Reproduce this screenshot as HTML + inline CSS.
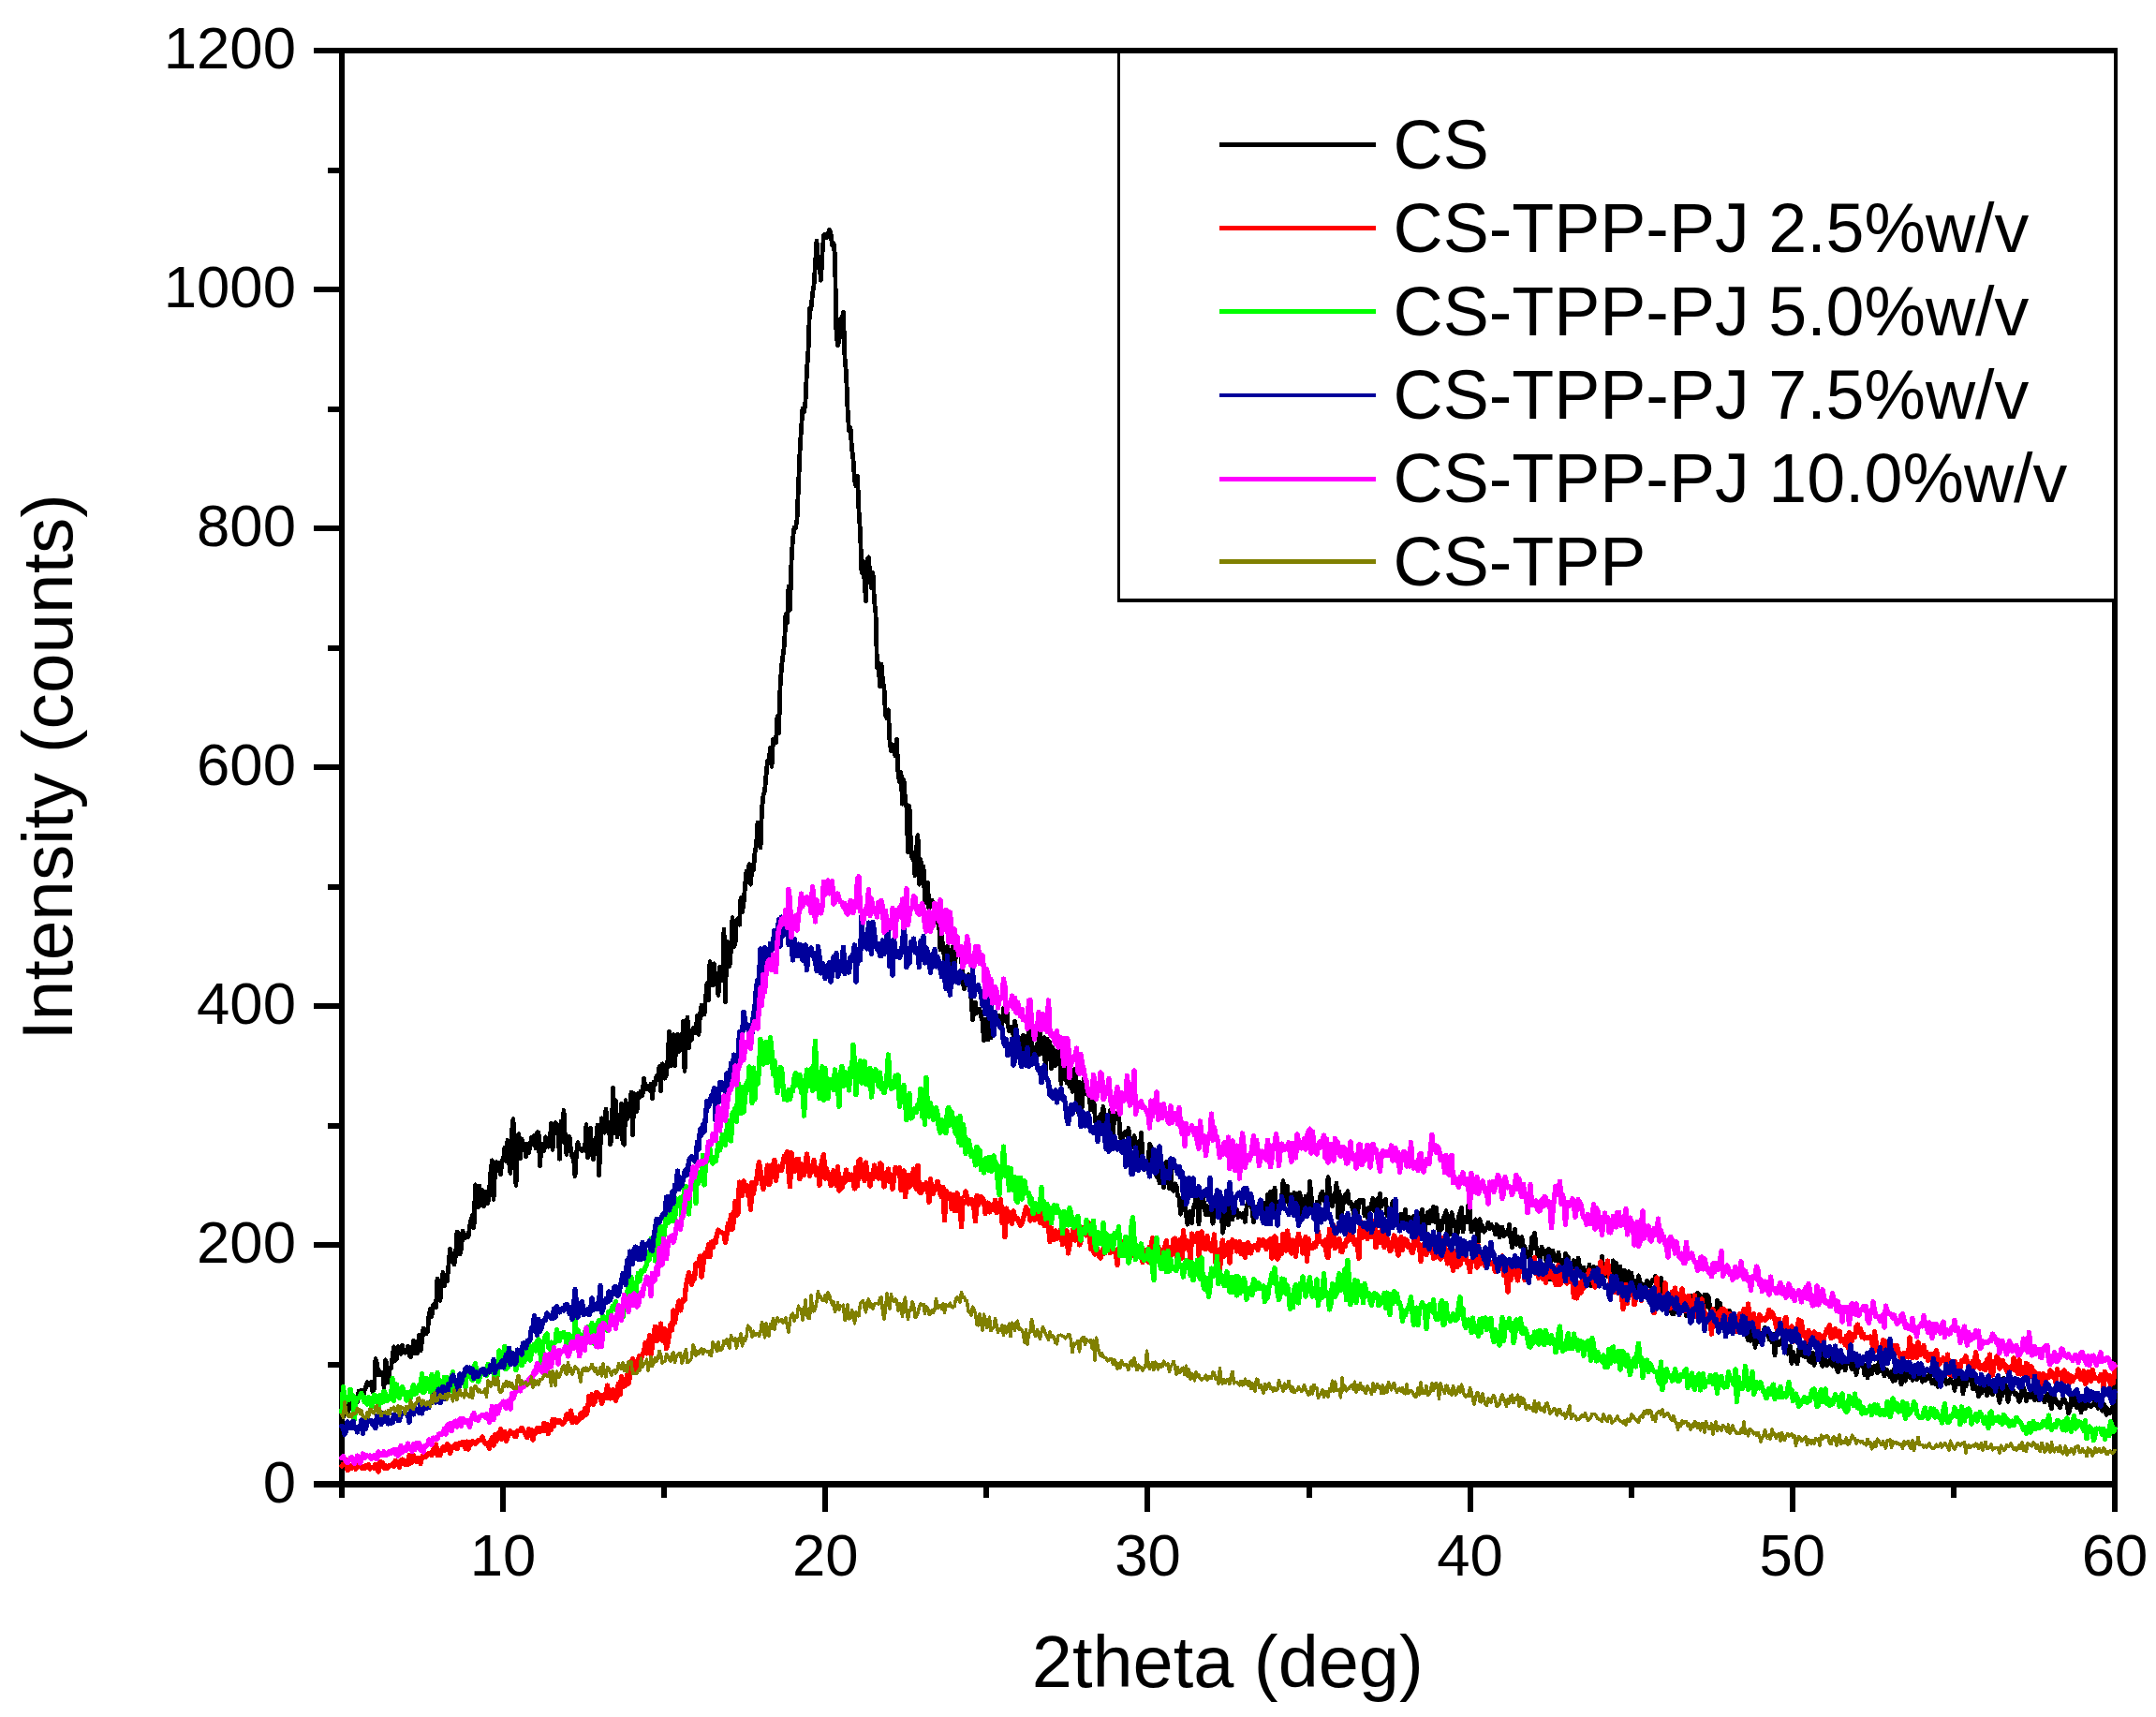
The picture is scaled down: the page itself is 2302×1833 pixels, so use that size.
<!DOCTYPE html>
<html lang="en"><head><meta charset="utf-8"><title>XRD patterns</title>
<style>html,body{margin:0;padding:0;background:#fff}body{width:2302px;height:1833px;overflow:hidden}svg text{font-family:"Liberation Sans",Arial,Helvetica,sans-serif}</style>
</head><body>
<svg width="2302" height="1833" viewBox="0 0 2302 1833" style="display:block">
<rect width="2302" height="1833" fill="#fff"/>
<g fill="#000" shape-rendering="crispEdges">
<rect x="335" y="51" width="1926" height="6"/>
<rect x="362" y="51" width="6" height="1548"/>
<rect x="2255" y="51" width="6" height="1563"/>
<rect x="335" y="1581" width="1926" height="7"/>
<rect x="534" y="1584" width="6" height="30"/>
<rect x="706" y="1584" width="6" height="15"/>
<rect x="878" y="1584" width="6" height="30"/>
<rect x="1050" y="1584" width="6" height="15"/>
<rect x="1222" y="1584" width="6" height="30"/>
<rect x="1395" y="1584" width="6" height="15"/>
<rect x="1567" y="1584" width="6" height="30"/>
<rect x="1739" y="1584" width="6" height="15"/>
<rect x="1911" y="1584" width="6" height="30"/>
<rect x="2083" y="1584" width="6" height="15"/>
<rect x="350" y="1454" width="15" height="6"/>
<rect x="335" y="1326" width="30" height="6"/>
<rect x="350" y="1199" width="15" height="6"/>
<rect x="335" y="1071" width="30" height="6"/>
<rect x="350" y="944" width="15" height="6"/>
<rect x="335" y="816" width="30" height="6"/>
<rect x="350" y="689" width="15" height="6"/>
<rect x="335" y="561" width="30" height="6"/>
<rect x="350" y="434" width="15" height="6"/>
<rect x="335" y="306" width="30" height="6"/>
<rect x="350" y="179" width="15" height="6"/>
</g>
<path d="M365.0 1510.0 L366.5 1513.0 L368.0 1508.2 L369.5 1495.4 L371.0 1509.2 L372.5 1504.5 L374.0 1496.1 L375.5 1502.5 L377.0 1499.5 L378.5 1497.5 L380.0 1494.1 L381.5 1496.4 L383.0 1485.4 L384.5 1488.2 L386.0 1484.3 L387.5 1490.9 L389.0 1485.2 L390.5 1481.2 L392.0 1475.8 L393.5 1478.4 L395.0 1478.9 L396.5 1475.1 L398.0 1486.0 L399.5 1482.2 L401.0 1450.6 L402.5 1455.5 L404.0 1467.8 L405.5 1464.2 L407.0 1467.8 L408.5 1466.3 L410.0 1480.7 L411.5 1451.8 L413.0 1456.5 L414.5 1475.7 L416.0 1462.2 L417.5 1460.9 L419.0 1449.2 L420.5 1437.9 L422.0 1452.4 L423.5 1450.6 L425.0 1437.5 L426.5 1441.1 L428.0 1445.4 L429.5 1436.5 L431.0 1443.3 L432.5 1444.2 L434.0 1442.9 L435.5 1437.2 L437.0 1446.5 L438.5 1448.6 L440.0 1442.6 L441.5 1431.4 L443.0 1444.8 L444.5 1432.5 L446.0 1444.3 L447.5 1425.0 L449.0 1442.2 L450.5 1432.0 L452.0 1418.3 L453.5 1424.2 L455.0 1423.9 L456.5 1421.6 L458.0 1404.2 L459.5 1397.5 L461.0 1405.3 L462.5 1392.9 L464.0 1394.9 L465.5 1395.4 L467.0 1364.9 L468.5 1381.4 L470.0 1388.3 L471.5 1367.8 L473.0 1358.4 L474.5 1372.5 L476.0 1363.4 L477.5 1367.4 L479.0 1349.8 L480.5 1333.3 L482.0 1346.0 L483.5 1338.8 L485.0 1350.0 L486.5 1340.0 L488.0 1315.0 L489.5 1317.0 L491.0 1339.0 L492.5 1333.5 L494.0 1314.2 L495.5 1318.9 L497.0 1321.3 L498.5 1318.4 L500.0 1320.4 L501.5 1309.5 L503.0 1302.0 L504.5 1296.8 L506.0 1310.6 L507.5 1264.9 L509.0 1289.1 L510.5 1288.4 L512.0 1266.3 L513.5 1286.4 L515.0 1270.6 L516.5 1287.8 L518.0 1271.9 L519.5 1279.8 L521.0 1284.5 L522.5 1270.5 L524.0 1250.4 L525.5 1238.7 L527.0 1280.3 L528.5 1251.6 L530.0 1240.6 L531.5 1249.2 L533.0 1241.7 L534.5 1253.6 L536.0 1239.6 L537.5 1237.1 L539.0 1224.9 L540.5 1240.0 L542.0 1217.4 L543.5 1240.7 L545.0 1252.3 L546.5 1208.5 L548.0 1194.6 L549.5 1238.2 L551.0 1265.4 L552.5 1214.5 L554.0 1210.7 L555.5 1236.7 L557.0 1216.0 L558.5 1220.6 L560.0 1222.7 L561.5 1235.0 L563.0 1221.4 L564.5 1231.0 L566.0 1224.2 L567.5 1214.4 L569.0 1221.6 L570.5 1212.3 L572.0 1225.6 L573.5 1208.9 L575.0 1208.8 L576.5 1244.7 L578.0 1222.2 L579.5 1221.2 L581.0 1228.4 L582.5 1213.9 L584.0 1215.7 L585.5 1224.1 L587.0 1221.1 L588.5 1199.3 L590.0 1227.4 L591.5 1206.0 L593.0 1198.7 L594.5 1200.6 L596.0 1207.9 L597.5 1237.4 L599.0 1197.2 L600.5 1217.5 L602.0 1185.4 L603.5 1217.7 L605.0 1232.3 L606.5 1217.5 L608.0 1213.4 L609.5 1227.3 L611.0 1235.4 L612.5 1236.1 L614.0 1255.6 L615.5 1231.0 L617.0 1219.7 L618.5 1226.2 L620.0 1226.6 L621.5 1228.7 L623.0 1226.0 L624.5 1228.1 L626.0 1200.7 L627.5 1235.6 L629.0 1214.2 L630.5 1204.4 L632.0 1229.2 L633.5 1237.7 L635.0 1224.4 L636.5 1218.2 L638.0 1200.9 L639.5 1254.9 L641.0 1224.6 L642.5 1193.7 L644.0 1197.7 L645.5 1209.2 L647.0 1184.0 L648.5 1208.2 L650.0 1197.8 L651.5 1221.6 L653.0 1216.6 L654.5 1161.1 L656.0 1200.7 L657.5 1174.9 L659.0 1214.2 L660.5 1199.1 L662.0 1203.6 L663.5 1178.3 L665.0 1220.3 L666.5 1222.0 L668.0 1174.5 L669.5 1194.8 L671.0 1177.8 L672.5 1186.2 L674.0 1166.1 L675.5 1212.1 L677.0 1167.7 L678.5 1176.2 L680.0 1186.6 L681.5 1167.2 L683.0 1171.6 L684.5 1164.7 L686.0 1169.4 L687.5 1151.5 L689.0 1161.0 L690.5 1162.9 L692.0 1159.3 L693.5 1164.0 L695.0 1157.3 L696.5 1172.5 L698.0 1155.0 L699.5 1157.4 L701.0 1148.8 L702.5 1150.6 L704.0 1138.5 L705.5 1164.8 L707.0 1135.8 L708.5 1138.1 L710.0 1151.2 L711.5 1147.4 L713.0 1130.6 L714.5 1101.4 L716.0 1138.1 L717.5 1133.4 L719.0 1104.7 L720.5 1137.9 L722.0 1112.7 L723.5 1104.3 L725.0 1122.4 L726.5 1116.5 L728.0 1121.0 L729.5 1090.5 L731.0 1143.5 L732.5 1103.0 L734.0 1086.0 L735.5 1118.7 L737.0 1101.2 L738.5 1110.1 L740.0 1097.5 L741.5 1099.9 L743.0 1102.6 L744.5 1084.3 L746.0 1104.4 L747.5 1083.1 L749.0 1073.2 L750.5 1083.2 L752.0 1083.0 L753.5 1065.8 L755.0 1049.5 L756.5 1068.1 L758.0 1026.5 L759.5 1036.3 L761.0 1052.1 L762.5 1028.7 L764.0 1050.2 L765.5 1048.1 L767.0 1062.4 L768.5 1032.2 L770.0 1035.1 L771.5 1047.0 L773.0 992.1 L774.5 1069.9 L776.0 1005.3 L777.5 1006.0 L779.0 1031.5 L780.5 1013.6 L782.0 979.7 L783.5 1011.0 L785.0 1008.0 L786.5 982.3 L788.0 980.8 L789.5 987.3 L791.0 958.5 L792.5 973.6 L794.0 964.0 L795.5 945.8 L797.0 929.9 L798.5 941.4 L800.0 922.5 L801.5 944.2 L803.0 923.6 L804.5 928.5 L806.0 909.8 L807.5 902.5 L809.0 878.1 L810.5 894.3 L812.0 905.0 L813.5 863.4 L815.0 849.1 L816.5 844.7 L818.0 827.5 L819.5 812.0 L821.0 814.4 L822.5 798.1 L824.0 818.4 L825.5 789.2 L827.0 788.6 L828.5 792.4 L830.0 764.8 L831.5 782.6 L833.0 733.9 L834.5 711.9 L836.0 699.9 L837.5 688.2 L839.0 655.6 L840.5 665.1 L842.0 626.3 L843.5 651.2 L845.0 599.7 L846.5 575.1 L848.0 563.4 L849.5 563.7 L851.0 555.1 L852.5 518.6 L854.0 482.7 L855.5 457.5 L857.0 436.0 L858.5 440.2 L860.0 428.4 L861.5 395.4 L863.0 374.1 L864.5 329.2 L866.0 329.6 L867.5 314.2 L869.0 304.6 L870.5 282.6 L872.0 257.1 L873.5 283.9 L875.0 282.2 L876.5 299.3 L878.0 270.5 L879.5 251.5 L881.0 250.2 L882.5 253.4 L884.0 250.2 L885.5 245.3 L887.0 249.0 L888.5 262.1 L890.0 259.5 L891.5 273.0 L893.0 357.0 L894.5 368.7 L896.0 363.3 L897.5 340.1 L899.0 341.3 L900.5 333.2 L902.0 381.4 L903.5 398.1 L905.0 435.9 L906.5 460.2 L908.0 457.0 L909.5 478.2 L911.0 490.3 L912.5 513.2 L914.0 518.5 L915.5 508.2 L917.0 545.2 L918.5 568.0 L920.0 611.3 L921.5 599.1 L923.0 618.8 L924.5 641.9 L926.0 597.4 L927.5 594.9 L929.0 617.3 L930.5 627.5 L932.0 611.5 L933.5 641.4 L935.0 654.5 L936.5 712.7 L938.0 707.3 L939.5 732.6 L941.0 709.0 L942.5 726.4 L944.0 734.7 L945.5 764.0 L947.0 766.8 L948.5 757.7 L950.0 791.6 L951.5 801.7 L953.0 795.0 L954.5 799.4 L956.0 806.8 L957.5 789.3 L959.0 826.4 L960.5 834.6 L962.0 824.8 L963.5 858.4 L965.0 832.5 L966.5 853.5 L968.0 862.6 L969.5 910.0 L971.0 860.5 L972.5 902.8 L974.0 916.3 L975.5 914.6 L977.0 934.6 L978.5 906.4 L980.0 891.6 L981.5 944.2 L983.0 917.5 L984.5 934.9 L986.0 925.2 L987.5 963.1 L989.0 963.5 L990.5 942.5 L992.0 970.9 L993.5 962.1 L995.0 961.1 L996.5 967.2 L998.0 966.9 L999.5 983.4 L1001.0 985.0 L1002.5 984.6 L1004.0 1014.2 L1005.5 998.0 L1007.0 1015.1 L1008.5 1020.3 L1010.0 1037.8 L1011.5 1010.5 L1013.0 1043.1 L1014.5 1021.0 L1016.0 1016.1 L1017.5 1009.8 L1019.0 1028.6 L1020.5 1022.4 L1022.0 1007.9 L1023.5 1009.7 L1025.0 1020.1 L1026.5 1021.1 L1028.0 1048.6 L1029.5 1055.5 L1031.0 1051.7 L1032.5 1048.0 L1034.0 1040.6 L1035.5 1050.7 L1037.0 1066.5 L1038.5 1088.6 L1040.0 1079.1 L1041.5 1070.5 L1043.0 1081.3 L1044.5 1079.3 L1046.0 1077.2 L1047.5 1085.0 L1049.0 1089.9 L1050.5 1111.1 L1052.0 1088.0 L1053.5 1104.9 L1055.0 1110.1 L1056.5 1088.4 L1058.0 1108.0 L1059.5 1096.5 L1061.0 1082.0 L1062.5 1090.8 L1064.0 1087.7 L1065.5 1084.4 L1067.0 1084.8 L1068.5 1089.2 L1070.0 1092.9 L1071.5 1076.6 L1073.0 1088.6 L1074.5 1070.6 L1076.0 1094.5 L1077.5 1100.5 L1079.0 1096.3 L1080.5 1099.4 L1082.0 1104.7 L1083.5 1090.5 L1085.0 1097.0 L1086.5 1107.5 L1088.0 1114.7 L1089.5 1108.5 L1091.0 1136.2 L1092.5 1105.0 L1094.0 1119.6 L1095.5 1124.1 L1097.0 1108.3 L1098.5 1101.3 L1100.0 1098.2 L1101.5 1115.6 L1103.0 1128.2 L1104.5 1119.3 L1106.0 1119.3 L1107.5 1113.9 L1109.0 1126.2 L1110.5 1095.3 L1112.0 1124.4 L1113.5 1123.0 L1115.0 1107.5 L1116.5 1150.0 L1118.0 1109.0 L1119.5 1113.4 L1121.0 1112.8 L1122.5 1140.5 L1124.0 1118.2 L1125.5 1137.2 L1127.0 1137.4 L1128.5 1134.9 L1130.0 1118.6 L1131.5 1128.5 L1133.0 1156.7 L1134.5 1125.3 L1136.0 1132.9 L1137.5 1142.9 L1139.0 1156.1 L1140.5 1152.1 L1142.0 1159.6 L1143.5 1141.4 L1145.0 1165.5 L1146.5 1163.1 L1148.0 1141.1 L1149.5 1177.1 L1151.0 1186.9 L1152.5 1155.3 L1154.0 1165.9 L1155.5 1182.1 L1157.0 1152.9 L1158.5 1149.2 L1160.0 1158.5 L1161.5 1168.3 L1163.0 1170.2 L1164.5 1184.8 L1166.0 1183.2 L1167.5 1169.3 L1169.0 1190.0 L1170.5 1205.2 L1172.0 1199.5 L1173.5 1198.5 L1175.0 1189.6 L1176.5 1200.5 L1178.0 1181.4 L1179.5 1199.9 L1181.0 1192.2 L1182.5 1205.5 L1184.0 1199.6 L1185.5 1184.8 L1187.0 1198.1 L1188.5 1210.1 L1190.0 1187.7 L1191.5 1194.6 L1193.0 1193.6 L1194.5 1187.6 L1196.0 1213.2 L1197.5 1217.8 L1199.0 1214.0 L1200.5 1209.8 L1202.0 1208.2 L1203.5 1212.4 L1205.0 1204.4 L1206.5 1221.6 L1208.0 1224.5 L1209.5 1224.9 L1211.0 1212.5 L1212.5 1220.1 L1214.0 1219.6 L1215.5 1240.1 L1217.0 1226.8 L1218.5 1209.5 L1220.0 1232.8 L1221.5 1248.6 L1223.0 1239.5 L1224.5 1243.3 L1226.0 1237.6 L1227.5 1221.4 L1229.0 1225.1 L1230.5 1232.4 L1232.0 1244.7 L1233.5 1250.8 L1235.0 1256.3 L1236.5 1249.1 L1238.0 1262.7 L1239.5 1253.7 L1241.0 1252.0 L1242.5 1267.8 L1244.0 1254.2 L1245.5 1240.2 L1247.0 1257.0 L1248.5 1269.1 L1250.0 1243.3 L1251.5 1269.0 L1253.0 1271.2 L1254.5 1263.8 L1256.0 1265.6 L1257.5 1276.8 L1259.0 1278.5 L1260.5 1296.2 L1262.0 1290.7 L1263.5 1275.8 L1265.0 1283.2 L1266.5 1297.1 L1268.0 1307.2 L1269.5 1294.3 L1271.0 1293.4 L1272.5 1306.1 L1274.0 1289.7 L1275.5 1286.9 L1277.0 1277.1 L1278.5 1284.3 L1280.0 1306.9 L1281.5 1276.2 L1283.0 1288.4 L1284.5 1276.6 L1286.0 1289.9 L1287.5 1296.8 L1289.0 1287.6 L1290.5 1296.4 L1292.0 1296.8 L1293.5 1295.0 L1295.0 1306.2 L1296.5 1298.7 L1298.0 1289.9 L1299.5 1286.9 L1301.0 1285.7 L1302.5 1297.0 L1304.0 1290.3 L1305.5 1316.2 L1307.0 1308.8 L1308.5 1291.5 L1310.0 1290.6 L1311.5 1307.7 L1313.0 1277.7 L1314.5 1289.8 L1316.0 1301.7 L1317.5 1286.1 L1319.0 1289.8 L1320.5 1291.0 L1322.0 1299.6 L1323.5 1295.4 L1325.0 1297.7 L1326.5 1299.6 L1328.0 1295.0 L1329.5 1304.4 L1331.0 1289.1 L1332.5 1283.5 L1334.0 1280.9 L1335.5 1282.4 L1337.0 1291.6 L1338.5 1305.1 L1340.0 1298.1 L1341.5 1291.8 L1343.0 1288.0 L1344.5 1292.6 L1346.0 1293.7 L1347.5 1292.1 L1349.0 1284.3 L1350.5 1291.6 L1352.0 1303.1 L1353.5 1275.1 L1355.0 1290.0 L1356.5 1272.6 L1358.0 1290.6 L1359.5 1281.2 L1361.0 1268.2 L1362.5 1285.4 L1364.0 1298.7 L1365.5 1282.8 L1367.0 1290.8 L1368.5 1279.3 L1370.0 1260.7 L1371.5 1283.2 L1373.0 1275.4 L1374.5 1266.5 L1376.0 1286.1 L1377.5 1282.1 L1379.0 1275.5 L1380.5 1288.0 L1382.0 1273.4 L1383.5 1287.0 L1385.0 1273.9 L1386.5 1287.0 L1388.0 1273.4 L1389.5 1296.1 L1391.0 1285.8 L1392.5 1296.2 L1394.0 1277.1 L1395.5 1280.3 L1397.0 1291.8 L1398.5 1261.4 L1400.0 1276.0 L1401.5 1294.1 L1403.0 1289.5 L1404.5 1294.1 L1406.0 1283.3 L1407.5 1290.9 L1409.0 1280.1 L1410.5 1274.7 L1412.0 1272.1 L1413.5 1282.0 L1415.0 1282.1 L1416.5 1281.4 L1418.0 1256.6 L1419.5 1269.6 L1421.0 1281.4 L1422.5 1287.7 L1424.0 1279.5 L1425.5 1276.2 L1427.0 1263.1 L1428.5 1299.5 L1430.0 1272.1 L1431.5 1295.5 L1433.0 1294.1 L1434.5 1282.9 L1436.0 1275.7 L1437.5 1282.2 L1439.0 1271.7 L1440.5 1284.6 L1442.0 1283.2 L1443.5 1288.7 L1445.0 1293.2 L1446.5 1300.8 L1448.0 1283.6 L1449.5 1296.6 L1451.0 1281.7 L1452.5 1281.3 L1454.0 1284.0 L1455.5 1281.0 L1457.0 1297.6 L1458.5 1297.1 L1460.0 1300.1 L1461.5 1289.1 L1463.0 1291.6 L1464.5 1284.4 L1466.0 1279.5 L1467.5 1293.1 L1469.0 1291.6 L1470.5 1279.9 L1472.0 1294.3 L1473.5 1274.5 L1475.0 1287.8 L1476.5 1283.9 L1478.0 1284.8 L1479.5 1280.2 L1481.0 1297.9 L1482.5 1295.2 L1484.0 1301.3 L1485.5 1293.5 L1487.0 1282.6 L1488.5 1291.6 L1490.0 1286.2 L1491.5 1301.2 L1493.0 1308.8 L1494.5 1302.7 L1496.0 1296.1 L1497.5 1299.0 L1499.0 1304.6 L1500.5 1291.5 L1502.0 1305.0 L1503.5 1305.7 L1505.0 1299.8 L1506.5 1301.1 L1508.0 1306.2 L1509.5 1298.2 L1511.0 1298.4 L1512.5 1311.8 L1514.0 1307.4 L1515.5 1319.6 L1517.0 1297.7 L1518.5 1291.3 L1520.0 1313.9 L1521.5 1314.1 L1523.0 1300.2 L1524.5 1294.3 L1526.0 1306.1 L1527.5 1292.1 L1529.0 1303.7 L1530.5 1288.5 L1532.0 1304.5 L1533.5 1289.0 L1535.0 1304.4 L1536.5 1318.7 L1538.0 1303.8 L1539.5 1312.2 L1541.0 1300.3 L1542.5 1298.0 L1544.0 1292.8 L1545.5 1313.5 L1547.0 1304.2 L1548.5 1317.9 L1550.0 1294.5 L1551.5 1302.2 L1553.0 1304.5 L1554.5 1315.4 L1556.0 1318.7 L1557.5 1298.1 L1559.0 1294.1 L1560.5 1289.1 L1562.0 1314.7 L1563.5 1303.3 L1565.0 1299.2 L1566.5 1304.8 L1568.0 1284.8 L1569.5 1292.5 L1571.0 1315.2 L1572.5 1311.6 L1574.0 1310.4 L1575.5 1301.8 L1577.0 1315.5 L1578.5 1325.8 L1580.0 1301.7 L1581.5 1312.2 L1583.0 1308.6 L1584.5 1315.1 L1586.0 1312.3 L1587.5 1310.9 L1589.0 1305.0 L1590.5 1312.0 L1592.0 1307.1 L1593.5 1311.0 L1595.0 1311.6 L1596.5 1317.5 L1598.0 1307.4 L1599.5 1309.5 L1601.0 1320.9 L1602.5 1310.4 L1604.0 1310.0 L1605.5 1319.6 L1607.0 1315.6 L1608.5 1315.2 L1610.0 1317.7 L1611.5 1307.5 L1613.0 1323.0 L1614.5 1331.7 L1616.0 1327.5 L1617.5 1312.2 L1619.0 1328.5 L1620.5 1320.5 L1622.0 1327.0 L1623.5 1330.6 L1625.0 1320.7 L1626.5 1341.0 L1628.0 1330.4 L1629.5 1337.5 L1631.0 1336.6 L1632.5 1342.4 L1634.0 1341.5 L1635.5 1320.8 L1637.0 1332.9 L1638.5 1316.0 L1640.0 1329.5 L1641.5 1338.8 L1643.0 1340.6 L1644.5 1343.8 L1646.0 1331.0 L1647.5 1336.7 L1649.0 1335.3 L1650.5 1344.8 L1652.0 1347.7 L1653.5 1333.0 L1655.0 1365.9 L1656.5 1337.1 L1658.0 1335.2 L1659.5 1343.7 L1661.0 1345.9 L1662.5 1345.4 L1664.0 1337.3 L1665.5 1354.8 L1667.0 1345.0 L1668.5 1357.5 L1670.0 1357.5 L1671.5 1338.1 L1673.0 1341.3 L1674.5 1341.9 L1676.0 1352.1 L1677.5 1351.1 L1679.0 1353.3 L1680.5 1345.6 L1682.0 1355.4 L1683.5 1363.2 L1685.0 1343.0 L1686.5 1351.9 L1688.0 1355.7 L1689.5 1353.2 L1691.0 1353.0 L1692.5 1368.1 L1694.0 1364.8 L1695.5 1361.8 L1697.0 1350.0 L1698.5 1372.8 L1700.0 1358.9 L1701.5 1352.1 L1703.0 1354.1 L1704.5 1353.2 L1706.0 1372.9 L1707.5 1358.7 L1709.0 1357.8 L1710.5 1341.4 L1712.0 1363.1 L1713.5 1349.9 L1715.0 1349.5 L1716.5 1362.7 L1718.0 1351.8 L1719.5 1364.7 L1721.0 1367.1 L1722.5 1345.7 L1724.0 1358.3 L1725.5 1348.2 L1727.0 1360.0 L1728.5 1368.0 L1730.0 1352.0 L1731.5 1376.3 L1733.0 1361.6 L1734.5 1356.2 L1736.0 1364.9 L1737.5 1372.6 L1739.0 1357.6 L1740.5 1368.6 L1742.0 1359.3 L1743.5 1378.7 L1745.0 1371.5 L1746.5 1367.7 L1748.0 1378.5 L1749.5 1361.9 L1751.0 1368.6 L1752.5 1385.0 L1754.0 1370.8 L1755.5 1381.7 L1757.0 1373.4 L1758.5 1367.0 L1760.0 1370.4 L1761.5 1372.9 L1763.0 1369.5 L1764.5 1366.7 L1766.0 1367.3 L1767.5 1362.5 L1769.0 1374.3 L1770.5 1376.9 L1772.0 1380.7 L1773.5 1364.4 L1775.0 1385.5 L1776.5 1382.4 L1778.0 1375.4 L1779.5 1388.9 L1781.0 1396.6 L1782.5 1396.9 L1784.0 1400.2 L1785.5 1402.9 L1787.0 1403.0 L1788.5 1396.5 L1790.0 1382.3 L1791.5 1390.8 L1793.0 1397.9 L1794.5 1391.5 L1796.0 1398.7 L1797.5 1398.6 L1799.0 1392.6 L1800.5 1404.4 L1802.0 1383.9 L1803.5 1396.4 L1805.0 1386.0 L1806.5 1383.3 L1808.0 1392.5 L1809.5 1383.9 L1811.0 1394.2 L1812.5 1380.1 L1814.0 1388.7 L1815.5 1382.9 L1817.0 1387.5 L1818.5 1386.9 L1820.0 1382.2 L1821.5 1395.1 L1823.0 1382.6 L1824.5 1385.1 L1826.0 1398.7 L1827.5 1400.0 L1829.0 1398.7 L1830.5 1397.2 L1832.0 1411.3 L1833.5 1388.3 L1835.0 1392.3 L1836.5 1391.5 L1838.0 1405.2 L1839.5 1401.9 L1841.0 1408.4 L1842.5 1408.5 L1844.0 1401.7 L1845.5 1399.2 L1847.0 1399.5 L1848.5 1422.4 L1850.0 1415.7 L1851.5 1414.9 L1853.0 1410.5 L1854.5 1413.2 L1856.0 1413.9 L1857.5 1415.7 L1859.0 1403.9 L1860.5 1420.4 L1862.0 1419.7 L1863.5 1425.1 L1865.0 1425.7 L1866.5 1430.6 L1868.0 1425.8 L1869.5 1431.4 L1871.0 1410.7 L1872.5 1420.3 L1874.0 1438.3 L1875.5 1420.2 L1877.0 1426.4 L1878.5 1432.8 L1880.0 1423.1 L1881.5 1433.3 L1883.0 1420.1 L1884.5 1417.3 L1886.0 1421.2 L1887.5 1419.4 L1889.0 1429.8 L1890.5 1428.2 L1892.0 1432.5 L1893.5 1424.4 L1895.0 1446.9 L1896.5 1431.0 L1898.0 1431.7 L1899.5 1435.5 L1901.0 1432.0 L1902.5 1430.6 L1904.0 1436.1 L1905.5 1442.4 L1907.0 1442.1 L1908.5 1445.1 L1910.0 1437.4 L1911.5 1437.5 L1913.0 1455.4 L1914.5 1443.3 L1916.0 1448.7 L1917.5 1451.2 L1919.0 1456.1 L1920.5 1440.5 L1922.0 1446.1 L1923.5 1446.6 L1925.0 1447.5 L1926.5 1435.3 L1928.0 1449.0 L1929.5 1433.0 L1931.0 1451.9 L1932.5 1453.7 L1934.0 1454.5 L1935.5 1444.5 L1937.0 1457.5 L1938.5 1447.4 L1940.0 1445.7 L1941.5 1447.5 L1943.0 1448.6 L1944.5 1454.7 L1946.0 1458.5 L1947.5 1441.7 L1949.0 1450.2 L1950.5 1458.0 L1952.0 1453.6 L1953.5 1455.3 L1955.0 1443.8 L1956.5 1458.2 L1958.0 1443.9 L1959.5 1454.4 L1961.0 1461.5 L1962.5 1464.9 L1964.0 1457.5 L1965.5 1460.1 L1967.0 1452.0 L1968.5 1453.1 L1970.0 1462.9 L1971.5 1456.6 L1973.0 1456.1 L1974.5 1449.2 L1976.0 1458.3 L1977.5 1461.4 L1979.0 1453.6 L1980.5 1455.5 L1982.0 1467.6 L1983.5 1460.0 L1985.0 1457.6 L1986.5 1453.1 L1988.0 1456.4 L1989.5 1458.7 L1991.0 1468.1 L1992.5 1457.3 L1994.0 1471.1 L1995.5 1456.2 L1997.0 1459.7 L1998.5 1466.7 L2000.0 1461.0 L2001.5 1458.0 L2003.0 1462.3 L2004.5 1465.8 L2006.0 1454.1 L2007.5 1462.6 L2009.0 1463.7 L2010.5 1462.3 L2012.0 1468.9 L2013.5 1461.9 L2015.0 1463.3 L2016.5 1465.7 L2018.0 1469.7 L2019.5 1464.7 L2021.0 1474.4 L2022.5 1461.2 L2024.0 1473.4 L2025.5 1461.8 L2027.0 1465.7 L2028.5 1468.7 L2030.0 1478.1 L2031.5 1471.9 L2033.0 1464.9 L2034.5 1474.3 L2036.0 1466.2 L2037.5 1463.2 L2039.0 1470.2 L2040.5 1468.5 L2042.0 1473.4 L2043.5 1465.5 L2045.0 1470.8 L2046.5 1472.5 L2048.0 1470.9 L2049.5 1469.6 L2051.0 1466.3 L2052.5 1475.3 L2054.0 1471.5 L2055.5 1473.8 L2057.0 1469.6 L2058.5 1471.8 L2060.0 1466.5 L2061.5 1472.7 L2063.0 1476.6 L2064.5 1473.2 L2066.0 1477.4 L2067.5 1474.7 L2069.0 1480.4 L2070.5 1472.3 L2072.0 1464.7 L2073.5 1475.9 L2075.0 1472.8 L2076.5 1468.6 L2078.0 1477.4 L2079.5 1475.5 L2081.0 1476.6 L2082.5 1472.6 L2084.0 1475.6 L2085.5 1476.1 L2087.0 1484.3 L2088.5 1471.5 L2090.0 1475.3 L2091.5 1477.6 L2093.0 1466.9 L2094.5 1467.8 L2096.0 1487.9 L2097.5 1467.6 L2099.0 1480.2 L2100.5 1473.1 L2102.0 1473.9 L2103.5 1467.8 L2105.0 1473.8 L2106.5 1482.9 L2108.0 1471.9 L2109.5 1482.6 L2111.0 1481.4 L2112.5 1490.5 L2114.0 1477.9 L2115.5 1487.2 L2117.0 1485.5 L2118.5 1479.8 L2120.0 1473.0 L2121.5 1489.6 L2123.0 1475.2 L2124.5 1480.0 L2126.0 1487.3 L2127.5 1488.8 L2129.0 1479.1 L2130.5 1483.5 L2132.0 1482.7 L2133.5 1490.3 L2135.0 1497.3 L2136.5 1475.6 L2138.0 1489.8 L2139.5 1471.0 L2141.0 1485.8 L2142.5 1480.5 L2144.0 1496.4 L2145.5 1487.5 L2147.0 1483.3 L2148.5 1484.8 L2150.0 1484.7 L2151.5 1488.8 L2153.0 1487.4 L2154.5 1491.7 L2156.0 1496.4 L2157.5 1492.6 L2159.0 1483.3 L2160.5 1481.7 L2162.0 1486.3 L2163.5 1495.6 L2165.0 1489.1 L2166.5 1487.8 L2168.0 1492.0 L2169.5 1484.7 L2171.0 1486.4 L2172.5 1494.8 L2174.0 1491.1 L2175.5 1490.6 L2177.0 1494.6 L2178.5 1490.5 L2180.0 1490.2 L2181.5 1491.5 L2183.0 1496.8 L2184.5 1494.3 L2186.0 1488.4 L2187.5 1492.9 L2189.0 1497.6 L2190.5 1503.6 L2192.0 1489.2 L2193.5 1496.5 L2195.0 1493.7 L2196.5 1499.1 L2198.0 1497.4 L2199.5 1502.5 L2201.0 1498.1 L2202.5 1493.1 L2204.0 1493.4 L2205.5 1498.2 L2207.0 1498.5 L2208.5 1508.4 L2210.0 1505.3 L2211.5 1492.1 L2213.0 1499.8 L2214.5 1492.2 L2216.0 1491.1 L2217.5 1502.8 L2219.0 1502.2 L2220.5 1495.0 L2222.0 1507.9 L2223.5 1495.7 L2225.0 1495.0 L2226.5 1503.5 L2228.0 1501.5 L2229.5 1499.7 L2231.0 1500.1 L2232.5 1501.5 L2234.0 1499.8 L2235.5 1499.6 L2237.0 1491.6 L2238.5 1494.2 L2240.0 1503.3 L2241.5 1497.2 L2243.0 1503.0 L2244.5 1506.2 L2246.0 1498.8 L2247.5 1501.8 L2249.0 1510.2 L2250.5 1503.7 L2252.0 1509.1 L2253.5 1507.6 L2255.0 1504.0 L2256.5 1499.9 L2258.0 1496.5" fill="none" stroke="#000000" stroke-width="4.8" stroke-linejoin="round" stroke-linecap="round" shape-rendering="crispEdges"/>
<path d="M365.0 1565.0 L366.5 1563.1 L368.0 1563.6 L369.5 1558.5 L371.0 1569.7 L372.5 1568.2 L374.0 1564.5 L375.5 1567.4 L377.0 1566.2 L378.5 1564.2 L380.0 1568.2 L381.5 1564.9 L383.0 1564.9 L384.5 1563.8 L386.0 1567.0 L387.5 1565.6 L389.0 1567.3 L390.5 1564.4 L392.0 1566.3 L393.5 1563.6 L395.0 1568.1 L396.5 1566.4 L398.0 1566.8 L399.5 1567.0 L401.0 1563.3 L402.5 1567.8 L404.0 1571.0 L405.5 1561.3 L407.0 1560.9 L408.5 1561.3 L410.0 1567.1 L411.5 1565.0 L413.0 1567.3 L414.5 1566.1 L416.0 1564.5 L417.5 1564.4 L419.0 1562.8 L420.5 1565.3 L422.0 1559.6 L423.5 1561.2 L425.0 1562.7 L426.5 1566.7 L428.0 1559.3 L429.5 1558.1 L431.0 1559.2 L432.5 1563.1 L434.0 1559.3 L435.5 1563.3 L437.0 1553.7 L438.5 1561.9 L440.0 1561.2 L441.5 1553.5 L443.0 1557.7 L444.5 1560.3 L446.0 1556.5 L447.5 1558.7 L449.0 1562.4 L450.5 1555.6 L452.0 1553.4 L453.5 1551.4 L455.0 1555.3 L456.5 1552.2 L458.0 1551.8 L459.5 1551.6 L461.0 1553.5 L462.5 1547.5 L464.0 1545.5 L465.5 1542.1 L467.0 1553.3 L468.5 1549.2 L470.0 1553.4 L471.5 1547.9 L473.0 1545.0 L474.5 1548.6 L476.0 1546.3 L477.5 1541.9 L479.0 1542.7 L480.5 1551.3 L482.0 1546.1 L483.5 1546.0 L485.0 1543.3 L486.5 1541.5 L488.0 1546.7 L489.5 1543.0 L491.0 1540.5 L492.5 1542.5 L494.0 1539.5 L495.5 1543.2 L497.0 1546.3 L498.5 1539.2 L500.0 1547.0 L501.5 1539.4 L503.0 1542.1 L504.5 1538.4 L506.0 1540.4 L507.5 1541.1 L509.0 1539.2 L510.5 1538.0 L512.0 1537.8 L513.5 1537.0 L515.0 1534.0 L516.5 1538.4 L518.0 1540.4 L519.5 1541.8 L521.0 1540.4 L522.5 1546.6 L524.0 1538.3 L525.5 1534.9 L527.0 1543.0 L528.5 1531.5 L530.0 1538.6 L531.5 1530.8 L533.0 1535.2 L534.5 1525.8 L536.0 1536.3 L537.5 1531.8 L539.0 1528.3 L540.5 1538.1 L542.0 1534.3 L543.5 1531.2 L545.0 1527.9 L546.5 1530.5 L548.0 1529.8 L549.5 1533.1 L551.0 1533.3 L552.5 1527.4 L554.0 1527.7 L555.5 1527.7 L557.0 1524.4 L558.5 1527.2 L560.0 1529.1 L561.5 1532.1 L563.0 1534.4 L564.5 1525.9 L566.0 1531.1 L567.5 1527.0 L569.0 1536.9 L570.5 1528.2 L572.0 1530.2 L573.5 1524.3 L575.0 1524.4 L576.5 1528.1 L578.0 1525.2 L579.5 1527.6 L581.0 1519.3 L582.5 1527.6 L584.0 1520.6 L585.5 1530.6 L587.0 1521.6 L588.5 1526.6 L590.0 1515.4 L591.5 1522.3 L593.0 1516.0 L594.5 1517.0 L596.0 1518.6 L597.5 1516.5 L599.0 1518.5 L600.5 1520.1 L602.0 1519.3 L603.5 1515.8 L605.0 1510.0 L606.5 1512.2 L608.0 1514.6 L609.5 1506.0 L611.0 1518.4 L612.5 1513.9 L614.0 1513.6 L615.5 1518.6 L617.0 1517.1 L618.5 1514.8 L620.0 1508.9 L621.5 1513.6 L623.0 1511.9 L624.5 1503.9 L626.0 1510.1 L627.5 1504.8 L629.0 1490.2 L630.5 1497.7 L632.0 1488.8 L633.5 1499.1 L635.0 1496.7 L636.5 1486.6 L638.0 1487.2 L639.5 1491.7 L641.0 1489.6 L642.5 1498.1 L644.0 1493.9 L645.5 1488.5 L647.0 1492.5 L648.5 1479.0 L650.0 1490.5 L651.5 1492.9 L653.0 1487.0 L654.5 1483.7 L656.0 1489.4 L657.5 1495.5 L659.0 1485.3 L660.5 1477.0 L662.0 1488.9 L663.5 1469.7 L665.0 1480.5 L666.5 1472.9 L668.0 1479.1 L669.5 1467.6 L671.0 1477.2 L672.5 1469.1 L674.0 1455.0 L675.5 1450.6 L677.0 1457.1 L678.5 1463.6 L680.0 1454.3 L681.5 1451.5 L683.0 1447.4 L684.5 1450.9 L686.0 1446.4 L687.5 1443.6 L689.0 1433.7 L690.5 1445.0 L692.0 1444.2 L693.5 1425.8 L695.0 1446.7 L696.5 1435.4 L698.0 1426.4 L699.5 1416.3 L701.0 1431.6 L702.5 1430.0 L704.0 1421.7 L705.5 1413.2 L707.0 1431.1 L708.5 1419.2 L710.0 1419.0 L711.5 1439.5 L713.0 1433.8 L714.5 1424.9 L716.0 1414.3 L717.5 1420.0 L719.0 1398.8 L720.5 1412.1 L722.0 1403.0 L723.5 1395.4 L725.0 1388.9 L726.5 1398.9 L728.0 1391.2 L729.5 1387.2 L731.0 1387.9 L732.5 1371.9 L734.0 1365.8 L735.5 1358.6 L737.0 1366.3 L738.5 1371.5 L740.0 1361.9 L741.5 1365.2 L743.0 1348.8 L744.5 1351.7 L746.0 1347.1 L747.5 1341.1 L749.0 1363.0 L750.5 1353.3 L752.0 1339.0 L753.5 1337.2 L755.0 1341.1 L756.5 1328.5 L758.0 1341.7 L759.5 1326.2 L761.0 1331.7 L762.5 1324.4 L764.0 1326.7 L765.5 1317.6 L767.0 1313.2 L768.5 1315.7 L770.0 1315.6 L771.5 1316.3 L773.0 1316.7 L774.5 1326.3 L776.0 1317.8 L777.5 1306.4 L779.0 1311.9 L780.5 1297.2 L782.0 1312.3 L783.5 1301.8 L785.0 1282.5 L786.5 1297.7 L788.0 1295.4 L789.5 1262.2 L791.0 1276.3 L792.5 1276.2 L794.0 1261.1 L795.5 1266.5 L797.0 1265.4 L798.5 1276.3 L800.0 1272.4 L801.5 1291.3 L803.0 1262.4 L804.5 1274.5 L806.0 1263.2 L807.5 1263.4 L809.0 1249.0 L810.5 1240.9 L812.0 1250.1 L813.5 1262.9 L815.0 1269.4 L816.5 1259.4 L818.0 1257.4 L819.5 1244.1 L821.0 1264.9 L822.5 1262.2 L824.0 1244.1 L825.5 1247.8 L827.0 1238.3 L828.5 1260.4 L830.0 1250.2 L831.5 1245.1 L833.0 1249.5 L834.5 1249.7 L836.0 1241.8 L837.5 1234.2 L839.0 1233.9 L840.5 1229.8 L842.0 1250.3 L843.5 1266.7 L845.0 1230.7 L846.5 1247.9 L848.0 1250.6 L849.5 1238.0 L851.0 1249.2 L852.5 1237.4 L854.0 1258.8 L855.5 1242.4 L857.0 1249.0 L858.5 1254.5 L860.0 1244.4 L861.5 1232.0 L863.0 1243.6 L864.5 1255.5 L866.0 1247.7 L867.5 1250.5 L869.0 1238.4 L870.5 1249.5 L872.0 1254.7 L873.5 1248.2 L875.0 1265.3 L876.5 1245.7 L878.0 1238.0 L879.5 1232.6 L881.0 1258.2 L882.5 1247.5 L884.0 1258.0 L885.5 1253.8 L887.0 1265.6 L888.5 1263.5 L890.0 1249.7 L891.5 1257.0 L893.0 1265.6 L894.5 1245.6 L896.0 1271.0 L897.5 1269.5 L899.0 1267.9 L900.5 1257.4 L902.0 1261.9 L903.5 1249.0 L905.0 1259.5 L906.5 1253.6 L908.0 1259.5 L909.5 1254.1 L911.0 1261.0 L912.5 1268.9 L914.0 1246.1 L915.5 1266.1 L917.0 1239.4 L918.5 1237.6 L920.0 1255.8 L921.5 1256.7 L923.0 1260.4 L924.5 1241.1 L926.0 1255.2 L927.5 1256.4 L929.0 1266.2 L930.5 1253.3 L932.0 1258.5 L933.5 1244.1 L935.0 1250.8 L936.5 1247.9 L938.0 1257.9 L939.5 1242.0 L941.0 1243.1 L942.5 1255.8 L944.0 1266.9 L945.5 1254.0 L947.0 1253.6 L948.5 1248.1 L950.0 1261.8 L951.5 1257.5 L953.0 1269.2 L954.5 1257.3 L956.0 1246.6 L957.5 1251.0 L959.0 1248.2 L960.5 1246.8 L962.0 1270.6 L963.5 1267.4 L965.0 1249.8 L966.5 1277.8 L968.0 1264.6 L969.5 1254.4 L971.0 1267.1 L972.5 1263.6 L974.0 1257.9 L975.5 1248.0 L977.0 1266.3 L978.5 1269.2 L980.0 1244.1 L981.5 1272.6 L983.0 1273.7 L984.5 1264.6 L986.0 1270.3 L987.5 1267.3 L989.0 1262.8 L990.5 1267.6 L992.0 1283.3 L993.5 1258.8 L995.0 1274.2 L996.5 1274.2 L998.0 1266.6 L999.5 1269.4 L1001.0 1261.3 L1002.5 1266.5 L1004.0 1274.6 L1005.5 1277.8 L1007.0 1267.4 L1008.5 1302.8 L1010.0 1271.3 L1011.5 1277.9 L1013.0 1275.4 L1014.5 1274.7 L1016.0 1290.4 L1017.5 1275.7 L1019.0 1292.5 L1020.5 1291.8 L1022.0 1273.7 L1023.5 1292.8 L1025.0 1279.2 L1026.5 1309.6 L1028.0 1283.4 L1029.5 1279.5 L1031.0 1272.0 L1032.5 1278.1 L1034.0 1284.9 L1035.5 1281.8 L1037.0 1280.3 L1038.5 1285.1 L1040.0 1289.4 L1041.5 1303.7 L1043.0 1276.4 L1044.5 1286.1 L1046.0 1282.4 L1047.5 1277.3 L1049.0 1279.1 L1050.5 1281.9 L1052.0 1295.6 L1053.5 1287.4 L1055.0 1284.2 L1056.5 1293.9 L1058.0 1290.9 L1059.5 1286.4 L1061.0 1291.6 L1062.5 1281.4 L1064.0 1294.4 L1065.5 1293.7 L1067.0 1286.9 L1068.5 1280.9 L1070.0 1305.6 L1071.5 1294.4 L1073.0 1320.8 L1074.5 1290.2 L1076.0 1304.1 L1077.5 1294.1 L1079.0 1300.8 L1080.5 1306.4 L1082.0 1293.0 L1083.5 1299.1 L1085.0 1301.3 L1086.5 1300.8 L1088.0 1304.7 L1089.5 1308.1 L1091.0 1306.2 L1092.5 1301.1 L1094.0 1295.5 L1095.5 1288.6 L1097.0 1291.6 L1098.5 1293.1 L1100.0 1303.2 L1101.5 1294.1 L1103.0 1286.5 L1104.5 1302.4 L1106.0 1290.6 L1107.5 1291.8 L1109.0 1297.7 L1110.5 1305.3 L1112.0 1282.8 L1113.5 1295.7 L1115.0 1308.7 L1116.5 1306.2 L1118.0 1303.9 L1119.5 1308.2 L1121.0 1325.5 L1122.5 1311.2 L1124.0 1321.8 L1125.5 1323.3 L1127.0 1314.0 L1128.5 1322.2 L1130.0 1315.7 L1131.5 1315.2 L1133.0 1311.7 L1134.5 1328.7 L1136.0 1318.9 L1137.5 1318.1 L1139.0 1313.8 L1140.5 1337.9 L1142.0 1329.3 L1143.5 1322.1 L1145.0 1317.2 L1146.5 1309.8 L1148.0 1324.1 L1149.5 1323.3 L1151.0 1308.7 L1152.5 1329.0 L1154.0 1325.2 L1155.5 1310.3 L1157.0 1313.2 L1158.5 1314.0 L1160.0 1318.8 L1161.5 1316.9 L1163.0 1306.0 L1164.5 1333.4 L1166.0 1326.3 L1167.5 1336.4 L1169.0 1338.9 L1170.5 1329.7 L1172.0 1336.4 L1173.5 1341.5 L1175.0 1343.1 L1176.5 1336.5 L1178.0 1332.9 L1179.5 1338.0 L1181.0 1331.2 L1182.5 1333.0 L1184.0 1321.1 L1185.5 1337.6 L1187.0 1328.5 L1188.5 1332.0 L1190.0 1335.7 L1191.5 1338.3 L1193.0 1350.6 L1194.5 1337.0 L1196.0 1323.9 L1197.5 1336.1 L1199.0 1330.2 L1200.5 1338.1 L1202.0 1329.4 L1203.5 1329.3 L1205.0 1330.8 L1206.5 1329.9 L1208.0 1320.4 L1209.5 1329.6 L1211.0 1334.8 L1212.5 1344.5 L1214.0 1332.6 L1215.5 1331.9 L1217.0 1339.5 L1218.5 1339.2 L1220.0 1347.6 L1221.5 1339.6 L1223.0 1334.7 L1224.5 1345.5 L1226.0 1347.1 L1227.5 1331.1 L1229.0 1336.2 L1230.5 1321.5 L1232.0 1332.0 L1233.5 1327.9 L1235.0 1333.2 L1236.5 1331.1 L1238.0 1333.6 L1239.5 1334.1 L1241.0 1338.8 L1242.5 1336.7 L1244.0 1330.4 L1245.5 1324.6 L1247.0 1344.7 L1248.5 1346.2 L1250.0 1331.3 L1251.5 1339.4 L1253.0 1322.7 L1254.5 1322.2 L1256.0 1331.9 L1257.5 1345.1 L1259.0 1324.0 L1260.5 1324.6 L1262.0 1343.1 L1263.5 1313.8 L1265.0 1333.2 L1266.5 1331.1 L1268.0 1324.9 L1269.5 1327.7 L1271.0 1347.4 L1272.5 1317.2 L1274.0 1323.9 L1275.5 1324.8 L1277.0 1321.5 L1278.5 1316.7 L1280.0 1340.8 L1281.5 1330.2 L1283.0 1314.8 L1284.5 1323.8 L1286.0 1333.2 L1287.5 1333.7 L1289.0 1319.4 L1290.5 1330.6 L1292.0 1333.8 L1293.5 1335.1 L1295.0 1335.4 L1296.5 1317.9 L1298.0 1347.5 L1299.5 1334.7 L1301.0 1347.7 L1302.5 1356.4 L1304.0 1332.5 L1305.5 1324.1 L1307.0 1341.1 L1308.5 1332.9 L1310.0 1330.9 L1311.5 1326.4 L1313.0 1348.2 L1314.5 1331.3 L1316.0 1323.7 L1317.5 1331.3 L1319.0 1325.6 L1320.5 1335.9 L1322.0 1331.1 L1323.5 1325.7 L1325.0 1338.6 L1326.5 1328.3 L1328.0 1338.8 L1329.5 1342.6 L1331.0 1329.2 L1332.5 1326.5 L1334.0 1332.8 L1335.5 1337.9 L1337.0 1330.4 L1338.5 1331.1 L1340.0 1329.5 L1341.5 1331.9 L1343.0 1334.3 L1344.5 1323.4 L1346.0 1325.2 L1347.5 1329.4 L1349.0 1323.7 L1350.5 1330.2 L1352.0 1333.4 L1353.5 1328.9 L1355.0 1324.2 L1356.5 1322.8 L1358.0 1343.2 L1359.5 1336.1 L1361.0 1320.1 L1362.5 1322.3 L1364.0 1344.2 L1365.5 1341.2 L1367.0 1330.1 L1368.5 1338.4 L1370.0 1317.1 L1371.5 1329.1 L1373.0 1335.0 L1374.5 1314.1 L1376.0 1322.8 L1377.5 1335.3 L1379.0 1338.0 L1380.5 1324.0 L1382.0 1331.0 L1383.5 1341.4 L1385.0 1325.2 L1386.5 1317.3 L1388.0 1327.4 L1389.5 1324.5 L1391.0 1337.9 L1392.5 1328.5 L1394.0 1320.5 L1395.5 1346.2 L1397.0 1322.6 L1398.5 1330.3 L1400.0 1331.8 L1401.5 1332.6 L1403.0 1327.6 L1404.5 1330.9 L1406.0 1325.8 L1407.5 1315.1 L1409.0 1325.2 L1410.5 1325.9 L1412.0 1326.6 L1413.5 1329.7 L1415.0 1324.1 L1416.5 1340.2 L1418.0 1342.5 L1419.5 1312.4 L1421.0 1330.1 L1422.5 1324.2 L1424.0 1308.6 L1425.5 1332.5 L1427.0 1323.8 L1428.5 1325.2 L1430.0 1322.4 L1431.5 1335.8 L1433.0 1336.4 L1434.5 1328.0 L1436.0 1330.7 L1437.5 1323.5 L1439.0 1324.9 L1440.5 1317.1 L1442.0 1322.9 L1443.5 1316.4 L1445.0 1324.8 L1446.5 1328.3 L1448.0 1323.9 L1449.5 1331.0 L1451.0 1343.3 L1452.5 1304.2 L1454.0 1321.6 L1455.5 1316.9 L1457.0 1318.0 L1458.5 1310.7 L1460.0 1322.4 L1461.5 1320.0 L1463.0 1317.2 L1464.5 1320.4 L1466.0 1317.9 L1467.5 1303.8 L1469.0 1331.9 L1470.5 1320.8 L1472.0 1315.8 L1473.5 1326.2 L1475.0 1318.5 L1476.5 1306.4 L1478.0 1331.4 L1479.5 1310.7 L1481.0 1322.7 L1482.5 1325.6 L1484.0 1335.7 L1485.5 1334.5 L1487.0 1326.4 L1488.5 1319.0 L1490.0 1321.9 L1491.5 1334.2 L1493.0 1340.0 L1494.5 1330.1 L1496.0 1320.6 L1497.5 1334.3 L1499.0 1323.1 L1500.5 1323.0 L1502.0 1324.2 L1503.5 1331.4 L1505.0 1329.0 L1506.5 1335.0 L1508.0 1337.7 L1509.5 1331.6 L1511.0 1309.0 L1512.5 1314.4 L1514.0 1329.7 L1515.5 1328.3 L1517.0 1346.6 L1518.5 1329.3 L1520.0 1328.8 L1521.5 1338.0 L1523.0 1339.5 L1524.5 1329.5 L1526.0 1335.7 L1527.5 1323.4 L1529.0 1325.5 L1530.5 1343.4 L1532.0 1322.9 L1533.5 1342.0 L1535.0 1340.7 L1536.5 1342.0 L1538.0 1343.8 L1539.5 1341.9 L1541.0 1321.5 L1542.5 1331.6 L1544.0 1335.9 L1545.5 1349.0 L1547.0 1334.1 L1548.5 1338.6 L1550.0 1342.2 L1551.5 1356.2 L1553.0 1335.5 L1554.5 1336.7 L1556.0 1352.4 L1557.5 1331.0 L1559.0 1350.1 L1560.5 1343.9 L1562.0 1335.0 L1563.5 1343.8 L1565.0 1339.1 L1566.5 1347.9 L1568.0 1349.2 L1569.5 1357.7 L1571.0 1345.8 L1572.5 1346.4 L1574.0 1340.9 L1575.5 1345.0 L1577.0 1353.2 L1578.5 1329.8 L1580.0 1349.9 L1581.5 1340.5 L1583.0 1345.2 L1584.5 1347.3 L1586.0 1351.7 L1587.5 1347.4 L1589.0 1343.1 L1590.5 1349.3 L1592.0 1347.8 L1593.5 1347.1 L1595.0 1351.2 L1596.5 1357.4 L1598.0 1352.7 L1599.5 1353.8 L1601.0 1343.6 L1602.5 1353.4 L1604.0 1340.8 L1605.5 1361.1 L1607.0 1348.9 L1608.5 1366.1 L1610.0 1379.1 L1611.5 1353.2 L1613.0 1366.4 L1614.5 1359.3 L1616.0 1352.0 L1617.5 1349.9 L1619.0 1360.6 L1620.5 1366.9 L1622.0 1359.0 L1623.5 1344.7 L1625.0 1348.3 L1626.5 1354.5 L1628.0 1366.6 L1629.5 1358.4 L1631.0 1358.8 L1632.5 1365.5 L1634.0 1354.7 L1635.5 1355.6 L1637.0 1354.9 L1638.5 1342.7 L1640.0 1359.9 L1641.5 1359.6 L1643.0 1364.2 L1644.5 1348.1 L1646.0 1351.3 L1647.5 1365.1 L1649.0 1361.0 L1650.5 1369.5 L1652.0 1353.2 L1653.5 1361.8 L1655.0 1355.8 L1656.5 1363.9 L1658.0 1358.5 L1659.5 1366.8 L1661.0 1371.4 L1662.5 1368.9 L1664.0 1350.7 L1665.5 1371.7 L1667.0 1368.3 L1668.5 1357.3 L1670.0 1358.8 L1671.5 1365.7 L1673.0 1370.1 L1674.5 1362.7 L1676.0 1354.1 L1677.5 1368.5 L1679.0 1367.9 L1680.5 1385.0 L1682.0 1357.4 L1683.5 1385.9 L1685.0 1380.3 L1686.5 1369.7 L1688.0 1379.9 L1689.5 1368.4 L1691.0 1375.0 L1692.5 1362.4 L1694.0 1368.5 L1695.5 1360.4 L1697.0 1356.2 L1698.5 1365.5 L1700.0 1361.8 L1701.5 1369.9 L1703.0 1373.9 L1704.5 1361.8 L1706.0 1362.2 L1707.5 1362.0 L1709.0 1347.0 L1710.5 1361.3 L1712.0 1359.3 L1713.5 1359.2 L1715.0 1351.9 L1716.5 1346.1 L1718.0 1360.3 L1719.5 1365.8 L1721.0 1375.0 L1722.5 1374.9 L1724.0 1379.0 L1725.5 1372.6 L1727.0 1380.1 L1728.5 1371.8 L1730.0 1379.6 L1731.5 1383.4 L1733.0 1397.6 L1734.5 1381.1 L1736.0 1371.3 L1737.5 1391.4 L1739.0 1376.4 L1740.5 1382.1 L1742.0 1380.6 L1743.5 1376.5 L1745.0 1392.8 L1746.5 1387.7 L1748.0 1379.2 L1749.5 1384.2 L1751.0 1380.8 L1752.5 1388.4 L1754.0 1381.4 L1755.5 1378.8 L1757.0 1379.8 L1758.5 1381.4 L1760.0 1386.7 L1761.5 1378.1 L1763.0 1384.2 L1764.5 1388.1 L1766.0 1401.8 L1767.5 1391.3 L1769.0 1364.0 L1770.5 1381.8 L1772.0 1382.8 L1773.5 1388.0 L1775.0 1397.1 L1776.5 1391.3 L1778.0 1369.7 L1779.5 1388.4 L1781.0 1387.1 L1782.5 1389.4 L1784.0 1396.3 L1785.5 1379.0 L1787.0 1394.7 L1788.5 1375.2 L1790.0 1387.5 L1791.5 1390.0 L1793.0 1403.7 L1794.5 1382.7 L1796.0 1375.9 L1797.5 1393.0 L1799.0 1383.7 L1800.5 1399.8 L1802.0 1384.2 L1803.5 1383.6 L1805.0 1399.2 L1806.5 1391.8 L1808.0 1399.0 L1809.5 1382.9 L1811.0 1405.3 L1812.5 1390.6 L1814.0 1401.4 L1815.5 1389.7 L1817.0 1386.9 L1818.5 1396.7 L1820.0 1400.6 L1821.5 1411.1 L1823.0 1403.4 L1824.5 1406.6 L1826.0 1406.8 L1827.5 1424.1 L1829.0 1397.7 L1830.5 1412.2 L1832.0 1403.1 L1833.5 1406.3 L1835.0 1401.2 L1836.5 1413.2 L1838.0 1397.3 L1839.5 1397.2 L1841.0 1405.1 L1842.5 1399.0 L1844.0 1411.9 L1845.5 1413.7 L1847.0 1402.7 L1848.5 1413.3 L1850.0 1403.8 L1851.5 1408.1 L1853.0 1408.6 L1854.5 1421.2 L1856.0 1408.7 L1857.5 1402.6 L1859.0 1402.5 L1860.5 1416.8 L1862.0 1397.5 L1863.5 1405.5 L1865.0 1406.1 L1866.5 1392.2 L1868.0 1405.5 L1869.5 1415.4 L1871.0 1410.2 L1872.5 1402.6 L1874.0 1413.3 L1875.5 1412.2 L1877.0 1422.3 L1878.5 1403.7 L1880.0 1406.1 L1881.5 1409.0 L1883.0 1407.8 L1884.5 1409.3 L1886.0 1408.0 L1887.5 1404.1 L1889.0 1398.4 L1890.5 1405.9 L1892.0 1401.0 L1893.5 1404.1 L1895.0 1408.4 L1896.5 1416.4 L1898.0 1419.7 L1899.5 1408.3 L1901.0 1418.3 L1902.5 1422.7 L1904.0 1418.2 L1905.5 1408.8 L1907.0 1406.4 L1908.5 1426.4 L1910.0 1427.9 L1911.5 1424.3 L1913.0 1416.1 L1914.5 1432.5 L1916.0 1430.9 L1917.5 1422.4 L1919.0 1420.7 L1920.5 1408.9 L1922.0 1426.1 L1923.5 1410.6 L1925.0 1425.6 L1926.5 1426.1 L1928.0 1422.3 L1929.5 1432.4 L1931.0 1420.5 L1932.5 1426.9 L1934.0 1428.8 L1935.5 1425.8 L1937.0 1422.0 L1938.5 1433.0 L1940.0 1428.2 L1941.5 1424.5 L1943.0 1424.9 L1944.5 1426.8 L1946.0 1440.4 L1947.5 1426.5 L1949.0 1424.4 L1950.5 1419.3 L1952.0 1418.6 L1953.5 1414.6 L1955.0 1428.6 L1956.5 1427.8 L1958.0 1421.5 L1959.5 1419.0 L1961.0 1426.8 L1962.5 1426.0 L1964.0 1421.2 L1965.5 1431.9 L1967.0 1431.1 L1968.5 1430.0 L1970.0 1435.3 L1971.5 1426.1 L1973.0 1438.3 L1974.5 1422.6 L1976.0 1431.4 L1977.5 1431.3 L1979.0 1424.6 L1980.5 1427.6 L1982.0 1416.3 L1983.5 1414.2 L1985.0 1422.2 L1986.5 1418.7 L1988.0 1427.4 L1989.5 1424.3 L1991.0 1428.8 L1992.5 1427.8 L1994.0 1428.1 L1995.5 1428.5 L1997.0 1426.8 L1998.5 1427.5 L2000.0 1444.4 L2001.5 1421.8 L2003.0 1432.7 L2004.5 1441.1 L2006.0 1438.3 L2007.5 1445.4 L2009.0 1441.0 L2010.5 1430.8 L2012.0 1437.6 L2013.5 1432.0 L2015.0 1447.6 L2016.5 1451.3 L2018.0 1440.7 L2019.5 1447.5 L2021.0 1442.4 L2022.5 1436.9 L2024.0 1443.3 L2025.5 1436.9 L2027.0 1443.2 L2028.5 1447.9 L2030.0 1450.9 L2031.5 1454.2 L2033.0 1444.2 L2034.5 1447.4 L2036.0 1448.2 L2037.5 1448.8 L2039.0 1428.0 L2040.5 1440.2 L2042.0 1449.4 L2043.5 1437.7 L2045.0 1445.8 L2046.5 1449.3 L2048.0 1432.9 L2049.5 1443.3 L2051.0 1446.2 L2052.5 1445.3 L2054.0 1436.5 L2055.5 1448.3 L2057.0 1443.5 L2058.5 1452.4 L2060.0 1450.8 L2061.5 1445.6 L2063.0 1450.5 L2064.5 1446.0 L2066.0 1446.5 L2067.5 1441.8 L2069.0 1450.1 L2070.5 1456.7 L2072.0 1453.2 L2073.5 1452.8 L2075.0 1449.8 L2076.5 1450.9 L2078.0 1458.7 L2079.5 1446.1 L2081.0 1467.1 L2082.5 1455.0 L2084.0 1468.2 L2085.5 1462.5 L2087.0 1453.2 L2088.5 1459.9 L2090.0 1457.1 L2091.5 1458.3 L2093.0 1460.2 L2094.5 1452.4 L2096.0 1452.0 L2097.5 1453.2 L2099.0 1447.7 L2100.5 1454.0 L2102.0 1456.9 L2103.5 1457.0 L2105.0 1456.7 L2106.5 1453.2 L2108.0 1460.1 L2109.5 1443.6 L2111.0 1453.2 L2112.5 1453.7 L2114.0 1461.0 L2115.5 1459.9 L2117.0 1461.0 L2118.5 1456.8 L2120.0 1462.5 L2121.5 1451.6 L2123.0 1458.2 L2124.5 1446.1 L2126.0 1468.4 L2127.5 1468.1 L2129.0 1455.9 L2130.5 1454.8 L2132.0 1447.9 L2133.5 1451.4 L2135.0 1461.0 L2136.5 1459.5 L2138.0 1452.2 L2139.5 1457.9 L2141.0 1457.1 L2142.5 1463.7 L2144.0 1465.2 L2145.5 1460.0 L2147.0 1462.0 L2148.5 1461.5 L2150.0 1449.8 L2151.5 1462.8 L2153.0 1461.6 L2154.5 1466.4 L2156.0 1452.0 L2157.5 1466.9 L2159.0 1459.2 L2160.5 1464.6 L2162.0 1470.2 L2163.5 1455.4 L2165.0 1456.7 L2166.5 1470.0 L2168.0 1458.4 L2169.5 1459.8 L2171.0 1468.8 L2172.5 1464.7 L2174.0 1470.4 L2175.5 1468.1 L2177.0 1466.5 L2178.5 1472.4 L2180.0 1479.3 L2181.5 1466.8 L2183.0 1475.7 L2184.5 1473.9 L2186.0 1468.5 L2187.5 1470.5 L2189.0 1463.0 L2190.5 1464.9 L2192.0 1470.0 L2193.5 1468.3 L2195.0 1475.9 L2196.5 1461.7 L2198.0 1467.4 L2199.5 1465.6 L2201.0 1468.4 L2202.5 1475.8 L2204.0 1462.9 L2205.5 1474.4 L2207.0 1466.7 L2208.5 1468.3 L2210.0 1475.8 L2211.5 1469.0 L2213.0 1474.4 L2214.5 1471.5 L2216.0 1470.2 L2217.5 1469.3 L2219.0 1462.0 L2220.5 1467.5 L2222.0 1472.6 L2223.5 1472.9 L2225.0 1463.7 L2226.5 1477.3 L2228.0 1474.9 L2229.5 1464.7 L2231.0 1466.2 L2232.5 1474.6 L2234.0 1462.3 L2235.5 1467.8 L2237.0 1471.6 L2238.5 1471.2 L2240.0 1471.5 L2241.5 1474.0 L2243.0 1467.5 L2244.5 1469.2 L2246.0 1483.0 L2247.5 1464.3 L2249.0 1469.4 L2250.5 1472.5 L2252.0 1468.4 L2253.5 1478.5 L2255.0 1472.3 L2256.5 1476.0 L2258.0 1457.7" fill="none" stroke="#ff0000" stroke-width="5.4" stroke-linejoin="round" stroke-linecap="round" shape-rendering="crispEdges"/>
<path d="M365.0 1508.3 L366.5 1480.7 L368.0 1498.4 L369.5 1492.3 L371.0 1492.9 L372.5 1494.2 L374.0 1483.2 L375.5 1493.8 L377.0 1489.8 L378.5 1514.9 L380.0 1496.0 L381.5 1492.4 L383.0 1492.6 L384.5 1490.1 L386.0 1487.6 L387.5 1491.4 L389.0 1496.5 L390.5 1492.0 L392.0 1499.0 L393.5 1491.8 L395.0 1493.0 L396.5 1502.0 L398.0 1495.7 L399.5 1489.1 L401.0 1490.9 L402.5 1495.1 L404.0 1503.4 L405.5 1489.7 L407.0 1489.6 L408.5 1497.1 L410.0 1485.2 L411.5 1488.6 L413.0 1495.7 L414.5 1493.5 L416.0 1490.3 L417.5 1493.6 L419.0 1471.6 L420.5 1495.3 L422.0 1482.7 L423.5 1478.0 L425.0 1489.8 L426.5 1492.2 L428.0 1484.7 L429.5 1480.4 L431.0 1487.0 L432.5 1486.2 L434.0 1495.1 L435.5 1490.6 L437.0 1486.8 L438.5 1492.3 L440.0 1483.7 L441.5 1478.8 L443.0 1488.0 L444.5 1487.7 L446.0 1482.3 L447.5 1478.3 L449.0 1484.5 L450.5 1466.7 L452.0 1486.8 L453.5 1485.3 L455.0 1471.2 L456.5 1481.9 L458.0 1475.0 L459.5 1485.8 L461.0 1467.5 L462.5 1474.4 L464.0 1484.7 L465.5 1487.3 L467.0 1465.5 L468.5 1476.0 L470.0 1481.1 L471.5 1474.7 L473.0 1488.8 L474.5 1470.3 L476.0 1480.2 L477.5 1470.7 L479.0 1486.5 L480.5 1476.8 L482.0 1474.1 L483.5 1464.8 L485.0 1486.9 L486.5 1480.4 L488.0 1480.0 L489.5 1482.1 L491.0 1476.4 L492.5 1469.3 L494.0 1467.8 L495.5 1467.2 L497.0 1481.3 L498.5 1461.6 L500.0 1466.9 L501.5 1468.1 L503.0 1471.2 L504.5 1473.0 L506.0 1459.9 L507.5 1456.0 L509.0 1467.2 L510.5 1474.9 L512.0 1471.1 L513.5 1466.7 L515.0 1462.3 L516.5 1465.9 L518.0 1461.5 L519.5 1468.2 L521.0 1456.3 L522.5 1462.1 L524.0 1459.7 L525.5 1463.7 L527.0 1460.8 L528.5 1476.6 L530.0 1468.5 L531.5 1467.9 L533.0 1442.0 L534.5 1453.4 L536.0 1450.8 L537.5 1458.3 L539.0 1437.2 L540.5 1461.5 L542.0 1460.0 L543.5 1442.0 L545.0 1443.6 L546.5 1444.1 L548.0 1449.5 L549.5 1453.2 L551.0 1462.8 L552.5 1445.5 L554.0 1451.9 L555.5 1446.6 L557.0 1457.8 L558.5 1449.5 L560.0 1453.5 L561.5 1434.5 L563.0 1440.4 L564.5 1435.1 L566.0 1452.0 L567.5 1444.9 L569.0 1437.0 L570.5 1435.3 L572.0 1441.9 L573.5 1432.3 L575.0 1430.0 L576.5 1440.3 L578.0 1455.0 L579.5 1433.8 L581.0 1430.9 L582.5 1425.7 L584.0 1424.0 L585.5 1438.0 L587.0 1440.1 L588.5 1433.2 L590.0 1435.3 L591.5 1433.2 L593.0 1432.9 L594.5 1419.5 L596.0 1427.4 L597.5 1431.4 L599.0 1424.0 L600.5 1425.9 L602.0 1422.7 L603.5 1426.0 L605.0 1434.8 L606.5 1424.3 L608.0 1425.8 L609.5 1432.9 L611.0 1431.1 L612.5 1438.9 L614.0 1408.2 L615.5 1431.1 L617.0 1419.9 L618.5 1424.2 L620.0 1429.2 L621.5 1430.6 L623.0 1429.6 L624.5 1421.9 L626.0 1432.9 L627.5 1416.9 L629.0 1417.4 L630.5 1424.3 L632.0 1412.5 L633.5 1433.9 L635.0 1423.8 L636.5 1432.4 L638.0 1413.5 L639.5 1409.7 L641.0 1413.3 L642.5 1417.1 L644.0 1405.2 L645.5 1412.2 L647.0 1407.9 L648.5 1420.5 L650.0 1400.2 L651.5 1413.5 L653.0 1398.0 L654.5 1394.1 L656.0 1394.9 L657.5 1389.5 L659.0 1399.5 L660.5 1405.8 L662.0 1396.8 L663.5 1399.1 L665.0 1406.2 L666.5 1392.4 L668.0 1389.8 L669.5 1383.5 L671.0 1369.5 L672.5 1388.4 L674.0 1363.4 L675.5 1382.8 L677.0 1374.3 L678.5 1382.2 L680.0 1368.8 L681.5 1359.3 L683.0 1367.7 L684.5 1356.5 L686.0 1357.5 L687.5 1357.0 L689.0 1352.8 L690.5 1349.8 L692.0 1341.0 L693.5 1344.4 L695.0 1322.7 L696.5 1339.1 L698.0 1326.0 L699.5 1345.9 L701.0 1344.5 L702.5 1309.4 L704.0 1327.4 L705.5 1321.7 L707.0 1309.3 L708.5 1322.4 L710.0 1309.3 L711.5 1292.8 L713.0 1305.4 L714.5 1303.8 L716.0 1303.7 L717.5 1286.9 L719.0 1303.8 L720.5 1302.5 L722.0 1279.9 L723.5 1282.6 L725.0 1286.4 L726.5 1278.7 L728.0 1301.3 L729.5 1282.3 L731.0 1266.6 L732.5 1266.6 L734.0 1272.3 L735.5 1296.0 L737.0 1266.3 L738.5 1267.3 L740.0 1269.3 L741.5 1260.8 L743.0 1284.6 L744.5 1250.5 L746.0 1262.6 L747.5 1253.6 L749.0 1256.4 L750.5 1233.4 L752.0 1264.9 L753.5 1240.8 L755.0 1240.3 L756.5 1226.6 L758.0 1226.6 L759.5 1239.4 L761.0 1242.0 L762.5 1236.9 L764.0 1239.8 L765.5 1231.5 L767.0 1220.9 L768.5 1228.0 L770.0 1222.5 L771.5 1211.4 L773.0 1218.6 L774.5 1222.5 L776.0 1206.8 L777.5 1196.5 L779.0 1206.5 L780.5 1218.0 L782.0 1188.8 L783.5 1187.1 L785.0 1183.4 L786.5 1197.4 L788.0 1156.0 L789.5 1180.8 L791.0 1188.6 L792.5 1160.5 L794.0 1187.2 L795.5 1172.6 L797.0 1156.3 L798.5 1163.5 L800.0 1138.8 L801.5 1148.9 L803.0 1177.6 L804.5 1140.1 L806.0 1173.4 L807.5 1145.9 L809.0 1157.3 L810.5 1142.1 L812.0 1109.3 L813.5 1128.6 L815.0 1136.2 L816.5 1116.4 L818.0 1112.3 L819.5 1134.2 L821.0 1120.6 L822.5 1107.7 L824.0 1123.3 L825.5 1146.7 L827.0 1132.6 L828.5 1155.0 L830.0 1166.7 L831.5 1151.1 L833.0 1139.7 L834.5 1140.5 L836.0 1159.5 L837.5 1173.7 L839.0 1168.5 L840.5 1174.4 L842.0 1163.4 L843.5 1173.7 L845.0 1163.7 L846.5 1164.8 L848.0 1151.2 L849.5 1145.9 L851.0 1157.9 L852.5 1147.7 L854.0 1147.4 L855.5 1166.1 L857.0 1153.9 L858.5 1191.1 L860.0 1163.7 L861.5 1142.2 L863.0 1159.8 L864.5 1154.2 L866.0 1140.8 L867.5 1164.4 L869.0 1140.5 L870.5 1111.5 L872.0 1162.2 L873.5 1144.6 L875.0 1172.4 L876.5 1145.3 L878.0 1138.8 L879.5 1174.4 L881.0 1140.4 L882.5 1156.9 L884.0 1172.8 L885.5 1155.3 L887.0 1152.5 L888.5 1154.5 L890.0 1163.6 L891.5 1141.9 L893.0 1159.8 L894.5 1158.9 L896.0 1181.3 L897.5 1146.2 L899.0 1138.3 L900.5 1159.3 L902.0 1144.2 L903.5 1152.8 L905.0 1150.6 L906.5 1163.9 L908.0 1140.0 L909.5 1147.3 L911.0 1115.3 L912.5 1136.9 L914.0 1168.5 L915.5 1139.6 L917.0 1139.4 L918.5 1132.7 L920.0 1156.1 L921.5 1150.8 L923.0 1133.1 L924.5 1157.2 L926.0 1151.9 L927.5 1158.3 L929.0 1140.2 L930.5 1171.1 L932.0 1153.9 L933.5 1147.0 L935.0 1141.8 L936.5 1145.3 L938.0 1159.7 L939.5 1145.1 L941.0 1162.7 L942.5 1156.5 L944.0 1166.8 L945.5 1160.2 L947.0 1149.3 L948.5 1125.9 L950.0 1155.2 L951.5 1162.3 L953.0 1154.9 L954.5 1160.8 L956.0 1148.4 L957.5 1151.7 L959.0 1147.8 L960.5 1181.3 L962.0 1170.2 L963.5 1165.9 L965.0 1158.6 L966.5 1175.4 L968.0 1195.8 L969.5 1183.1 L971.0 1167.6 L972.5 1194.0 L974.0 1193.1 L975.5 1186.6 L977.0 1183.3 L978.5 1187.3 L980.0 1179.0 L981.5 1181.6 L983.0 1162.1 L984.5 1191.5 L986.0 1176.3 L987.5 1200.2 L989.0 1150.5 L990.5 1186.8 L992.0 1192.1 L993.5 1177.5 L995.0 1189.5 L996.5 1195.1 L998.0 1194.9 L999.5 1182.8 L1001.0 1189.3 L1002.5 1204.9 L1004.0 1209.2 L1005.5 1195.7 L1007.0 1196.3 L1008.5 1198.7 L1010.0 1209.8 L1011.5 1184.9 L1013.0 1182.4 L1014.5 1201.1 L1016.0 1187.1 L1017.5 1194.6 L1019.0 1204.1 L1020.5 1210.5 L1022.0 1193.9 L1023.5 1219.4 L1025.0 1191.4 L1026.5 1222.5 L1028.0 1200.2 L1029.5 1206.5 L1031.0 1231.4 L1032.5 1220.5 L1034.0 1217.2 L1035.5 1222.5 L1037.0 1234.3 L1038.5 1229.2 L1040.0 1230.4 L1041.5 1244.0 L1043.0 1224.1 L1044.5 1227.8 L1046.0 1228.1 L1047.5 1248.7 L1049.0 1247.5 L1050.5 1251.8 L1052.0 1237.2 L1053.5 1236.6 L1055.0 1249.0 L1056.5 1235.3 L1058.0 1250.2 L1059.5 1249.7 L1061.0 1234.0 L1062.5 1241.9 L1064.0 1242.3 L1065.5 1264.6 L1067.0 1275.5 L1068.5 1245.7 L1070.0 1248.4 L1071.5 1224.2 L1073.0 1255.1 L1074.5 1255.5 L1076.0 1246.6 L1077.5 1270.6 L1079.0 1247.1 L1080.5 1264.8 L1082.0 1270.8 L1083.5 1256.8 L1085.0 1280.8 L1086.5 1283.7 L1088.0 1257.2 L1089.5 1257.4 L1091.0 1280.0 L1092.5 1273.4 L1094.0 1260.7 L1095.5 1271.1 L1097.0 1273.5 L1098.5 1273.4 L1100.0 1284.4 L1101.5 1279.9 L1103.0 1295.6 L1104.5 1291.8 L1106.0 1284.8 L1107.5 1289.9 L1109.0 1293.4 L1110.5 1287.4 L1112.0 1267.3 L1113.5 1290.9 L1115.0 1283.3 L1116.5 1301.1 L1118.0 1285.6 L1119.5 1291.3 L1121.0 1290.2 L1122.5 1305.8 L1124.0 1290.7 L1125.5 1286.9 L1127.0 1294.2 L1128.5 1287.2 L1130.0 1294.6 L1131.5 1293.9 L1133.0 1298.0 L1134.5 1316.7 L1136.0 1293.1 L1137.5 1298.9 L1139.0 1297.5 L1140.5 1307.9 L1142.0 1289.4 L1143.5 1295.6 L1145.0 1303.5 L1146.5 1310.6 L1148.0 1305.3 L1149.5 1301.5 L1151.0 1298.5 L1152.5 1313.7 L1154.0 1324.2 L1155.5 1313.3 L1157.0 1312.7 L1158.5 1316.1 L1160.0 1302.5 L1161.5 1309.7 L1163.0 1310.9 L1164.5 1317.4 L1166.0 1314.7 L1167.5 1303.3 L1169.0 1328.0 L1170.5 1334.4 L1172.0 1315.1 L1173.5 1322.5 L1175.0 1321.8 L1176.5 1327.7 L1178.0 1305.3 L1179.5 1337.3 L1181.0 1316.8 L1182.5 1334.9 L1184.0 1323.5 L1185.5 1319.4 L1187.0 1322.5 L1188.5 1333.5 L1190.0 1316.3 L1191.5 1321.8 L1193.0 1321.3 L1194.5 1309.5 L1196.0 1340.4 L1197.5 1333.8 L1199.0 1328.3 L1200.5 1340.8 L1202.0 1320.2 L1203.5 1329.6 L1205.0 1348.2 L1206.5 1341.4 L1208.0 1310.1 L1209.5 1299.7 L1211.0 1323.2 L1212.5 1344.6 L1214.0 1330.1 L1215.5 1333.2 L1217.0 1342.0 L1218.5 1327.9 L1220.0 1339.3 L1221.5 1345.6 L1223.0 1342.9 L1224.5 1342.8 L1226.0 1333.6 L1227.5 1345.1 L1229.0 1336.4 L1230.5 1353.8 L1232.0 1366.7 L1233.5 1334.8 L1235.0 1321.3 L1236.5 1338.8 L1238.0 1347.1 L1239.5 1354.0 L1241.0 1354.7 L1242.5 1337.1 L1244.0 1337.4 L1245.5 1357.8 L1247.0 1335.3 L1248.5 1356.9 L1250.0 1344.6 L1251.5 1354.6 L1253.0 1354.5 L1254.5 1355.6 L1256.0 1356.5 L1257.5 1339.6 L1259.0 1352.5 L1260.5 1350.3 L1262.0 1353.7 L1263.5 1363.1 L1265.0 1349.4 L1266.5 1345.8 L1268.0 1346.3 L1269.5 1351.0 L1271.0 1361.7 L1272.5 1347.5 L1274.0 1366.9 L1275.5 1359.4 L1277.0 1355.1 L1278.5 1345.3 L1280.0 1360.8 L1281.5 1365.6 L1283.0 1343.0 L1284.5 1371.3 L1286.0 1376.1 L1287.5 1364.2 L1289.0 1366.0 L1290.5 1384.4 L1292.0 1373.6 L1293.5 1354.0 L1295.0 1362.5 L1296.5 1361.5 L1298.0 1361.8 L1299.5 1341.3 L1301.0 1370.7 L1302.5 1357.9 L1304.0 1365.6 L1305.5 1363.1 L1307.0 1372.7 L1308.5 1362.1 L1310.0 1357.8 L1311.5 1370.4 L1313.0 1378.9 L1314.5 1363.3 L1316.0 1379.4 L1317.5 1369.6 L1319.0 1363.0 L1320.5 1383.0 L1322.0 1362.7 L1323.5 1380.8 L1325.0 1368.4 L1326.5 1378.4 L1328.0 1364.4 L1329.5 1369.2 L1331.0 1387.3 L1332.5 1380.0 L1334.0 1378.9 L1335.5 1374.6 L1337.0 1382.4 L1338.5 1365.6 L1340.0 1367.8 L1341.5 1376.1 L1343.0 1369.5 L1344.5 1370.3 L1346.0 1375.5 L1347.5 1374.4 L1349.0 1373.1 L1350.5 1389.8 L1352.0 1383.4 L1353.5 1385.0 L1355.0 1373.2 L1356.5 1368.5 L1358.0 1359.6 L1359.5 1369.6 L1361.0 1353.7 L1362.5 1367.4 L1364.0 1379.8 L1365.5 1387.7 L1367.0 1381.8 L1368.5 1365.2 L1370.0 1377.7 L1371.5 1366.1 L1373.0 1381.0 L1374.5 1372.6 L1376.0 1381.6 L1377.5 1397.4 L1379.0 1382.6 L1380.5 1395.6 L1382.0 1376.2 L1383.5 1371.8 L1385.0 1387.1 L1386.5 1390.9 L1388.0 1370.4 L1389.5 1376.3 L1391.0 1362.8 L1392.5 1374.2 L1394.0 1384.2 L1395.5 1375.5 L1397.0 1371.2 L1398.5 1363.8 L1400.0 1380.0 L1401.5 1384.0 L1403.0 1382.3 L1404.5 1379.4 L1406.0 1365.9 L1407.5 1393.5 L1409.0 1377.4 L1410.5 1377.0 L1412.0 1385.3 L1413.5 1359.7 L1415.0 1379.2 L1416.5 1379.2 L1418.0 1384.4 L1419.5 1397.9 L1421.0 1392.2 L1422.5 1370.8 L1424.0 1382.1 L1425.5 1384.5 L1427.0 1381.4 L1428.5 1365.8 L1430.0 1359.8 L1431.5 1377.8 L1433.0 1374.5 L1434.5 1370.6 L1436.0 1355.1 L1437.5 1387.6 L1439.0 1345.5 L1440.5 1369.5 L1442.0 1392.8 L1443.5 1373.4 L1445.0 1378.1 L1446.5 1366.5 L1448.0 1390.5 L1449.5 1367.8 L1451.0 1382.7 L1452.5 1382.6 L1454.0 1372.7 L1455.5 1390.6 L1457.0 1370.5 L1458.5 1377.5 L1460.0 1383.7 L1461.5 1380.7 L1463.0 1388.9 L1464.5 1393.3 L1466.0 1382.8 L1467.5 1380.9 L1469.0 1381.5 L1470.5 1383.1 L1472.0 1393.8 L1473.5 1385.1 L1475.0 1391.0 L1476.5 1387.0 L1478.0 1380.8 L1479.5 1396.3 L1481.0 1380.1 L1482.5 1389.9 L1484.0 1403.5 L1485.5 1381.6 L1487.0 1391.4 L1488.5 1378.8 L1490.0 1388.9 L1491.5 1381.1 L1493.0 1391.6 L1494.5 1390.8 L1496.0 1397.3 L1497.5 1410.5 L1499.0 1399.9 L1500.5 1403.7 L1502.0 1398.1 L1503.5 1397.0 L1505.0 1392.3 L1506.5 1384.4 L1508.0 1400.6 L1509.5 1414.2 L1511.0 1404.5 L1512.5 1396.1 L1514.0 1414.8 L1515.5 1397.2 L1517.0 1395.8 L1518.5 1390.9 L1520.0 1393.1 L1521.5 1399.3 L1523.0 1418.5 L1524.5 1399.9 L1526.0 1393.0 L1527.5 1396.7 L1529.0 1400.1 L1530.5 1387.6 L1532.0 1403.4 L1533.5 1408.4 L1535.0 1405.4 L1536.5 1408.0 L1538.0 1392.2 L1539.5 1389.0 L1541.0 1414.6 L1542.5 1413.4 L1544.0 1391.6 L1545.5 1406.8 L1547.0 1405.7 L1548.5 1410.6 L1550.0 1408.3 L1551.5 1402.9 L1553.0 1409.2 L1554.5 1409.4 L1556.0 1408.2 L1557.5 1393.7 L1559.0 1384.8 L1560.5 1403.6 L1562.0 1397.1 L1563.5 1413.1 L1565.0 1417.4 L1566.5 1414.0 L1568.0 1409.1 L1569.5 1413.1 L1571.0 1422.4 L1572.5 1407.1 L1574.0 1421.0 L1575.5 1419.6 L1577.0 1416.2 L1578.5 1426.3 L1580.0 1408.7 L1581.5 1422.6 L1583.0 1407.6 L1584.5 1409.2 L1586.0 1407.1 L1587.5 1419.7 L1589.0 1408.6 L1590.5 1417.0 L1592.0 1407.6 L1593.5 1425.9 L1595.0 1432.4 L1596.5 1419.6 L1598.0 1431.4 L1599.5 1422.9 L1601.0 1436.2 L1602.5 1419.7 L1604.0 1406.5 L1605.5 1431.5 L1607.0 1418.7 L1608.5 1411.7 L1610.0 1415.0 L1611.5 1407.5 L1613.0 1419.6 L1614.5 1412.6 L1616.0 1433.4 L1617.5 1427.2 L1619.0 1408.8 L1620.5 1410.4 L1622.0 1418.3 L1623.5 1407.8 L1625.0 1422.7 L1626.5 1423.6 L1628.0 1418.2 L1629.5 1420.5 L1631.0 1429.3 L1632.5 1437.1 L1634.0 1438.2 L1635.5 1427.2 L1637.0 1434.2 L1638.5 1422.2 L1640.0 1431.7 L1641.5 1421.5 L1643.0 1435.2 L1644.5 1420.3 L1646.0 1422.9 L1647.5 1430.8 L1649.0 1435.6 L1650.5 1420.3 L1652.0 1427.6 L1653.5 1433.1 L1655.0 1434.0 L1656.5 1425.9 L1658.0 1433.4 L1659.5 1430.7 L1661.0 1443.8 L1662.5 1437.3 L1664.0 1422.9 L1665.5 1416.2 L1667.0 1434.1 L1668.5 1442.6 L1670.0 1434.9 L1671.5 1440.5 L1673.0 1430.1 L1674.5 1423.4 L1676.0 1439.9 L1677.5 1435.0 L1679.0 1439.7 L1680.5 1424.0 L1682.0 1436.3 L1683.5 1430.3 L1685.0 1441.7 L1686.5 1431.5 L1688.0 1431.8 L1689.5 1432.6 L1691.0 1447.3 L1692.5 1438.6 L1694.0 1433.3 L1695.5 1432.0 L1697.0 1432.6 L1698.5 1452.3 L1700.0 1428.3 L1701.5 1436.3 L1703.0 1448.2 L1704.5 1452.9 L1706.0 1443.6 L1707.5 1451.2 L1709.0 1451.5 L1710.5 1453.7 L1712.0 1447.1 L1713.5 1459.4 L1715.0 1449.1 L1716.5 1459.2 L1718.0 1440.1 L1719.5 1455.4 L1721.0 1439.5 L1722.5 1438.1 L1724.0 1453.0 L1725.5 1443.5 L1727.0 1453.2 L1728.5 1442.3 L1730.0 1462.2 L1731.5 1450.8 L1733.0 1442.7 L1734.5 1452.6 L1736.0 1458.1 L1737.5 1446.4 L1739.0 1456.1 L1740.5 1467.6 L1742.0 1459.5 L1743.5 1453.6 L1745.0 1450.1 L1746.5 1459.0 L1748.0 1444.5 L1749.5 1434.3 L1751.0 1452.0 L1752.5 1449.7 L1754.0 1470.6 L1755.5 1459.9 L1757.0 1452.6 L1758.5 1452.1 L1760.0 1464.5 L1761.5 1455.8 L1763.0 1458.1 L1764.5 1462.2 L1766.0 1464.0 L1767.5 1464.6 L1769.0 1465.1 L1770.5 1473.8 L1772.0 1476.9 L1773.5 1454.1 L1775.0 1483.7 L1776.5 1467.2 L1778.0 1475.2 L1779.5 1461.9 L1781.0 1469.5 L1782.5 1469.1 L1784.0 1468.7 L1785.5 1474.0 L1787.0 1472.8 L1788.5 1461.9 L1790.0 1468.2 L1791.5 1474.3 L1793.0 1474.2 L1794.5 1467.5 L1796.0 1468.1 L1797.5 1469.2 L1799.0 1462.9 L1800.5 1461.9 L1802.0 1481.4 L1803.5 1468.3 L1805.0 1471.8 L1806.5 1466.2 L1808.0 1480.2 L1809.5 1483.4 L1811.0 1470.2 L1812.5 1475.3 L1814.0 1466.9 L1815.5 1484.0 L1817.0 1478.5 L1818.5 1466.8 L1820.0 1480.9 L1821.5 1475.1 L1823.0 1475.6 L1824.5 1475.3 L1826.0 1468.6 L1827.5 1469.6 L1829.0 1477.5 L1830.5 1473.2 L1832.0 1467.3 L1833.5 1487.4 L1835.0 1472.5 L1836.5 1470.3 L1838.0 1469.5 L1839.5 1478.9 L1841.0 1480.9 L1842.5 1476.1 L1844.0 1480.4 L1845.5 1464.8 L1847.0 1472.4 L1848.5 1471.9 L1850.0 1475.3 L1851.5 1478.6 L1853.0 1462.0 L1854.5 1496.5 L1856.0 1470.2 L1857.5 1478.5 L1859.0 1481.9 L1860.5 1482.4 L1862.0 1478.7 L1863.5 1458.4 L1865.0 1470.8 L1866.5 1483.4 L1868.0 1472.9 L1869.5 1472.5 L1871.0 1464.6 L1872.5 1488.3 L1874.0 1484.2 L1875.5 1475.7 L1877.0 1481.1 L1878.5 1481.8 L1880.0 1475.8 L1881.5 1481.6 L1883.0 1485.5 L1884.5 1487.8 L1886.0 1492.7 L1887.5 1485.1 L1889.0 1482.3 L1890.5 1488.1 L1892.0 1481.9 L1893.5 1478.2 L1895.0 1493.6 L1896.5 1484.2 L1898.0 1487.6 L1899.5 1491.2 L1901.0 1480.4 L1902.5 1491.6 L1904.0 1490.7 L1905.5 1487.5 L1907.0 1490.9 L1908.5 1484.0 L1910.0 1475.4 L1911.5 1487.7 L1913.0 1484.1 L1914.5 1495.6 L1916.0 1492.3 L1917.5 1488.1 L1919.0 1492.4 L1920.5 1501.1 L1922.0 1500.3 L1923.5 1495.8 L1925.0 1496.2 L1926.5 1491.9 L1928.0 1492.8 L1929.5 1497.1 L1931.0 1492.8 L1932.5 1495.3 L1934.0 1486.7 L1935.5 1483.3 L1937.0 1483.1 L1938.5 1490.8 L1940.0 1501.5 L1941.5 1500.5 L1943.0 1487.2 L1944.5 1483.6 L1946.0 1496.4 L1947.5 1494.1 L1949.0 1483.0 L1950.5 1498.1 L1952.0 1493.0 L1953.5 1500.5 L1955.0 1494.9 L1956.5 1498.8 L1958.0 1495.9 L1959.5 1488.8 L1961.0 1493.7 L1962.5 1491.7 L1964.0 1501.3 L1965.5 1490.9 L1967.0 1488.2 L1968.5 1501.9 L1970.0 1505.0 L1971.5 1507.2 L1973.0 1505.4 L1974.5 1490.4 L1976.0 1495.5 L1977.5 1496.8 L1979.0 1500.2 L1980.5 1488.0 L1982.0 1500.9 L1983.5 1502.8 L1985.0 1496.0 L1986.5 1502.5 L1988.0 1509.0 L1989.5 1502.6 L1991.0 1508.7 L1992.5 1508.6 L1994.0 1505.3 L1995.5 1505.4 L1997.0 1501.2 L1998.5 1510.7 L2000.0 1501.1 L2001.5 1500.0 L2003.0 1508.2 L2004.5 1500.2 L2006.0 1507.0 L2007.5 1510.7 L2009.0 1505.3 L2010.5 1505.6 L2012.0 1510.3 L2013.5 1509.4 L2015.0 1496.4 L2016.5 1497.7 L2018.0 1512.7 L2019.5 1507.3 L2021.0 1493.1 L2022.5 1497.1 L2024.0 1504.8 L2025.5 1498.8 L2027.0 1506.9 L2028.5 1504.4 L2030.0 1506.6 L2031.5 1496.8 L2033.0 1506.9 L2034.5 1514.5 L2036.0 1498.5 L2037.5 1510.5 L2039.0 1508.6 L2040.5 1506.7 L2042.0 1502.8 L2043.5 1496.9 L2045.0 1499.1 L2046.5 1509.2 L2048.0 1511.2 L2049.5 1513.4 L2051.0 1512.7 L2052.5 1513.3 L2054.0 1506.7 L2055.5 1503.2 L2057.0 1511.8 L2058.5 1514.1 L2060.0 1512.3 L2061.5 1503.8 L2063.0 1509.4 L2064.5 1504.1 L2066.0 1512.9 L2067.5 1506.3 L2069.0 1510.9 L2070.5 1513.4 L2072.0 1512.2 L2073.5 1518.8 L2075.0 1504.9 L2076.5 1498.8 L2078.0 1515.8 L2079.5 1518.1 L2081.0 1518.1 L2082.5 1511.7 L2084.0 1513.0 L2085.5 1510.6 L2087.0 1502.8 L2088.5 1506.8 L2090.0 1512.8 L2091.5 1506.9 L2093.0 1520.8 L2094.5 1501.9 L2096.0 1508.2 L2097.5 1516.9 L2099.0 1507.6 L2100.5 1504.9 L2102.0 1503.9 L2103.5 1507.5 L2105.0 1520.0 L2106.5 1514.2 L2108.0 1514.9 L2109.5 1509.4 L2111.0 1517.0 L2112.5 1513.1 L2114.0 1507.7 L2115.5 1510.3 L2117.0 1514.0 L2118.5 1519.4 L2120.0 1512.9 L2121.5 1516.0 L2123.0 1524.4 L2124.5 1509.3 L2126.0 1507.0 L2127.5 1519.2 L2129.0 1516.4 L2130.5 1513.7 L2132.0 1515.9 L2133.5 1512.9 L2135.0 1517.8 L2136.5 1513.6 L2138.0 1520.2 L2139.5 1510.3 L2141.0 1512.8 L2142.5 1518.3 L2144.0 1515.8 L2145.5 1522.6 L2147.0 1519.3 L2148.5 1517.3 L2150.0 1521.6 L2151.5 1518.3 L2153.0 1513.3 L2154.5 1515.7 L2156.0 1517.5 L2157.5 1519.2 L2159.0 1522.0 L2160.5 1526.1 L2162.0 1524.1 L2163.5 1530.2 L2165.0 1527.4 L2166.5 1519.7 L2168.0 1529.0 L2169.5 1526.3 L2171.0 1517.7 L2172.5 1521.4 L2174.0 1525.3 L2175.5 1520.8 L2177.0 1524.7 L2178.5 1521.4 L2180.0 1523.0 L2181.5 1517.7 L2183.0 1521.4 L2184.5 1517.6 L2186.0 1523.2 L2187.5 1511.0 L2189.0 1521.7 L2190.5 1526.6 L2192.0 1523.3 L2193.5 1520.4 L2195.0 1523.5 L2196.5 1516.5 L2198.0 1516.8 L2199.5 1519.4 L2201.0 1520.7 L2202.5 1526.6 L2204.0 1517.2 L2205.5 1527.0 L2207.0 1514.0 L2208.5 1518.2 L2210.0 1522.1 L2211.5 1528.4 L2213.0 1519.5 L2214.5 1511.8 L2216.0 1525.0 L2217.5 1522.9 L2219.0 1517.7 L2220.5 1518.0 L2222.0 1520.0 L2223.5 1524.1 L2225.0 1527.2 L2226.5 1516.6 L2228.0 1535.8 L2229.5 1524.4 L2231.0 1523.1 L2232.5 1528.6 L2234.0 1526.2 L2235.5 1537.7 L2237.0 1531.9 L2238.5 1525.1 L2240.0 1525.4 L2241.5 1525.2 L2243.0 1526.3 L2244.5 1531.5 L2246.0 1525.3 L2247.5 1536.4 L2249.0 1528.2 L2250.5 1527.8 L2252.0 1532.7 L2253.5 1517.7 L2255.0 1522.0 L2256.5 1528.7 L2258.0 1525.2" fill="none" stroke="#00ff00" stroke-width="5.4" stroke-linejoin="round" stroke-linecap="round" shape-rendering="crispEdges"/>
<path d="M365.0 1522.7 L366.5 1524.5 L368.0 1531.3 L369.5 1527.2 L371.0 1518.1 L372.5 1524.2 L374.0 1521.6 L375.5 1524.3 L377.0 1517.2 L378.5 1524.1 L380.0 1523.8 L381.5 1528.8 L383.0 1523.6 L384.5 1524.1 L386.0 1516.0 L387.5 1530.4 L389.0 1513.7 L390.5 1525.3 L392.0 1519.3 L393.5 1516.9 L395.0 1517.4 L396.5 1517.0 L398.0 1520.9 L399.5 1518.6 L401.0 1524.7 L402.5 1511.1 L404.0 1518.1 L405.5 1514.2 L407.0 1520.6 L408.5 1508.6 L410.0 1515.5 L411.5 1517.4 L413.0 1510.2 L414.5 1519.9 L416.0 1516.2 L417.5 1519.3 L419.0 1518.7 L420.5 1510.4 L422.0 1510.8 L423.5 1512.8 L425.0 1516.3 L426.5 1516.4 L428.0 1509.5 L429.5 1509.4 L431.0 1508.2 L432.5 1508.6 L434.0 1509.6 L435.5 1509.5 L437.0 1518.3 L438.5 1506.9 L440.0 1507.2 L441.5 1509.8 L443.0 1503.2 L444.5 1505.0 L446.0 1505.8 L447.5 1508.3 L449.0 1498.2 L450.5 1509.0 L452.0 1500.4 L453.5 1501.6 L455.0 1503.5 L456.5 1501.6 L458.0 1502.2 L459.5 1497.0 L461.0 1494.9 L462.5 1495.3 L464.0 1488.0 L465.5 1497.1 L467.0 1486.7 L468.5 1483.2 L470.0 1497.8 L471.5 1486.3 L473.0 1480.3 L474.5 1493.7 L476.0 1482.1 L477.5 1487.6 L479.0 1477.2 L480.5 1478.9 L482.0 1470.6 L483.5 1468.3 L485.0 1471.7 L486.5 1475.0 L488.0 1478.3 L489.5 1485.5 L491.0 1466.9 L492.5 1476.3 L494.0 1467.1 L495.5 1468.5 L497.0 1460.8 L498.5 1460.0 L500.0 1463.0 L501.5 1460.2 L503.0 1465.8 L504.5 1461.7 L506.0 1471.4 L507.5 1465.2 L509.0 1464.9 L510.5 1469.6 L512.0 1466.0 L513.5 1462.7 L515.0 1462.1 L516.5 1461.6 L518.0 1467.5 L519.5 1465.6 L521.0 1463.0 L522.5 1464.9 L524.0 1457.3 L525.5 1462.4 L527.0 1451.6 L528.5 1465.7 L530.0 1458.4 L531.5 1458.1 L533.0 1459.5 L534.5 1455.4 L536.0 1453.1 L537.5 1459.9 L539.0 1452.9 L540.5 1446.1 L542.0 1452.4 L543.5 1439.3 L545.0 1456.6 L546.5 1445.1 L548.0 1445.0 L549.5 1456.1 L551.0 1454.2 L552.5 1441.2 L554.0 1442.7 L555.5 1443.9 L557.0 1446.0 L558.5 1434.0 L560.0 1434.1 L561.5 1438.8 L563.0 1431.5 L564.5 1432.6 L566.0 1429.8 L567.5 1417.5 L569.0 1417.2 L570.5 1404.5 L572.0 1417.1 L573.5 1425.1 L575.0 1408.4 L576.5 1421.3 L578.0 1418.5 L579.5 1410.7 L581.0 1409.7 L582.5 1409.1 L584.0 1401.9 L585.5 1404.4 L587.0 1404.7 L588.5 1407.7 L590.0 1407.8 L591.5 1397.0 L593.0 1406.1 L594.5 1394.9 L596.0 1398.0 L597.5 1400.8 L599.0 1397.7 L600.5 1396.6 L602.0 1398.8 L603.5 1393.2 L605.0 1392.4 L606.5 1395.1 L608.0 1402.4 L609.5 1395.4 L611.0 1408.3 L612.5 1397.2 L614.0 1376.4 L615.5 1392.7 L617.0 1406.3 L618.5 1395.4 L620.0 1392.5 L621.5 1389.5 L623.0 1403.7 L624.5 1401.5 L626.0 1399.2 L627.5 1397.4 L629.0 1403.8 L630.5 1399.6 L632.0 1386.0 L633.5 1398.7 L635.0 1394.5 L636.5 1392.3 L638.0 1397.6 L639.5 1392.4 L641.0 1372.5 L642.5 1401.4 L644.0 1397.4 L645.5 1389.1 L647.0 1386.7 L648.5 1389.9 L650.0 1378.9 L651.5 1388.1 L653.0 1382.8 L654.5 1380.0 L656.0 1374.0 L657.5 1373.4 L659.0 1383.2 L660.5 1382.6 L662.0 1374.6 L663.5 1368.3 L665.0 1359.7 L666.5 1368.0 L668.0 1371.4 L669.5 1345.7 L671.0 1362.7 L672.5 1336.0 L674.0 1346.5 L675.5 1349.4 L677.0 1334.4 L678.5 1331.1 L680.0 1341.5 L681.5 1344.6 L683.0 1332.7 L684.5 1344.3 L686.0 1326.6 L687.5 1343.6 L689.0 1329.5 L690.5 1328.4 L692.0 1329.3 L693.5 1325.0 L695.0 1334.5 L696.5 1335.1 L698.0 1320.0 L699.5 1312.0 L701.0 1301.5 L702.5 1301.9 L704.0 1304.9 L705.5 1301.0 L707.0 1298.3 L708.5 1295.5 L710.0 1296.3 L711.5 1278.3 L713.0 1277.7 L714.5 1292.0 L716.0 1286.7 L717.5 1272.5 L719.0 1284.6 L720.5 1265.5 L722.0 1266.1 L723.5 1250.0 L725.0 1269.4 L726.5 1259.3 L728.0 1265.4 L729.5 1259.3 L731.0 1251.0 L732.5 1248.4 L734.0 1254.1 L735.5 1239.2 L737.0 1236.0 L738.5 1234.7 L740.0 1237.9 L741.5 1235.5 L743.0 1240.7 L744.5 1219.2 L746.0 1227.2 L747.5 1205.6 L749.0 1211.7 L750.5 1200.5 L752.0 1208.1 L753.5 1190.7 L755.0 1175.2 L756.5 1181.5 L758.0 1177.4 L759.5 1169.7 L761.0 1168.8 L762.5 1161.7 L764.0 1196.0 L765.5 1170.3 L767.0 1177.3 L768.5 1155.9 L770.0 1155.3 L771.5 1162.4 L773.0 1160.2 L774.5 1166.5 L776.0 1145.9 L777.5 1157.3 L779.0 1163.0 L780.5 1135.3 L782.0 1149.1 L783.5 1126.2 L785.0 1133.4 L786.5 1126.9 L788.0 1133.5 L789.5 1101.8 L791.0 1103.8 L792.5 1107.1 L794.0 1080.1 L795.5 1089.9 L797.0 1096.0 L798.5 1096.9 L800.0 1103.9 L801.5 1094.4 L803.0 1103.7 L804.5 1082.5 L806.0 1075.3 L807.5 1053.5 L809.0 1046.0 L810.5 1044.8 L812.0 1013.0 L813.5 1050.5 L815.0 1020.3 L816.5 1011.7 L818.0 1014.6 L819.5 1026.4 L821.0 1027.9 L822.5 1007.3 L824.0 1013.8 L825.5 1005.9 L827.0 993.2 L828.5 1004.2 L830.0 1000.8 L831.5 981.7 L833.0 1010.1 L834.5 979.2 L836.0 999.1 L837.5 984.6 L839.0 988.0 L840.5 990.7 L842.0 1008.4 L843.5 988.6 L845.0 1003.0 L846.5 1024.9 L848.0 1002.1 L849.5 1011.5 L851.0 1020.8 L852.5 1008.0 L854.0 1020.8 L855.5 1009.2 L857.0 1025.2 L858.5 1019.0 L860.0 1008.9 L861.5 1035.5 L863.0 1019.7 L864.5 1018.4 L866.0 1012.0 L867.5 1017.6 L869.0 1022.3 L870.5 1025.9 L872.0 1036.6 L873.5 1010.5 L875.0 1021.6 L876.5 1039.0 L878.0 1028.3 L879.5 1031.2 L881.0 1044.6 L882.5 1031.3 L884.0 1033.1 L885.5 1027.9 L887.0 1048.1 L888.5 1040.6 L890.0 1021.5 L891.5 1035.7 L893.0 1017.5 L894.5 1042.2 L896.0 1037.9 L897.5 1029.0 L899.0 1026.5 L900.5 1011.4 L902.0 1039.4 L903.5 1029.8 L905.0 1027.5 L906.5 1038.1 L908.0 1021.8 L909.5 1021.2 L911.0 1018.2 L912.5 1008.9 L914.0 1048.1 L915.5 1017.2 L917.0 1013.2 L918.5 1024.9 L920.0 978.0 L921.5 1010.8 L923.0 1009.7 L924.5 997.7 L926.0 1012.9 L927.5 985.0 L929.0 1007.9 L930.5 1018.3 L932.0 984.7 L933.5 994.5 L935.0 1010.2 L936.5 1013.1 L938.0 1007.6 L939.5 1020.2 L941.0 1020.3 L942.5 1003.9 L944.0 1018.6 L945.5 1006.3 L947.0 997.8 L948.5 994.0 L950.0 1031.7 L951.5 1018.6 L953.0 1041.2 L954.5 1003.0 L956.0 1014.7 L957.5 1021.7 L959.0 1015.8 L960.5 1022.2 L962.0 1017.7 L963.5 1008.6 L965.0 989.0 L966.5 1003.6 L968.0 1032.6 L969.5 1021.6 L971.0 1027.9 L972.5 1005.8 L974.0 1010.0 L975.5 1002.2 L977.0 1016.3 L978.5 1012.8 L980.0 1017.5 L981.5 1032.5 L983.0 1004.3 L984.5 1022.4 L986.0 999.4 L987.5 1028.0 L989.0 1011.8 L990.5 1016.8 L992.0 1020.1 L993.5 1038.2 L995.0 1021.6 L996.5 1018.7 L998.0 1013.5 L999.5 1031.9 L1001.0 1021.7 L1002.5 1027.5 L1004.0 1034.2 L1005.5 1042.7 L1007.0 1028.0 L1008.5 1043.3 L1010.0 1055.5 L1011.5 1020.5 L1013.0 1052.3 L1014.5 1062.1 L1016.0 1033.8 L1017.5 1048.4 L1019.0 1028.3 L1020.5 1048.0 L1022.0 1041.8 L1023.5 1049.5 L1025.0 1037.1 L1026.5 1038.9 L1028.0 1043.7 L1029.5 1041.9 L1031.0 1044.0 L1032.5 1050.1 L1034.0 1042.7 L1035.5 1054.9 L1037.0 1063.3 L1038.5 1035.2 L1040.0 1063.5 L1041.5 1055.0 L1043.0 1052.5 L1044.5 1051.6 L1046.0 1058.1 L1047.5 1060.6 L1049.0 1073.3 L1050.5 1057.6 L1052.0 1082.8 L1053.5 1064.3 L1055.0 1081.4 L1056.5 1087.3 L1058.0 1065.0 L1059.5 1091.1 L1061.0 1105.1 L1062.5 1080.4 L1064.0 1093.9 L1065.5 1089.6 L1067.0 1095.1 L1068.5 1097.1 L1070.0 1097.3 L1071.5 1112.4 L1073.0 1116.4 L1074.5 1109.6 L1076.0 1126.8 L1077.5 1124.3 L1079.0 1122.1 L1080.5 1109.3 L1082.0 1137.1 L1083.5 1132.6 L1085.0 1099.2 L1086.5 1111.0 L1088.0 1118.7 L1089.5 1134.2 L1091.0 1138.7 L1092.5 1124.8 L1094.0 1131.3 L1095.5 1137.0 L1097.0 1118.6 L1098.5 1138.2 L1100.0 1130.5 L1101.5 1136.6 L1103.0 1135.5 L1104.5 1125.6 L1106.0 1128.9 L1107.5 1140.5 L1109.0 1143.0 L1110.5 1141.0 L1112.0 1155.8 L1113.5 1143.9 L1115.0 1137.7 L1116.5 1148.3 L1118.0 1152.0 L1119.5 1154.6 L1121.0 1169.1 L1122.5 1164.8 L1124.0 1172.0 L1125.5 1169.7 L1127.0 1163.9 L1128.5 1176.9 L1130.0 1166.0 L1131.5 1172.2 L1133.0 1161.8 L1134.5 1173.5 L1136.0 1170.7 L1137.5 1178.5 L1139.0 1193.3 L1140.5 1199.7 L1142.0 1188.2 L1143.5 1179.6 L1145.0 1188.9 L1146.5 1184.6 L1148.0 1178.1 L1149.5 1184.6 L1151.0 1184.3 L1152.5 1182.6 L1154.0 1202.7 L1155.5 1186.7 L1157.0 1189.0 L1158.5 1201.9 L1160.0 1191.0 L1161.5 1188.8 L1163.0 1193.4 L1164.5 1207.4 L1166.0 1208.2 L1167.5 1209.1 L1169.0 1203.7 L1170.5 1201.0 L1172.0 1218.5 L1173.5 1198.4 L1175.0 1210.4 L1176.5 1201.3 L1178.0 1210.4 L1179.5 1213.4 L1181.0 1226.5 L1182.5 1190.6 L1184.0 1229.2 L1185.5 1209.8 L1187.0 1221.2 L1188.5 1226.6 L1190.0 1213.6 L1191.5 1220.7 L1193.0 1227.0 L1194.5 1223.1 L1196.0 1219.4 L1197.5 1229.4 L1199.0 1230.6 L1200.5 1218.4 L1202.0 1245.3 L1203.5 1237.0 L1205.0 1215.5 L1206.5 1230.6 L1208.0 1253.6 L1209.5 1253.0 L1211.0 1241.9 L1212.5 1225.2 L1214.0 1238.0 L1215.5 1249.5 L1217.0 1243.9 L1218.5 1237.8 L1220.0 1234.5 L1221.5 1248.1 L1223.0 1239.3 L1224.5 1244.1 L1226.0 1245.8 L1227.5 1255.9 L1229.0 1243.6 L1230.5 1244.5 L1232.0 1227.1 L1233.5 1252.4 L1235.0 1250.7 L1236.5 1243.2 L1238.0 1224.0 L1239.5 1239.1 L1241.0 1244.9 L1242.5 1262.7 L1244.0 1250.0 L1245.5 1252.2 L1247.0 1252.9 L1248.5 1257.8 L1250.0 1237.0 L1251.5 1240.0 L1253.0 1237.8 L1254.5 1246.5 L1256.0 1247.2 L1257.5 1252.8 L1259.0 1245.2 L1260.5 1256.8 L1262.0 1250.9 L1263.5 1278.2 L1265.0 1258.0 L1266.5 1285.8 L1268.0 1279.8 L1269.5 1257.6 L1271.0 1276.7 L1272.5 1274.7 L1274.0 1257.9 L1275.5 1276.5 L1277.0 1271.6 L1278.5 1276.0 L1280.0 1266.8 L1281.5 1274.0 L1283.0 1278.5 L1284.5 1274.2 L1286.0 1271.3 L1287.5 1275.5 L1289.0 1269.3 L1290.5 1280.7 L1292.0 1257.4 L1293.5 1291.2 L1295.0 1279.9 L1296.5 1283.8 L1298.0 1287.3 L1299.5 1270.7 L1301.0 1299.8 L1302.5 1272.5 L1304.0 1285.7 L1305.5 1284.9 L1307.0 1293.1 L1308.5 1282.5 L1310.0 1271.2 L1311.5 1285.3 L1313.0 1262.5 L1314.5 1280.7 L1316.0 1278.3 L1317.5 1294.5 L1319.0 1279.1 L1320.5 1277.3 L1322.0 1274.4 L1323.5 1273.3 L1325.0 1275.5 L1326.5 1284.7 L1328.0 1268.9 L1329.5 1278.1 L1331.0 1268.5 L1332.5 1280.3 L1334.0 1284.4 L1335.5 1274.8 L1337.0 1282.0 L1338.5 1289.4 L1340.0 1296.5 L1341.5 1299.5 L1343.0 1292.2 L1344.5 1285.9 L1346.0 1281.2 L1347.5 1300.4 L1349.0 1305.3 L1350.5 1297.0 L1352.0 1306.6 L1353.5 1290.5 L1355.0 1291.0 L1356.5 1306.7 L1358.0 1286.0 L1359.5 1299.0 L1361.0 1297.2 L1362.5 1295.3 L1364.0 1308.0 L1365.5 1287.1 L1367.0 1290.7 L1368.5 1277.4 L1370.0 1285.7 L1371.5 1290.0 L1373.0 1291.0 L1374.5 1292.5 L1376.0 1296.5 L1377.5 1288.8 L1379.0 1278.3 L1380.5 1295.3 L1382.0 1297.5 L1383.5 1284.8 L1385.0 1287.8 L1386.5 1308.2 L1388.0 1302.3 L1389.5 1302.8 L1391.0 1299.5 L1392.5 1295.3 L1394.0 1290.0 L1395.5 1298.7 L1397.0 1292.5 L1398.5 1290.6 L1400.0 1294.0 L1401.5 1293.5 L1403.0 1301.2 L1404.5 1286.4 L1406.0 1314.4 L1407.5 1287.1 L1409.0 1292.7 L1410.5 1304.8 L1412.0 1291.9 L1413.5 1296.0 L1415.0 1301.3 L1416.5 1278.8 L1418.0 1299.1 L1419.5 1296.1 L1421.0 1302.1 L1422.5 1308.2 L1424.0 1309.6 L1425.5 1316.6 L1427.0 1316.4 L1428.5 1313.4 L1430.0 1305.1 L1431.5 1313.8 L1433.0 1298.0 L1434.5 1305.2 L1436.0 1317.5 L1437.5 1312.5 L1439.0 1295.4 L1440.5 1301.8 L1442.0 1313.7 L1443.5 1311.5 L1445.0 1315.2 L1446.5 1292.9 L1448.0 1296.8 L1449.5 1304.8 L1451.0 1299.1 L1452.5 1306.5 L1454.0 1306.7 L1455.5 1309.2 L1457.0 1305.3 L1458.5 1310.6 L1460.0 1312.1 L1461.5 1307.0 L1463.0 1295.9 L1464.5 1315.5 L1466.0 1306.8 L1467.5 1308.2 L1469.0 1306.1 L1470.5 1291.8 L1472.0 1308.9 L1473.5 1299.0 L1475.0 1294.5 L1476.5 1314.2 L1478.0 1301.6 L1479.5 1306.3 L1481.0 1311.2 L1482.5 1317.1 L1484.0 1290.2 L1485.5 1299.0 L1487.0 1310.5 L1488.5 1300.3 L1490.0 1280.4 L1491.5 1307.7 L1493.0 1308.8 L1494.5 1313.8 L1496.0 1310.0 L1497.5 1305.3 L1499.0 1311.1 L1500.5 1309.7 L1502.0 1306.7 L1503.5 1313.2 L1505.0 1314.6 L1506.5 1304.5 L1508.0 1320.9 L1509.5 1320.0 L1511.0 1320.4 L1512.5 1293.7 L1514.0 1316.7 L1515.5 1315.6 L1517.0 1309.7 L1518.5 1322.8 L1520.0 1307.6 L1521.5 1329.5 L1523.0 1323.9 L1524.5 1317.9 L1526.0 1333.5 L1527.5 1327.0 L1529.0 1326.8 L1530.5 1315.0 L1532.0 1329.6 L1533.5 1336.9 L1535.0 1335.1 L1536.5 1317.5 L1538.0 1338.2 L1539.5 1340.1 L1541.0 1334.8 L1542.5 1325.8 L1544.0 1317.7 L1545.5 1322.4 L1547.0 1325.2 L1548.5 1331.8 L1550.0 1334.2 L1551.5 1324.7 L1553.0 1318.2 L1554.5 1327.6 L1556.0 1321.0 L1557.5 1341.2 L1559.0 1322.2 L1560.5 1335.3 L1562.0 1338.2 L1563.5 1324.9 L1565.0 1340.1 L1566.5 1331.9 L1568.0 1327.4 L1569.5 1326.6 L1571.0 1334.9 L1572.5 1342.5 L1574.0 1320.7 L1575.5 1339.9 L1577.0 1334.7 L1578.5 1330.6 L1580.0 1335.9 L1581.5 1337.1 L1583.0 1337.2 L1584.5 1344.2 L1586.0 1331.9 L1587.5 1353.7 L1589.0 1346.2 L1590.5 1335.7 L1592.0 1326.3 L1593.5 1340.9 L1595.0 1338.5 L1596.5 1347.5 L1598.0 1347.8 L1599.5 1357.1 L1601.0 1342.6 L1602.5 1349.9 L1604.0 1341.5 L1605.5 1342.4 L1607.0 1356.9 L1608.5 1345.2 L1610.0 1345.9 L1611.5 1344.7 L1613.0 1350.1 L1614.5 1352.5 L1616.0 1347.8 L1617.5 1340.7 L1619.0 1351.9 L1620.5 1343.8 L1622.0 1347.5 L1623.5 1351.9 L1625.0 1352.4 L1626.5 1334.0 L1628.0 1363.3 L1629.5 1356.9 L1631.0 1365.3 L1632.5 1369.7 L1634.0 1344.8 L1635.5 1347.6 L1637.0 1353.5 L1638.5 1358.6 L1640.0 1348.2 L1641.5 1349.8 L1643.0 1359.9 L1644.5 1345.9 L1646.0 1353.9 L1647.5 1360.3 L1649.0 1350.8 L1650.5 1358.4 L1652.0 1352.2 L1653.5 1341.8 L1655.0 1349.5 L1656.5 1352.2 L1658.0 1351.6 L1659.5 1354.5 L1661.0 1357.6 L1662.5 1357.2 L1664.0 1356.8 L1665.5 1352.9 L1667.0 1354.9 L1668.5 1354.3 L1670.0 1353.2 L1671.5 1367.7 L1673.0 1344.9 L1674.5 1360.5 L1676.0 1347.8 L1677.5 1355.6 L1679.0 1366.0 L1680.5 1358.7 L1682.0 1371.0 L1683.5 1354.9 L1685.0 1359.9 L1686.5 1358.0 L1688.0 1363.0 L1689.5 1361.1 L1691.0 1361.1 L1692.5 1364.8 L1694.0 1372.4 L1695.5 1366.1 L1697.0 1365.9 L1698.5 1363.9 L1700.0 1361.4 L1701.5 1356.7 L1703.0 1359.9 L1704.5 1367.8 L1706.0 1354.7 L1707.5 1372.9 L1709.0 1365.8 L1710.5 1362.6 L1712.0 1365.6 L1713.5 1374.2 L1715.0 1372.6 L1716.5 1372.2 L1718.0 1382.8 L1719.5 1387.2 L1721.0 1362.6 L1722.5 1377.8 L1724.0 1366.9 L1725.5 1363.0 L1727.0 1369.2 L1728.5 1380.1 L1730.0 1371.4 L1731.5 1370.6 L1733.0 1383.9 L1734.5 1378.2 L1736.0 1374.6 L1737.5 1387.9 L1739.0 1379.3 L1740.5 1371.5 L1742.0 1369.5 L1743.5 1374.6 L1745.0 1379.2 L1746.5 1385.0 L1748.0 1385.0 L1749.5 1380.7 L1751.0 1372.6 L1752.5 1387.5 L1754.0 1382.5 L1755.5 1375.1 L1757.0 1374.9 L1758.5 1385.3 L1760.0 1386.8 L1761.5 1390.5 L1763.0 1377.6 L1764.5 1399.1 L1766.0 1374.8 L1767.5 1387.2 L1769.0 1396.9 L1770.5 1395.4 L1772.0 1382.6 L1773.5 1393.5 L1775.0 1398.1 L1776.5 1395.2 L1778.0 1384.3 L1779.5 1402.2 L1781.0 1380.8 L1782.5 1392.3 L1784.0 1385.3 L1785.5 1390.0 L1787.0 1391.0 L1788.5 1396.8 L1790.0 1385.7 L1791.5 1395.8 L1793.0 1403.3 L1794.5 1395.8 L1796.0 1399.3 L1797.5 1399.1 L1799.0 1391.9 L1800.5 1394.9 L1802.0 1398.2 L1803.5 1401.5 L1805.0 1412.2 L1806.5 1410.2 L1808.0 1397.2 L1809.5 1398.1 L1811.0 1395.0 L1812.5 1387.3 L1814.0 1411.2 L1815.5 1406.8 L1817.0 1391.6 L1818.5 1404.8 L1820.0 1420.4 L1821.5 1409.1 L1823.0 1409.8 L1824.5 1408.4 L1826.0 1402.8 L1827.5 1400.8 L1829.0 1403.5 L1830.5 1410.2 L1832.0 1408.3 L1833.5 1414.7 L1835.0 1421.9 L1836.5 1415.1 L1838.0 1417.1 L1839.5 1410.1 L1841.0 1404.7 L1842.5 1426.8 L1844.0 1418.3 L1845.5 1421.6 L1847.0 1412.3 L1848.5 1404.5 L1850.0 1423.7 L1851.5 1402.5 L1853.0 1415.2 L1854.5 1413.3 L1856.0 1418.4 L1857.5 1422.4 L1859.0 1422.8 L1860.5 1405.0 L1862.0 1424.5 L1863.5 1406.9 L1865.0 1423.1 L1866.5 1416.5 L1868.0 1412.5 L1869.5 1416.5 L1871.0 1411.9 L1872.5 1420.2 L1874.0 1426.4 L1875.5 1425.8 L1877.0 1421.4 L1878.5 1428.2 L1880.0 1424.8 L1881.5 1435.3 L1883.0 1425.5 L1884.5 1419.1 L1886.0 1421.3 L1887.5 1418.8 L1889.0 1422.0 L1890.5 1423.3 L1892.0 1428.8 L1893.5 1429.7 L1895.0 1425.7 L1896.5 1428.4 L1898.0 1421.8 L1899.5 1423.4 L1901.0 1412.3 L1902.5 1422.9 L1904.0 1425.1 L1905.5 1444.0 L1907.0 1420.9 L1908.5 1429.9 L1910.0 1428.1 L1911.5 1421.1 L1913.0 1432.6 L1914.5 1431.7 L1916.0 1423.4 L1917.5 1418.9 L1919.0 1433.1 L1920.5 1425.7 L1922.0 1438.7 L1923.5 1433.5 L1925.0 1438.5 L1926.5 1433.8 L1928.0 1444.8 L1929.5 1440.0 L1931.0 1445.0 L1932.5 1436.9 L1934.0 1430.3 L1935.5 1428.1 L1937.0 1433.6 L1938.5 1438.4 L1940.0 1433.2 L1941.5 1451.6 L1943.0 1437.1 L1944.5 1440.6 L1946.0 1439.9 L1947.5 1433.1 L1949.0 1447.2 L1950.5 1445.5 L1952.0 1447.4 L1953.5 1437.6 L1955.0 1443.6 L1956.5 1443.8 L1958.0 1451.2 L1959.5 1437.0 L1961.0 1449.2 L1962.5 1452.9 L1964.0 1443.6 L1965.5 1441.7 L1967.0 1454.2 L1968.5 1448.3 L1970.0 1453.6 L1971.5 1451.6 L1973.0 1453.6 L1974.5 1446.7 L1976.0 1435.8 L1977.5 1451.5 L1979.0 1444.3 L1980.5 1451.9 L1982.0 1445.5 L1983.5 1457.9 L1985.0 1447.4 L1986.5 1453.6 L1988.0 1455.3 L1989.5 1448.7 L1991.0 1451.2 L1992.5 1449.4 L1994.0 1444.3 L1995.5 1458.1 L1997.0 1444.7 L1998.5 1441.1 L2000.0 1447.2 L2001.5 1450.9 L2003.0 1450.7 L2004.5 1448.5 L2006.0 1448.0 L2007.5 1438.6 L2009.0 1454.4 L2010.5 1460.8 L2012.0 1447.0 L2013.5 1441.2 L2015.0 1455.7 L2016.5 1450.8 L2018.0 1429.5 L2019.5 1448.1 L2021.0 1444.6 L2022.5 1446.6 L2024.0 1464.9 L2025.5 1459.8 L2027.0 1454.0 L2028.5 1455.5 L2030.0 1464.8 L2031.5 1450.4 L2033.0 1461.2 L2034.5 1454.0 L2036.0 1462.6 L2037.5 1459.6 L2039.0 1454.6 L2040.5 1464.8 L2042.0 1462.1 L2043.5 1469.5 L2045.0 1457.2 L2046.5 1460.4 L2048.0 1456.0 L2049.5 1466.6 L2051.0 1455.8 L2052.5 1460.0 L2054.0 1467.4 L2055.5 1463.3 L2057.0 1462.1 L2058.5 1462.1 L2060.0 1462.6 L2061.5 1464.5 L2063.0 1459.5 L2064.5 1450.4 L2066.0 1468.9 L2067.5 1456.0 L2069.0 1472.2 L2070.5 1463.9 L2072.0 1480.0 L2073.5 1469.4 L2075.0 1465.6 L2076.5 1468.6 L2078.0 1456.4 L2079.5 1465.2 L2081.0 1462.6 L2082.5 1465.0 L2084.0 1454.1 L2085.5 1453.6 L2087.0 1469.7 L2088.5 1466.3 L2090.0 1464.0 L2091.5 1466.2 L2093.0 1463.4 L2094.5 1464.6 L2096.0 1471.2 L2097.5 1466.5 L2099.0 1471.8 L2100.5 1464.6 L2102.0 1459.0 L2103.5 1465.5 L2105.0 1468.5 L2106.5 1463.6 L2108.0 1467.8 L2109.5 1467.4 L2111.0 1475.3 L2112.5 1475.2 L2114.0 1476.9 L2115.5 1467.3 L2117.0 1473.5 L2118.5 1478.8 L2120.0 1473.3 L2121.5 1472.3 L2123.0 1469.0 L2124.5 1477.7 L2126.0 1474.5 L2127.5 1479.1 L2129.0 1473.4 L2130.5 1485.2 L2132.0 1474.5 L2133.5 1468.4 L2135.0 1476.1 L2136.5 1477.7 L2138.0 1482.0 L2139.5 1473.0 L2141.0 1472.8 L2142.5 1474.4 L2144.0 1473.8 L2145.5 1465.0 L2147.0 1479.9 L2148.5 1482.7 L2150.0 1472.5 L2151.5 1471.5 L2153.0 1476.0 L2154.5 1472.7 L2156.0 1481.2 L2157.5 1474.1 L2159.0 1480.7 L2160.5 1471.5 L2162.0 1470.9 L2163.5 1470.5 L2165.0 1471.5 L2166.5 1481.3 L2168.0 1483.8 L2169.5 1480.6 L2171.0 1481.3 L2172.5 1469.3 L2174.0 1486.5 L2175.5 1474.9 L2177.0 1488.0 L2178.5 1493.9 L2180.0 1482.2 L2181.5 1485.2 L2183.0 1485.4 L2184.5 1475.8 L2186.0 1476.9 L2187.5 1479.2 L2189.0 1483.6 L2190.5 1487.1 L2192.0 1483.6 L2193.5 1488.7 L2195.0 1480.8 L2196.5 1476.4 L2198.0 1483.7 L2199.5 1483.5 L2201.0 1476.9 L2202.5 1489.2 L2204.0 1479.6 L2205.5 1481.0 L2207.0 1486.0 L2208.5 1480.0 L2210.0 1488.7 L2211.5 1488.0 L2213.0 1488.7 L2214.5 1486.9 L2216.0 1485.0 L2217.5 1484.0 L2219.0 1489.5 L2220.5 1495.0 L2222.0 1492.4 L2223.5 1490.6 L2225.0 1493.7 L2226.5 1495.4 L2228.0 1482.8 L2229.5 1488.7 L2231.0 1494.9 L2232.5 1485.8 L2234.0 1486.7 L2235.5 1492.0 L2237.0 1487.9 L2238.5 1494.8 L2240.0 1487.5 L2241.5 1491.9 L2243.0 1501.2 L2244.5 1494.6 L2246.0 1482.4 L2247.5 1484.0 L2249.0 1484.1 L2250.5 1488.8 L2252.0 1482.2 L2253.5 1491.7 L2255.0 1497.4 L2256.5 1496.6 L2258.0 1485.3" fill="none" stroke="#00009b" stroke-width="5.4" stroke-linejoin="round" stroke-linecap="round" shape-rendering="crispEdges"/>
<path d="M365.0 1556.4 L366.5 1554.9 L368.0 1557.9 L369.5 1559.7 L371.0 1561.7 L372.5 1558.7 L374.0 1556.7 L375.5 1555.9 L377.0 1560.2 L378.5 1562.6 L380.0 1558.6 L381.5 1554.1 L383.0 1554.7 L384.5 1562.0 L386.0 1557.8 L387.5 1552.0 L389.0 1556.6 L390.5 1553.3 L392.0 1554.7 L393.5 1554.9 L395.0 1554.0 L396.5 1557.6 L398.0 1555.6 L399.5 1553.8 L401.0 1556.6 L402.5 1557.6 L404.0 1550.0 L405.5 1553.9 L407.0 1551.4 L408.5 1553.6 L410.0 1549.9 L411.5 1553.6 L413.0 1553.1 L414.5 1552.0 L416.0 1549.4 L417.5 1551.1 L419.0 1548.6 L420.5 1547.4 L422.0 1552.0 L423.5 1547.4 L425.0 1554.2 L426.5 1552.4 L428.0 1543.4 L429.5 1550.2 L431.0 1545.4 L432.5 1548.6 L434.0 1548.2 L435.5 1541.1 L437.0 1546.4 L438.5 1545.8 L440.0 1549.4 L441.5 1541.7 L443.0 1547.6 L444.5 1540.9 L446.0 1542.9 L447.5 1540.6 L449.0 1547.9 L450.5 1544.2 L452.0 1550.1 L453.5 1543.3 L455.0 1543.4 L456.5 1542.7 L458.0 1536.9 L459.5 1538.0 L461.0 1542.3 L462.5 1535.1 L464.0 1536.3 L465.5 1534.5 L467.0 1535.9 L468.5 1531.2 L470.0 1531.0 L471.5 1531.5 L473.0 1529.9 L474.5 1525.1 L476.0 1531.0 L477.5 1521.4 L479.0 1520.8 L480.5 1519.6 L482.0 1527.8 L483.5 1521.7 L485.0 1518.5 L486.5 1517.2 L488.0 1523.1 L489.5 1516.5 L491.0 1515.1 L492.5 1522.5 L494.0 1514.5 L495.5 1517.7 L497.0 1518.7 L498.5 1516.4 L500.0 1517.7 L501.5 1523.2 L503.0 1515.0 L504.5 1511.4 L506.0 1508.6 L507.5 1515.1 L509.0 1514.0 L510.5 1516.2 L512.0 1512.5 L513.5 1511.9 L515.0 1510.3 L516.5 1510.5 L518.0 1512.8 L519.5 1509.8 L521.0 1511.2 L522.5 1518.4 L524.0 1511.4 L525.5 1501.4 L527.0 1515.4 L528.5 1508.3 L530.0 1501.5 L531.5 1509.0 L533.0 1504.0 L534.5 1500.1 L536.0 1499.0 L537.5 1496.2 L539.0 1500.0 L540.5 1503.7 L542.0 1496.0 L543.5 1498.3 L545.0 1504.1 L546.5 1487.8 L548.0 1493.3 L549.5 1488.9 L551.0 1483.3 L552.5 1481.5 L554.0 1484.6 L555.5 1484.8 L557.0 1477.8 L558.5 1478.7 L560.0 1480.1 L561.5 1475.8 L563.0 1476.9 L564.5 1472.7 L566.0 1471.0 L567.5 1476.6 L569.0 1468.3 L570.5 1464.0 L572.0 1465.9 L573.5 1455.5 L575.0 1457.6 L576.5 1462.9 L578.0 1460.9 L579.5 1465.1 L581.0 1455.4 L582.5 1446.0 L584.0 1464.7 L585.5 1458.9 L587.0 1445.6 L588.5 1458.9 L590.0 1450.3 L591.5 1438.7 L593.0 1446.0 L594.5 1444.7 L596.0 1456.2 L597.5 1441.4 L599.0 1443.8 L600.5 1442.8 L602.0 1441.4 L603.5 1437.4 L605.0 1443.4 L606.5 1447.8 L608.0 1444.4 L609.5 1434.4 L611.0 1432.3 L612.5 1439.3 L614.0 1433.6 L615.5 1433.4 L617.0 1426.3 L618.5 1447.8 L620.0 1440.8 L621.5 1428.5 L623.0 1439.3 L624.5 1441.2 L626.0 1417.4 L627.5 1427.9 L629.0 1428.0 L630.5 1433.6 L632.0 1427.8 L633.5 1426.1 L635.0 1426.1 L636.5 1437.0 L638.0 1437.8 L639.5 1419.5 L641.0 1415.7 L642.5 1437.5 L644.0 1412.6 L645.5 1413.8 L647.0 1416.3 L648.5 1417.8 L650.0 1419.9 L651.5 1414.2 L653.0 1404.4 L654.5 1412.0 L656.0 1408.8 L657.5 1418.2 L659.0 1404.1 L660.5 1393.7 L662.0 1394.2 L663.5 1409.5 L665.0 1394.6 L666.5 1382.4 L668.0 1391.3 L669.5 1393.7 L671.0 1400.4 L672.5 1383.6 L674.0 1393.7 L675.5 1393.0 L677.0 1380.9 L678.5 1382.8 L680.0 1395.0 L681.5 1392.9 L683.0 1385.1 L684.5 1379.5 L686.0 1383.5 L687.5 1372.4 L689.0 1370.7 L690.5 1363.2 L692.0 1367.4 L693.5 1364.6 L695.0 1383.6 L696.5 1359.4 L698.0 1368.1 L699.5 1366.2 L701.0 1352.5 L702.5 1360.3 L704.0 1332.4 L705.5 1347.1 L707.0 1350.3 L708.5 1322.5 L710.0 1329.3 L711.5 1343.8 L713.0 1330.6 L714.5 1321.0 L716.0 1323.7 L717.5 1319.2 L719.0 1326.2 L720.5 1320.7 L722.0 1311.1 L723.5 1304.1 L725.0 1305.0 L726.5 1312.2 L728.0 1299.8 L729.5 1297.7 L731.0 1286.5 L732.5 1272.1 L734.0 1272.4 L735.5 1279.5 L737.0 1270.2 L738.5 1256.7 L740.0 1245.9 L741.5 1256.9 L743.0 1248.6 L744.5 1244.5 L746.0 1240.8 L747.5 1242.8 L749.0 1239.6 L750.5 1242.6 L752.0 1239.4 L753.5 1240.3 L755.0 1232.7 L756.5 1219.2 L758.0 1219.0 L759.5 1221.2 L761.0 1210.5 L762.5 1215.3 L764.0 1217.6 L765.5 1195.2 L767.0 1182.1 L768.5 1206.9 L770.0 1191.5 L771.5 1194.2 L773.0 1170.0 L774.5 1196.3 L776.0 1182.4 L777.5 1169.7 L779.0 1163.2 L780.5 1163.6 L782.0 1156.4 L783.5 1150.9 L785.0 1137.9 L786.5 1158.1 L788.0 1140.5 L789.5 1137.6 L791.0 1133.9 L792.5 1104.6 L794.0 1131.5 L795.5 1119.2 L797.0 1116.4 L798.5 1117.2 L800.0 1103.0 L801.5 1119.2 L803.0 1099.4 L804.5 1093.8 L806.0 1090.5 L807.5 1097.6 L809.0 1097.9 L810.5 1074.6 L812.0 1054.5 L813.5 1073.3 L815.0 1040.3 L816.5 1059.1 L818.0 1039.9 L819.5 1028.2 L821.0 1025.1 L822.5 1034.3 L824.0 1035.7 L825.5 1019.2 L827.0 1028.5 L828.5 1037.7 L830.0 1006.6 L831.5 991.5 L833.0 988.7 L834.5 981.2 L836.0 986.5 L837.5 981.9 L839.0 971.2 L840.5 990.2 L842.0 949.4 L843.5 962.3 L845.0 1000.7 L846.5 987.4 L848.0 980.0 L849.5 978.1 L851.0 993.1 L852.5 977.2 L854.0 970.9 L855.5 954.2 L857.0 967.6 L858.5 958.8 L860.0 958.4 L861.5 957.5 L863.0 964.9 L864.5 960.5 L866.0 974.3 L867.5 946.6 L869.0 959.9 L870.5 984.0 L872.0 960.9 L873.5 974.5 L875.0 973.2 L876.5 974.9 L878.0 967.5 L879.5 941.3 L881.0 954.9 L882.5 953.8 L884.0 939.9 L885.5 953.9 L887.0 945.1 L888.5 940.9 L890.0 965.0 L891.5 963.0 L893.0 956.2 L894.5 954.1 L896.0 960.2 L897.5 962.9 L899.0 963.6 L900.5 968.5 L902.0 964.3 L903.5 974.5 L905.0 976.2 L906.5 974.1 L908.0 961.6 L909.5 962.1 L911.0 974.7 L912.5 966.8 L914.0 968.5 L915.5 938.5 L917.0 935.7 L918.5 972.5 L920.0 972.2 L921.5 984.9 L923.0 976.5 L924.5 970.2 L926.0 967.5 L927.5 949.8 L929.0 977.8 L930.5 959.6 L932.0 973.1 L933.5 969.4 L935.0 970.6 L936.5 979.0 L938.0 963.2 L939.5 965.7 L941.0 961.5 L942.5 968.9 L944.0 995.3 L945.5 972.3 L947.0 992.4 L948.5 989.4 L950.0 989.2 L951.5 990.8 L953.0 969.3 L954.5 985.8 L956.0 999.9 L957.5 971.4 L959.0 977.9 L960.5 968.6 L962.0 979.0 L963.5 960.2 L965.0 990.8 L966.5 964.8 L968.0 948.7 L969.5 987.5 L971.0 976.0 L972.5 969.2 L974.0 968.4 L975.5 956.9 L977.0 958.4 L978.5 970.7 L980.0 974.5 L981.5 976.6 L983.0 970.2 L984.5 964.5 L986.0 970.4 L987.5 988.5 L989.0 994.3 L990.5 974.1 L992.0 973.1 L993.5 994.3 L995.0 988.2 L996.5 988.2 L998.0 964.1 L999.5 975.6 L1001.0 974.2 L1002.5 983.1 L1004.0 960.7 L1005.5 996.7 L1007.0 985.8 L1008.5 988.7 L1010.0 971.2 L1011.5 987.3 L1013.0 1006.1 L1014.5 974.0 L1016.0 999.0 L1017.5 1006.2 L1019.0 991.9 L1020.5 1011.7 L1022.0 999.8 L1023.5 1019.7 L1025.0 1012.8 L1026.5 1010.5 L1028.0 1032.8 L1029.5 1020.3 L1031.0 1027.3 L1032.5 999.6 L1034.0 1007.7 L1035.5 1027.2 L1037.0 1030.6 L1038.5 1020.8 L1040.0 1031.5 L1041.5 1010.7 L1043.0 1026.0 L1044.5 1010.7 L1046.0 1028.7 L1047.5 1020.2 L1049.0 1020.0 L1050.5 1035.2 L1052.0 1064.8 L1053.5 1034.8 L1055.0 1041.2 L1056.5 1061.4 L1058.0 1045.4 L1059.5 1071.1 L1061.0 1054.4 L1062.5 1053.9 L1064.0 1058.3 L1065.5 1075.9 L1067.0 1065.8 L1068.5 1066.2 L1070.0 1064.5 L1071.5 1045.0 L1073.0 1053.2 L1074.5 1080.3 L1076.0 1073.5 L1077.5 1070.8 L1079.0 1073.5 L1080.5 1063.1 L1082.0 1076.3 L1083.5 1065.3 L1085.0 1081.1 L1086.5 1070.1 L1088.0 1076.7 L1089.5 1085.0 L1091.0 1077.2 L1092.5 1088.7 L1094.0 1087.3 L1095.5 1086.9 L1097.0 1098.3 L1098.5 1068.3 L1100.0 1067.8 L1101.5 1092.8 L1103.0 1097.0 L1104.5 1109.5 L1106.0 1096.5 L1107.5 1098.2 L1109.0 1080.5 L1110.5 1099.5 L1112.0 1099.8 L1113.5 1082.3 L1115.0 1085.5 L1116.5 1095.5 L1118.0 1101.3 L1119.5 1067.9 L1121.0 1102.2 L1122.5 1105.8 L1124.0 1103.3 L1125.5 1110.1 L1127.0 1114.2 L1128.5 1100.6 L1130.0 1118.0 L1131.5 1113.1 L1133.0 1107.8 L1134.5 1122.2 L1136.0 1137.7 L1137.5 1108.5 L1139.0 1108.6 L1140.5 1110.6 L1142.0 1150.8 L1143.5 1129.5 L1145.0 1133.5 L1146.5 1128.0 L1148.0 1128.4 L1149.5 1119.1 L1151.0 1143.8 L1152.5 1146.6 L1154.0 1125.3 L1155.5 1136.6 L1157.0 1141.2 L1158.5 1150.2 L1160.0 1154.5 L1161.5 1165.0 L1163.0 1168.9 L1164.5 1167.3 L1166.0 1171.5 L1167.5 1147.4 L1169.0 1154.9 L1170.5 1173.4 L1172.0 1165.8 L1173.5 1164.2 L1175.0 1145.0 L1176.5 1147.0 L1178.0 1173.8 L1179.5 1170.5 L1181.0 1164.7 L1182.5 1164.1 L1184.0 1151.5 L1185.5 1173.0 L1187.0 1180.1 L1188.5 1186.7 L1190.0 1171.1 L1191.5 1169.0 L1193.0 1160.5 L1194.5 1184.0 L1196.0 1189.2 L1197.5 1166.3 L1199.0 1175.6 L1200.5 1173.9 L1202.0 1167.5 L1203.5 1148.5 L1205.0 1170.1 L1206.5 1180.1 L1208.0 1160.0 L1209.5 1166.5 L1211.0 1142.9 L1212.5 1189.3 L1214.0 1182.7 L1215.5 1179.5 L1217.0 1177.8 L1218.5 1175.7 L1220.0 1182.7 L1221.5 1181.9 L1223.0 1183.8 L1224.5 1187.1 L1226.0 1189.6 L1227.5 1204.1 L1229.0 1175.1 L1230.5 1191.9 L1232.0 1183.2 L1233.5 1178.1 L1235.0 1166.1 L1236.5 1195.2 L1238.0 1179.6 L1239.5 1181.9 L1241.0 1193.8 L1242.5 1178.6 L1244.0 1189.4 L1245.5 1188.5 L1247.0 1197.0 L1248.5 1199.1 L1250.0 1180.7 L1251.5 1198.2 L1253.0 1188.3 L1254.5 1190.9 L1256.0 1188.7 L1257.5 1200.0 L1259.0 1182.6 L1260.5 1199.3 L1262.0 1210.6 L1263.5 1199.1 L1265.0 1223.8 L1266.5 1199.6 L1268.0 1210.8 L1269.5 1205.9 L1271.0 1205.9 L1272.5 1201.8 L1274.0 1207.3 L1275.5 1211.9 L1277.0 1204.6 L1278.5 1220.4 L1280.0 1226.2 L1281.5 1196.9 L1283.0 1219.0 L1284.5 1212.6 L1286.0 1212.8 L1287.5 1233.6 L1289.0 1221.4 L1290.5 1212.9 L1292.0 1211.4 L1293.5 1189.0 L1295.0 1217.3 L1296.5 1203.5 L1298.0 1213.3 L1299.5 1213.9 L1301.0 1223.7 L1302.5 1235.6 L1304.0 1227.6 L1305.5 1232.3 L1307.0 1220.0 L1308.5 1228.4 L1310.0 1233.0 L1311.5 1214.0 L1313.0 1247.6 L1314.5 1222.9 L1316.0 1218.1 L1317.5 1245.2 L1319.0 1249.6 L1320.5 1223.2 L1322.0 1223.7 L1323.5 1258.0 L1325.0 1229.8 L1326.5 1209.9 L1328.0 1222.3 L1329.5 1246.3 L1331.0 1233.6 L1332.5 1234.2 L1334.0 1238.6 L1335.5 1233.5 L1337.0 1224.1 L1338.5 1212.5 L1340.0 1231.7 L1341.5 1217.3 L1343.0 1227.4 L1344.5 1244.5 L1346.0 1233.4 L1347.5 1229.2 L1349.0 1229.5 L1350.5 1235.9 L1352.0 1237.9 L1353.5 1217.3 L1355.0 1231.4 L1356.5 1245.8 L1358.0 1237.0 L1359.5 1222.9 L1361.0 1223.7 L1362.5 1210.8 L1364.0 1222.5 L1365.5 1244.5 L1367.0 1228.7 L1368.5 1221.0 L1370.0 1223.2 L1371.5 1227.2 L1373.0 1226.8 L1374.5 1224.0 L1376.0 1219.7 L1377.5 1232.4 L1379.0 1240.3 L1380.5 1220.3 L1382.0 1220.2 L1383.5 1236.0 L1385.0 1210.9 L1386.5 1218.9 L1388.0 1220.7 L1389.5 1225.8 L1391.0 1221.7 L1392.5 1215.9 L1394.0 1227.1 L1395.5 1213.1 L1397.0 1207.9 L1398.5 1205.3 L1400.0 1231.2 L1401.5 1208.0 L1403.0 1228.4 L1404.5 1230.5 L1406.0 1231.8 L1407.5 1222.6 L1409.0 1219.1 L1410.5 1225.0 L1412.0 1218.7 L1413.5 1212.2 L1415.0 1236.0 L1416.5 1215.9 L1418.0 1241.0 L1419.5 1229.6 L1421.0 1221.6 L1422.5 1230.8 L1424.0 1239.0 L1425.5 1215.5 L1427.0 1220.5 L1428.5 1220.0 L1430.0 1231.8 L1431.5 1234.4 L1433.0 1231.2 L1434.5 1224.3 L1436.0 1226.1 L1437.5 1242.0 L1439.0 1241.4 L1440.5 1232.3 L1442.0 1218.9 L1443.5 1236.9 L1445.0 1233.7 L1446.5 1233.4 L1448.0 1247.1 L1449.5 1238.6 L1451.0 1222.0 L1452.5 1222.1 L1454.0 1243.8 L1455.5 1233.0 L1457.0 1239.3 L1458.5 1230.1 L1460.0 1222.2 L1461.5 1234.0 L1463.0 1246.0 L1464.5 1234.7 L1466.0 1221.2 L1467.5 1228.8 L1469.0 1227.2 L1470.5 1233.6 L1472.0 1241.5 L1473.5 1250.5 L1475.0 1234.5 L1476.5 1228.7 L1478.0 1233.5 L1479.5 1233.1 L1481.0 1229.3 L1482.5 1233.6 L1484.0 1233.6 L1485.5 1222.9 L1487.0 1239.1 L1488.5 1230.9 L1490.0 1225.4 L1491.5 1239.2 L1493.0 1230.4 L1494.5 1251.2 L1496.0 1239.9 L1497.5 1236.6 L1499.0 1229.3 L1500.5 1233.0 L1502.0 1245.1 L1503.5 1231.4 L1505.0 1245.2 L1506.5 1219.5 L1508.0 1241.0 L1509.5 1247.0 L1511.0 1243.0 L1512.5 1240.1 L1514.0 1249.6 L1515.5 1232.6 L1517.0 1231.4 L1518.5 1241.3 L1520.0 1251.0 L1521.5 1243.6 L1523.0 1237.5 L1524.5 1241.5 L1526.0 1242.3 L1527.5 1226.2 L1529.0 1211.2 L1530.5 1227.1 L1532.0 1222.3 L1533.5 1230.2 L1535.0 1224.1 L1536.5 1226.9 L1538.0 1238.7 L1539.5 1235.6 L1541.0 1234.9 L1542.5 1251.5 L1544.0 1233.7 L1545.5 1236.6 L1547.0 1254.1 L1548.5 1235.1 L1550.0 1233.3 L1551.5 1262.6 L1553.0 1256.5 L1554.5 1261.3 L1556.0 1263.7 L1557.5 1267.7 L1559.0 1256.6 L1560.5 1260.5 L1562.0 1251.7 L1563.5 1263.1 L1565.0 1264.2 L1566.5 1258.3 L1568.0 1268.5 L1569.5 1288.9 L1571.0 1252.7 L1572.5 1270.4 L1574.0 1271.6 L1575.5 1272.8 L1577.0 1256.4 L1578.5 1274.3 L1580.0 1269.7 L1581.5 1262.9 L1583.0 1261.2 L1584.5 1266.6 L1586.0 1272.9 L1587.5 1272.6 L1589.0 1285.2 L1590.5 1262.0 L1592.0 1270.7 L1593.5 1261.6 L1595.0 1272.5 L1596.5 1266.8 L1598.0 1260.6 L1599.5 1254.3 L1601.0 1259.4 L1602.5 1268.4 L1604.0 1279.5 L1605.5 1273.6 L1607.0 1256.4 L1608.5 1262.9 L1610.0 1267.8 L1611.5 1266.7 L1613.0 1268.8 L1614.5 1275.7 L1616.0 1271.4 L1617.5 1264.3 L1619.0 1254.3 L1620.5 1269.1 L1622.0 1258.4 L1623.5 1272.6 L1625.0 1277.7 L1626.5 1264.3 L1628.0 1275.6 L1629.5 1274.7 L1631.0 1294.9 L1632.5 1283.4 L1634.0 1264.3 L1635.5 1285.5 L1637.0 1286.4 L1638.5 1282.3 L1640.0 1282.1 L1641.5 1291.5 L1643.0 1293.2 L1644.5 1292.2 L1646.0 1281.0 L1647.5 1288.1 L1649.0 1277.7 L1650.5 1278.6 L1652.0 1286.8 L1653.5 1282.6 L1655.0 1287.4 L1656.5 1310.7 L1658.0 1292.4 L1659.5 1278.9 L1661.0 1266.2 L1662.5 1275.7 L1664.0 1269.0 L1665.5 1261.3 L1667.0 1285.8 L1668.5 1275.4 L1670.0 1283.7 L1671.5 1307.2 L1673.0 1283.9 L1674.5 1283.7 L1676.0 1286.9 L1677.5 1283.0 L1679.0 1279.7 L1680.5 1286.4 L1682.0 1299.3 L1683.5 1288.7 L1685.0 1280.7 L1686.5 1282.8 L1688.0 1285.5 L1689.5 1295.0 L1691.0 1299.7 L1692.5 1300.5 L1694.0 1307.3 L1695.5 1296.4 L1697.0 1305.9 L1698.5 1302.4 L1700.0 1306.3 L1701.5 1285.8 L1703.0 1312.1 L1704.5 1289.4 L1706.0 1293.4 L1707.5 1309.5 L1709.0 1300.1 L1710.5 1318.2 L1712.0 1304.9 L1713.5 1295.0 L1715.0 1304.6 L1716.5 1299.7 L1718.0 1315.6 L1719.5 1315.9 L1721.0 1308.1 L1722.5 1298.3 L1724.0 1302.0 L1725.5 1309.8 L1727.0 1294.2 L1728.5 1294.2 L1730.0 1308.1 L1731.5 1308.0 L1733.0 1301.2 L1734.5 1302.4 L1736.0 1290.3 L1737.5 1318.0 L1739.0 1309.1 L1740.5 1300.2 L1742.0 1304.2 L1743.5 1307.3 L1745.0 1329.1 L1746.5 1321.1 L1748.0 1304.5 L1749.5 1330.3 L1751.0 1325.9 L1752.5 1306.2 L1754.0 1292.9 L1755.5 1322.0 L1757.0 1309.0 L1758.5 1312.5 L1760.0 1309.0 L1761.5 1323.3 L1763.0 1324.9 L1764.5 1319.3 L1766.0 1311.4 L1767.5 1314.8 L1769.0 1318.2 L1770.5 1301.0 L1772.0 1325.0 L1773.5 1313.6 L1775.0 1319.7 L1776.5 1320.3 L1778.0 1328.2 L1779.5 1331.2 L1781.0 1342.0 L1782.5 1323.2 L1784.0 1320.4 L1785.5 1330.1 L1787.0 1325.0 L1788.5 1338.1 L1790.0 1326.0 L1791.5 1334.5 L1793.0 1341.9 L1794.5 1343.5 L1796.0 1338.2 L1797.5 1348.6 L1799.0 1348.5 L1800.5 1326.3 L1802.0 1343.2 L1803.5 1342.7 L1805.0 1339.9 L1806.5 1338.1 L1808.0 1344.1 L1809.5 1347.5 L1811.0 1347.3 L1812.5 1356.4 L1814.0 1354.2 L1815.5 1342.7 L1817.0 1342.1 L1818.5 1354.9 L1820.0 1343.7 L1821.5 1350.9 L1823.0 1353.8 L1824.5 1358.5 L1826.0 1355.2 L1827.5 1362.7 L1829.0 1348.8 L1830.5 1357.8 L1832.0 1348.2 L1833.5 1355.1 L1835.0 1355.0 L1836.5 1347.5 L1838.0 1335.3 L1839.5 1362.4 L1841.0 1358.3 L1842.5 1357.0 L1844.0 1351.1 L1845.5 1354.2 L1847.0 1360.4 L1848.5 1357.5 L1850.0 1366.3 L1851.5 1358.9 L1853.0 1352.3 L1854.5 1363.4 L1856.0 1354.5 L1857.5 1361.3 L1859.0 1346.7 L1860.5 1358.1 L1862.0 1365.4 L1863.5 1357.0 L1865.0 1362.2 L1866.5 1367.3 L1868.0 1364.1 L1869.5 1377.4 L1871.0 1362.9 L1872.5 1364.1 L1874.0 1364.8 L1875.5 1352.1 L1877.0 1355.9 L1878.5 1371.5 L1880.0 1365.7 L1881.5 1378.7 L1883.0 1368.4 L1884.5 1368.1 L1886.0 1377.2 L1887.5 1372.0 L1889.0 1382.0 L1890.5 1363.0 L1892.0 1374.2 L1893.5 1376.3 L1895.0 1375.8 L1896.5 1380.4 L1898.0 1379.9 L1899.5 1373.1 L1901.0 1369.3 L1902.5 1380.8 L1904.0 1374.6 L1905.5 1381.7 L1907.0 1385.3 L1908.5 1377.8 L1910.0 1370.7 L1911.5 1376.1 L1913.0 1384.4 L1914.5 1377.9 L1916.0 1388.7 L1917.5 1381.3 L1919.0 1382.5 L1920.5 1377.5 L1922.0 1381.5 L1923.5 1390.0 L1925.0 1378.8 L1926.5 1377.9 L1928.0 1374.8 L1929.5 1386.2 L1931.0 1370.4 L1932.5 1377.4 L1934.0 1389.3 L1935.5 1393.9 L1937.0 1383.3 L1938.5 1392.6 L1940.0 1372.9 L1941.5 1392.9 L1943.0 1390.4 L1944.5 1380.3 L1946.0 1376.7 L1947.5 1385.5 L1949.0 1390.6 L1950.5 1391.3 L1952.0 1389.6 L1953.5 1394.5 L1955.0 1394.5 L1956.5 1380.6 L1958.0 1388.1 L1959.5 1388.0 L1961.0 1399.3 L1962.5 1389.6 L1964.0 1400.6 L1965.5 1395.0 L1967.0 1411.1 L1968.5 1395.3 L1970.0 1396.1 L1971.5 1395.7 L1973.0 1397.8 L1974.5 1413.7 L1976.0 1394.0 L1977.5 1391.7 L1979.0 1396.6 L1980.5 1402.8 L1982.0 1391.8 L1983.5 1404.1 L1985.0 1404.2 L1986.5 1398.1 L1988.0 1397.8 L1989.5 1394.5 L1991.0 1398.3 L1992.5 1395.0 L1994.0 1409.2 L1995.5 1412.2 L1997.0 1399.7 L1998.5 1401.8 L2000.0 1389.7 L2001.5 1399.4 L2003.0 1405.7 L2004.5 1405.8 L2006.0 1405.3 L2007.5 1410.6 L2009.0 1406.0 L2010.5 1403.3 L2012.0 1417.0 L2013.5 1394.0 L2015.0 1399.5 L2016.5 1402.6 L2018.0 1403.0 L2019.5 1403.1 L2021.0 1407.0 L2022.5 1404.1 L2024.0 1408.7 L2025.5 1413.3 L2027.0 1409.8 L2028.5 1410.8 L2030.0 1404.0 L2031.5 1403.0 L2033.0 1408.8 L2034.5 1417.1 L2036.0 1413.8 L2037.5 1418.7 L2039.0 1418.4 L2040.5 1419.5 L2042.0 1407.2 L2043.5 1420.9 L2045.0 1418.1 L2046.5 1426.9 L2048.0 1417.6 L2049.5 1416.2 L2051.0 1413.6 L2052.5 1415.8 L2054.0 1404.4 L2055.5 1413.8 L2057.0 1415.4 L2058.5 1422.4 L2060.0 1412.0 L2061.5 1417.3 L2063.0 1428.4 L2064.5 1413.5 L2066.0 1422.4 L2067.5 1413.8 L2069.0 1416.7 L2070.5 1420.4 L2072.0 1423.2 L2073.5 1414.5 L2075.0 1411.2 L2076.5 1427.6 L2078.0 1419.2 L2079.5 1423.2 L2081.0 1424.1 L2082.5 1423.3 L2084.0 1417.0 L2085.5 1418.0 L2087.0 1409.3 L2088.5 1420.7 L2090.0 1417.2 L2091.5 1420.7 L2093.0 1433.5 L2094.5 1426.9 L2096.0 1423.9 L2097.5 1416.0 L2099.0 1430.1 L2100.5 1436.0 L2102.0 1422.3 L2103.5 1430.9 L2105.0 1425.9 L2106.5 1428.8 L2108.0 1428.0 L2109.5 1420.8 L2111.0 1427.7 L2112.5 1421.2 L2114.0 1439.7 L2115.5 1437.8 L2117.0 1431.8 L2118.5 1433.4 L2120.0 1432.2 L2121.5 1433.1 L2123.0 1433.2 L2124.5 1430.7 L2126.0 1431.3 L2127.5 1424.2 L2129.0 1426.5 L2130.5 1429.0 L2132.0 1434.1 L2133.5 1430.8 L2135.0 1444.8 L2136.5 1432.4 L2138.0 1431.6 L2139.5 1436.7 L2141.0 1440.6 L2142.5 1445.8 L2144.0 1440.9 L2145.5 1431.8 L2147.0 1434.7 L2148.5 1442.3 L2150.0 1437.9 L2151.5 1441.5 L2153.0 1436.6 L2154.5 1446.9 L2156.0 1446.3 L2157.5 1444.6 L2159.0 1439.2 L2160.5 1429.0 L2162.0 1430.8 L2163.5 1441.0 L2165.0 1443.3 L2166.5 1422.5 L2168.0 1437.2 L2169.5 1447.0 L2171.0 1446.2 L2172.5 1437.9 L2174.0 1444.9 L2175.5 1441.7 L2177.0 1440.5 L2178.5 1448.7 L2180.0 1449.2 L2181.5 1439.9 L2183.0 1437.9 L2184.5 1436.4 L2186.0 1436.3 L2187.5 1452.9 L2189.0 1456.6 L2190.5 1447.6 L2192.0 1453.0 L2193.5 1443.6 L2195.0 1447.6 L2196.5 1453.7 L2198.0 1450.7 L2199.5 1448.9 L2201.0 1439.9 L2202.5 1441.1 L2204.0 1447.1 L2205.5 1446.3 L2207.0 1449.0 L2208.5 1445.8 L2210.0 1448.2 L2211.5 1449.8 L2213.0 1452.4 L2214.5 1449.8 L2216.0 1446.3 L2217.5 1447.8 L2219.0 1454.6 L2220.5 1448.3 L2222.0 1443.9 L2223.5 1443.7 L2225.0 1451.0 L2226.5 1452.6 L2228.0 1456.4 L2229.5 1447.7 L2231.0 1457.6 L2232.5 1448.0 L2234.0 1448.9 L2235.5 1447.3 L2237.0 1453.8 L2238.5 1457.1 L2240.0 1451.4 L2241.5 1449.1 L2243.0 1443.7 L2244.5 1453.6 L2246.0 1451.2 L2247.5 1452.4 L2249.0 1450.4 L2250.5 1449.4 L2252.0 1452.3 L2253.5 1457.6 L2255.0 1460.9 L2256.5 1456.0 L2258.0 1458.1" fill="none" stroke="#ff00ff" stroke-width="5.4" stroke-linejoin="round" stroke-linecap="round" shape-rendering="crispEdges"/>
<path d="M365.0 1510.3 L366.5 1513.2 L368.0 1496.6 L369.5 1506.1 L371.0 1510.7 L372.5 1512.2 L374.0 1509.6 L375.5 1512.9 L377.0 1508.4 L378.5 1509.5 L380.0 1508.1 L381.5 1503.4 L383.0 1504.3 L384.5 1509.0 L386.0 1505.4 L387.5 1512.5 L389.0 1512.6 L390.5 1514.6 L392.0 1507.6 L393.5 1513.0 L395.0 1504.2 L396.5 1504.6 L398.0 1508.0 L399.5 1508.8 L401.0 1501.5 L402.5 1500.9 L404.0 1508.8 L405.5 1504.0 L407.0 1511.7 L408.5 1508.4 L410.0 1507.9 L411.5 1507.2 L413.0 1509.6 L414.5 1505.3 L416.0 1509.8 L417.5 1503.3 L419.0 1504.1 L420.5 1502.0 L422.0 1506.7 L423.5 1504.2 L425.0 1500.4 L426.5 1511.4 L428.0 1501.8 L429.5 1502.4 L431.0 1504.1 L432.5 1509.2 L434.0 1501.3 L435.5 1504.3 L437.0 1501.5 L438.5 1494.9 L440.0 1503.5 L441.5 1504.0 L443.0 1498.6 L444.5 1499.0 L446.0 1492.7 L447.5 1492.1 L449.0 1496.3 L450.5 1500.0 L452.0 1495.2 L453.5 1497.9 L455.0 1500.3 L456.5 1496.4 L458.0 1498.1 L459.5 1501.3 L461.0 1490.0 L462.5 1497.8 L464.0 1486.7 L465.5 1495.9 L467.0 1494.7 L468.5 1491.3 L470.0 1488.8 L471.5 1492.7 L473.0 1491.0 L474.5 1492.8 L476.0 1488.3 L477.5 1494.1 L479.0 1487.2 L480.5 1490.0 L482.0 1489.3 L483.5 1496.0 L485.0 1484.1 L486.5 1488.3 L488.0 1494.7 L489.5 1486.7 L491.0 1483.9 L492.5 1490.0 L494.0 1487.3 L495.5 1491.8 L497.0 1484.0 L498.5 1488.5 L500.0 1490.2 L501.5 1491.5 L503.0 1482.0 L504.5 1492.5 L506.0 1482.3 L507.5 1479.4 L509.0 1481.4 L510.5 1485.9 L512.0 1483.6 L513.5 1486.5 L515.0 1486.5 L516.5 1485.4 L518.0 1482.6 L519.5 1491.3 L521.0 1473.5 L522.5 1475.3 L524.0 1480.3 L525.5 1476.8 L527.0 1470.8 L528.5 1478.2 L530.0 1478.1 L531.5 1470.3 L533.0 1484.5 L534.5 1486.1 L536.0 1485.6 L537.5 1477.6 L539.0 1480.2 L540.5 1474.3 L542.0 1479.9 L543.5 1475.7 L545.0 1480.2 L546.5 1476.5 L548.0 1482.3 L549.5 1481.1 L551.0 1482.7 L552.5 1469.7 L554.0 1468.5 L555.5 1478.1 L557.0 1473.4 L558.5 1477.5 L560.0 1476.8 L561.5 1475.9 L563.0 1479.0 L564.5 1477.0 L566.0 1476.4 L567.5 1469.9 L569.0 1481.4 L570.5 1473.9 L572.0 1478.0 L573.5 1474.1 L575.0 1478.1 L576.5 1472.6 L578.0 1472.6 L579.5 1471.8 L581.0 1467.6 L582.5 1467.8 L584.0 1469.4 L585.5 1469.1 L587.0 1464.7 L588.5 1479.7 L590.0 1463.9 L591.5 1466.7 L593.0 1479.0 L594.5 1464.2 L596.0 1470.5 L597.5 1469.6 L599.0 1465.2 L600.5 1459.2 L602.0 1458.2 L603.5 1465.1 L605.0 1466.8 L606.5 1454.3 L608.0 1464.7 L609.5 1460.5 L611.0 1467.4 L612.5 1463.6 L614.0 1458.6 L615.5 1460.0 L617.0 1461.9 L618.5 1467.7 L620.0 1475.5 L621.5 1462.4 L623.0 1461.0 L624.5 1463.6 L626.0 1460.2 L627.5 1463.2 L629.0 1461.9 L630.5 1460.1 L632.0 1456.3 L633.5 1460.9 L635.0 1464.5 L636.5 1460.6 L638.0 1467.5 L639.5 1464.9 L641.0 1459.9 L642.5 1468.9 L644.0 1455.4 L645.5 1466.4 L647.0 1469.8 L648.5 1459.9 L650.0 1460.7 L651.5 1465.7 L653.0 1468.2 L654.5 1463.6 L656.0 1462.7 L657.5 1466.0 L659.0 1462.9 L660.5 1455.9 L662.0 1460.8 L663.5 1461.5 L665.0 1454.4 L666.5 1463.3 L668.0 1457.7 L669.5 1464.5 L671.0 1453.7 L672.5 1456.2 L674.0 1453.4 L675.5 1466.2 L677.0 1465.9 L678.5 1466.5 L680.0 1466.2 L681.5 1463.2 L683.0 1462.9 L684.5 1450.1 L686.0 1459.6 L687.5 1455.3 L689.0 1455.8 L690.5 1451.2 L692.0 1463.1 L693.5 1457.2 L695.0 1448.9 L696.5 1458.2 L698.0 1455.0 L699.5 1449.8 L701.0 1453.0 L702.5 1450.2 L704.0 1442.3 L705.5 1445.6 L707.0 1455.1 L708.5 1453.8 L710.0 1453.0 L711.5 1445.5 L713.0 1447.9 L714.5 1450.7 L716.0 1453.5 L717.5 1445.5 L719.0 1444.1 L720.5 1454.7 L722.0 1449.1 L723.5 1446.5 L725.0 1444.5 L726.5 1444.6 L728.0 1455.4 L729.5 1452.1 L731.0 1444.9 L732.5 1440.5 L734.0 1454.8 L735.5 1454.0 L737.0 1451.9 L738.5 1449.8 L740.0 1435.8 L741.5 1438.5 L743.0 1447.5 L744.5 1442.9 L746.0 1445.3 L747.5 1441.0 L749.0 1440.0 L750.5 1445.7 L752.0 1440.5 L753.5 1442.1 L755.0 1443.0 L756.5 1442.5 L758.0 1446.8 L759.5 1447.4 L761.0 1433.0 L762.5 1438.2 L764.0 1435.8 L765.5 1442.5 L767.0 1432.7 L768.5 1441.6 L770.0 1440.8 L771.5 1439.7 L773.0 1431.2 L774.5 1434.6 L776.0 1429.6 L777.5 1436.7 L779.0 1439.1 L780.5 1425.7 L782.0 1428.7 L783.5 1431.6 L785.0 1429.1 L786.5 1439.1 L788.0 1429.9 L789.5 1431.4 L791.0 1423.6 L792.5 1436.9 L794.0 1429.0 L795.5 1431.6 L797.0 1427.4 L798.5 1415.0 L800.0 1417.2 L801.5 1418.2 L803.0 1426.9 L804.5 1421.1 L806.0 1425.5 L807.5 1424.2 L809.0 1423.4 L810.5 1426.4 L812.0 1421.8 L813.5 1411.3 L815.0 1415.9 L816.5 1428.0 L818.0 1412.6 L819.5 1425.2 L821.0 1426.2 L822.5 1413.4 L824.0 1417.9 L825.5 1407.7 L827.0 1419.1 L828.5 1409.9 L830.0 1406.4 L831.5 1410.9 L833.0 1409.9 L834.5 1408.6 L836.0 1412.3 L837.5 1409.7 L839.0 1406.4 L840.5 1414.9 L842.0 1422.6 L843.5 1408.9 L845.0 1404.1 L846.5 1402.0 L848.0 1410.3 L849.5 1405.1 L851.0 1406.1 L852.5 1394.2 L854.0 1398.5 L855.5 1397.7 L857.0 1408.9 L858.5 1401.4 L860.0 1388.1 L861.5 1404.2 L863.0 1407.1 L864.5 1407.2 L866.0 1382.5 L867.5 1397.8 L869.0 1399.8 L870.5 1396.7 L872.0 1389.7 L873.5 1378.6 L875.0 1384.9 L876.5 1384.1 L878.0 1388.4 L879.5 1388.2 L881.0 1383.1 L882.5 1390.0 L884.0 1379.5 L885.5 1382.8 L887.0 1388.0 L888.5 1393.0 L890.0 1389.4 L891.5 1400.1 L893.0 1397.0 L894.5 1390.8 L896.0 1398.3 L897.5 1394.1 L899.0 1394.8 L900.5 1393.1 L902.0 1409.7 L903.5 1407.0 L905.0 1392.7 L906.5 1407.9 L908.0 1406.8 L909.5 1398.9 L911.0 1403.4 L912.5 1412.8 L914.0 1401.1 L915.5 1401.3 L917.0 1404.8 L918.5 1391.8 L920.0 1389.9 L921.5 1388.6 L923.0 1395.8 L924.5 1400.9 L926.0 1390.4 L927.5 1387.0 L929.0 1395.7 L930.5 1391.9 L932.0 1397.1 L933.5 1392.4 L935.0 1391.6 L936.5 1391.7 L938.0 1392.0 L939.5 1385.8 L941.0 1384.6 L942.5 1400.1 L944.0 1408.7 L945.5 1397.1 L947.0 1381.0 L948.5 1390.8 L950.0 1397.7 L951.5 1381.6 L953.0 1388.7 L954.5 1389.6 L956.0 1387.2 L957.5 1388.3 L959.0 1399.6 L960.5 1391.7 L962.0 1393.5 L963.5 1405.3 L965.0 1390.9 L966.5 1385.1 L968.0 1400.2 L969.5 1408.4 L971.0 1398.2 L972.5 1399.0 L974.0 1390.1 L975.5 1392.4 L977.0 1406.5 L978.5 1405.5 L980.0 1401.8 L981.5 1395.0 L983.0 1392.0 L984.5 1392.9 L986.0 1392.3 L987.5 1402.6 L989.0 1394.6 L990.5 1396.3 L992.0 1403.1 L993.5 1402.8 L995.0 1399.0 L996.5 1401.2 L998.0 1398.1 L999.5 1386.5 L1001.0 1396.7 L1002.5 1394.2 L1004.0 1394.1 L1005.5 1397.0 L1007.0 1391.8 L1008.5 1401.6 L1010.0 1392.9 L1011.5 1394.3 L1013.0 1394.7 L1014.5 1391.3 L1016.0 1395.6 L1017.5 1395.8 L1019.0 1394.7 L1020.5 1386.6 L1022.0 1385.2 L1023.5 1386.7 L1025.0 1390.2 L1026.5 1379.3 L1028.0 1385.7 L1029.5 1384.8 L1031.0 1388.8 L1032.5 1388.8 L1034.0 1400.4 L1035.5 1399.9 L1037.0 1404.5 L1038.5 1395.1 L1040.0 1397.8 L1041.5 1401.9 L1043.0 1414.0 L1044.5 1415.0 L1046.0 1402.9 L1047.5 1410.7 L1049.0 1420.1 L1050.5 1403.1 L1052.0 1408.5 L1053.5 1417.6 L1055.0 1415.1 L1056.5 1406.2 L1058.0 1420.8 L1059.5 1418.5 L1061.0 1417.4 L1062.5 1407.4 L1064.0 1413.8 L1065.5 1422.5 L1067.0 1418.4 L1068.5 1420.6 L1070.0 1415.1 L1071.5 1425.3 L1073.0 1416.1 L1074.5 1422.8 L1076.0 1419.8 L1077.5 1413.1 L1079.0 1426.8 L1080.5 1412.1 L1082.0 1415.3 L1083.5 1420.3 L1085.0 1412.2 L1086.5 1410.3 L1088.0 1419.7 L1089.5 1418.3 L1091.0 1419.4 L1092.5 1423.8 L1094.0 1433.6 L1095.5 1419.4 L1097.0 1435.1 L1098.5 1423.5 L1100.0 1422.0 L1101.5 1408.3 L1103.0 1414.9 L1104.5 1424.8 L1106.0 1426.6 L1107.5 1419.5 L1109.0 1425.8 L1110.5 1429.3 L1112.0 1421.8 L1113.5 1416.4 L1115.0 1420.2 L1116.5 1424.1 L1118.0 1427.5 L1119.5 1430.4 L1121.0 1421.6 L1122.5 1427.1 L1124.0 1425.8 L1125.5 1427.6 L1127.0 1433.6 L1128.5 1434.9 L1130.0 1425.8 L1131.5 1425.4 L1133.0 1425.2 L1134.5 1426.4 L1136.0 1427.2 L1137.5 1428.8 L1139.0 1427.3 L1140.5 1424.5 L1142.0 1424.3 L1143.5 1431.0 L1145.0 1443.8 L1146.5 1434.2 L1148.0 1435.0 L1149.5 1433.7 L1151.0 1431.4 L1152.5 1443.0 L1154.0 1431.4 L1155.5 1428.3 L1157.0 1427.4 L1158.5 1435.4 L1160.0 1429.9 L1161.5 1431.3 L1163.0 1432.2 L1164.5 1430.9 L1166.0 1439.5 L1167.5 1431.2 L1169.0 1452.4 L1170.5 1428.0 L1172.0 1436.0 L1173.5 1444.5 L1175.0 1447.4 L1176.5 1444.7 L1178.0 1448.8 L1179.5 1449.2 L1181.0 1449.9 L1182.5 1452.9 L1184.0 1451.9 L1185.5 1450.8 L1187.0 1451.0 L1188.5 1456.5 L1190.0 1451.7 L1191.5 1455.8 L1193.0 1461.1 L1194.5 1455.6 L1196.0 1460.0 L1197.5 1452.3 L1199.0 1456.1 L1200.5 1457.5 L1202.0 1456.4 L1203.5 1457.9 L1205.0 1462.7 L1206.5 1454.6 L1208.0 1453.1 L1209.5 1458.1 L1211.0 1449.7 L1212.5 1456.9 L1214.0 1462.8 L1215.5 1457.2 L1217.0 1460.1 L1218.5 1459.4 L1220.0 1463.5 L1221.5 1460.2 L1223.0 1458.9 L1224.5 1442.1 L1226.0 1455.6 L1227.5 1461.6 L1229.0 1457.6 L1230.5 1454.7 L1232.0 1462.7 L1233.5 1454.2 L1235.0 1456.9 L1236.5 1461.8 L1238.0 1456.2 L1239.5 1459.5 L1241.0 1458.7 L1242.5 1453.1 L1244.0 1456.5 L1245.5 1457.3 L1247.0 1456.1 L1248.5 1464.6 L1250.0 1459.4 L1251.5 1456.6 L1253.0 1453.3 L1254.5 1458.7 L1256.0 1466.9 L1257.5 1459.8 L1259.0 1465.5 L1260.5 1464.9 L1262.0 1461.1 L1263.5 1460.0 L1265.0 1467.8 L1266.5 1458.2 L1268.0 1469.4 L1269.5 1462.0 L1271.0 1472.0 L1272.5 1466.6 L1274.0 1468.3 L1275.5 1473.8 L1277.0 1464.6 L1278.5 1469.6 L1280.0 1468.1 L1281.5 1472.0 L1283.0 1473.1 L1284.5 1471.3 L1286.0 1471.0 L1287.5 1468.3 L1289.0 1473.1 L1290.5 1469.4 L1292.0 1471.1 L1293.5 1471.5 L1295.0 1464.6 L1296.5 1465.8 L1298.0 1472.1 L1299.5 1471.2 L1301.0 1477.1 L1302.5 1460.6 L1304.0 1472.8 L1305.5 1477.0 L1307.0 1472.8 L1308.5 1476.2 L1310.0 1473.1 L1311.5 1473.1 L1313.0 1477.7 L1314.5 1468.2 L1316.0 1464.3 L1317.5 1476.8 L1319.0 1475.6 L1320.5 1475.9 L1322.0 1477.0 L1323.5 1478.8 L1325.0 1474.3 L1326.5 1478.8 L1328.0 1478.3 L1329.5 1472.1 L1331.0 1476.7 L1332.5 1478.8 L1334.0 1474.3 L1335.5 1482.6 L1337.0 1476.8 L1338.5 1481.9 L1340.0 1484.9 L1341.5 1472.2 L1343.0 1473.0 L1344.5 1481.5 L1346.0 1478.3 L1347.5 1481.5 L1349.0 1487.0 L1350.5 1477.4 L1352.0 1483.4 L1353.5 1478.7 L1355.0 1477.1 L1356.5 1482.1 L1358.0 1481.3 L1359.5 1485.1 L1361.0 1481.9 L1362.5 1484.5 L1364.0 1483.1 L1365.5 1473.5 L1367.0 1479.6 L1368.5 1479.9 L1370.0 1485.3 L1371.5 1477.0 L1373.0 1482.6 L1374.5 1480.1 L1376.0 1474.2 L1377.5 1481.5 L1379.0 1485.1 L1380.5 1480.9 L1382.0 1486.7 L1383.5 1484.5 L1385.0 1484.3 L1386.5 1480.9 L1388.0 1482.6 L1389.5 1485.4 L1391.0 1483.7 L1392.5 1478.4 L1394.0 1483.2 L1395.5 1485.8 L1397.0 1489.1 L1398.5 1488.1 L1400.0 1480.5 L1401.5 1487.9 L1403.0 1478.2 L1404.5 1482.5 L1406.0 1482.0 L1407.5 1492.1 L1409.0 1488.7 L1410.5 1487.2 L1412.0 1483.4 L1413.5 1491.5 L1415.0 1485.2 L1416.5 1488.3 L1418.0 1491.1 L1419.5 1482.9 L1421.0 1485.2 L1422.5 1474.1 L1424.0 1485.0 L1425.5 1475.0 L1427.0 1484.0 L1428.5 1483.4 L1430.0 1484.1 L1431.5 1492.0 L1433.0 1471.0 L1434.5 1483.8 L1436.0 1480.0 L1437.5 1485.0 L1439.0 1483.0 L1440.5 1482.1 L1442.0 1479.4 L1443.5 1478.5 L1445.0 1483.1 L1446.5 1475.0 L1448.0 1486.3 L1449.5 1479.1 L1451.0 1483.6 L1452.5 1476.5 L1454.0 1483.7 L1455.5 1480.8 L1457.0 1485.2 L1458.5 1487.3 L1460.0 1479.7 L1461.5 1482.6 L1463.0 1483.3 L1464.5 1488.7 L1466.0 1476.9 L1467.5 1485.2 L1469.0 1482.6 L1470.5 1477.6 L1472.0 1481.5 L1473.5 1480.1 L1475.0 1487.8 L1476.5 1479.0 L1478.0 1487.5 L1479.5 1481.1 L1481.0 1486.0 L1482.5 1475.7 L1484.0 1479.8 L1485.5 1483.8 L1487.0 1479.1 L1488.5 1476.4 L1490.0 1483.2 L1491.5 1486.5 L1493.0 1483.1 L1494.5 1482.2 L1496.0 1484.9 L1497.5 1481.3 L1499.0 1487.1 L1500.5 1487.9 L1502.0 1477.6 L1503.5 1487.6 L1505.0 1486.1 L1506.5 1484.4 L1508.0 1486.1 L1509.5 1489.3 L1511.0 1491.5 L1512.5 1490.2 L1514.0 1482.1 L1515.5 1489.0 L1517.0 1475.9 L1518.5 1487.1 L1520.0 1486.2 L1521.5 1487.4 L1523.0 1479.3 L1524.5 1489.4 L1526.0 1488.7 L1527.5 1484.1 L1529.0 1477.0 L1530.5 1484.6 L1532.0 1479.5 L1533.5 1476.4 L1535.0 1480.1 L1536.5 1493.4 L1538.0 1476.8 L1539.5 1481.7 L1541.0 1484.1 L1542.5 1487.5 L1544.0 1479.2 L1545.5 1479.4 L1547.0 1487.7 L1548.5 1485.2 L1550.0 1489.6 L1551.5 1479.5 L1553.0 1484.3 L1554.5 1489.0 L1556.0 1485.9 L1557.5 1480.8 L1559.0 1486.5 L1560.5 1478.2 L1562.0 1483.3 L1563.5 1490.1 L1565.0 1490.9 L1566.5 1489.2 L1568.0 1490.7 L1569.5 1481.8 L1571.0 1485.9 L1572.5 1493.5 L1574.0 1499.2 L1575.5 1492.0 L1577.0 1486.8 L1578.5 1487.2 L1580.0 1496.7 L1581.5 1496.8 L1583.0 1487.8 L1584.5 1493.9 L1586.0 1499.5 L1587.5 1500.1 L1589.0 1492.6 L1590.5 1494.4 L1592.0 1497.4 L1593.5 1491.3 L1595.0 1489.4 L1596.5 1493.5 L1598.0 1501.4 L1599.5 1501.0 L1601.0 1498.7 L1602.5 1492.2 L1604.0 1489.1 L1605.5 1492.9 L1607.0 1497.4 L1608.5 1501.5 L1610.0 1493.9 L1611.5 1497.8 L1613.0 1490.4 L1614.5 1489.2 L1616.0 1497.8 L1617.5 1493.2 L1619.0 1493.9 L1620.5 1489.1 L1622.0 1501.6 L1623.5 1491.3 L1625.0 1498.8 L1626.5 1492.9 L1628.0 1497.6 L1629.5 1504.7 L1631.0 1500.6 L1632.5 1500.4 L1634.0 1503.7 L1635.5 1502.6 L1637.0 1506.3 L1638.5 1495.4 L1640.0 1506.9 L1641.5 1502.1 L1643.0 1498.1 L1644.5 1504.9 L1646.0 1505.0 L1647.5 1503.2 L1649.0 1506.9 L1650.5 1498.7 L1652.0 1497.7 L1653.5 1502.2 L1655.0 1509.0 L1656.5 1507.2 L1658.0 1505.5 L1659.5 1503.4 L1661.0 1506.1 L1662.5 1511.0 L1664.0 1504.7 L1665.5 1504.9 L1667.0 1509.2 L1668.5 1510.4 L1670.0 1508.7 L1671.5 1514.0 L1673.0 1509.6 L1674.5 1505.5 L1676.0 1501.1 L1677.5 1514.2 L1679.0 1509.4 L1680.5 1511.5 L1682.0 1512.2 L1683.5 1515.8 L1685.0 1514.8 L1686.5 1514.8 L1688.0 1512.4 L1689.5 1510.6 L1691.0 1512.7 L1692.5 1508.8 L1694.0 1513.4 L1695.5 1516.1 L1697.0 1515.0 L1698.5 1513.0 L1700.0 1509.3 L1701.5 1509.4 L1703.0 1510.1 L1704.5 1511.5 L1706.0 1514.7 L1707.5 1515.1 L1709.0 1515.5 L1710.5 1517.3 L1712.0 1510.1 L1713.5 1513.0 L1715.0 1516.0 L1716.5 1517.1 L1718.0 1511.9 L1719.5 1512.0 L1721.0 1519.0 L1722.5 1517.5 L1724.0 1516.8 L1725.5 1514.3 L1727.0 1512.1 L1728.5 1515.6 L1730.0 1517.0 L1731.5 1517.9 L1733.0 1519.3 L1734.5 1516.7 L1736.0 1520.9 L1737.5 1515.2 L1739.0 1517.7 L1740.5 1516.7 L1742.0 1509.9 L1743.5 1511.4 L1745.0 1513.8 L1746.5 1515.8 L1748.0 1515.9 L1749.5 1518.7 L1751.0 1513.2 L1752.5 1511.3 L1754.0 1513.0 L1755.5 1506.5 L1757.0 1509.6 L1758.5 1505.8 L1760.0 1509.3 L1761.5 1505.9 L1763.0 1506.5 L1764.5 1515.1 L1766.0 1511.9 L1767.5 1517.2 L1769.0 1508.8 L1770.5 1507.9 L1772.0 1506.3 L1773.5 1510.1 L1775.0 1504.6 L1776.5 1512.5 L1778.0 1511.1 L1779.5 1509.3 L1781.0 1508.5 L1782.5 1512.5 L1784.0 1514.9 L1785.5 1516.6 L1787.0 1511.3 L1788.5 1517.4 L1790.0 1519.1 L1791.5 1526.3 L1793.0 1520.0 L1794.5 1522.3 L1796.0 1516.8 L1797.5 1519.7 L1799.0 1517.4 L1800.5 1517.3 L1802.0 1522.3 L1803.5 1520.0 L1805.0 1526.1 L1806.5 1521.2 L1808.0 1523.0 L1809.5 1517.5 L1811.0 1518.4 L1812.5 1524.5 L1814.0 1519.9 L1815.5 1527.0 L1817.0 1519.9 L1818.5 1519.8 L1820.0 1529.7 L1821.5 1517.3 L1823.0 1521.6 L1824.5 1525.3 L1826.0 1525.7 L1827.5 1519.9 L1829.0 1531.4 L1830.5 1522.5 L1832.0 1517.6 L1833.5 1527.5 L1835.0 1522.8 L1836.5 1524.8 L1838.0 1527.4 L1839.5 1521.8 L1841.0 1522.6 L1842.5 1524.8 L1844.0 1528.2 L1845.5 1521.0 L1847.0 1530.5 L1848.5 1527.0 L1850.0 1522.0 L1851.5 1526.2 L1853.0 1528.1 L1854.5 1530.5 L1856.0 1529.4 L1857.5 1530.4 L1859.0 1526.2 L1860.5 1529.3 L1862.0 1518.0 L1863.5 1530.6 L1865.0 1527.2 L1866.5 1532.9 L1868.0 1525.7 L1869.5 1526.2 L1871.0 1528.2 L1872.5 1531.0 L1874.0 1529.6 L1875.5 1532.3 L1877.0 1529.3 L1878.5 1533.0 L1880.0 1539.2 L1881.5 1534.4 L1883.0 1532.8 L1884.5 1526.3 L1886.0 1533.6 L1887.5 1535.5 L1889.0 1531.7 L1890.5 1536.1 L1892.0 1525.9 L1893.5 1531.1 L1895.0 1530.5 L1896.5 1535.4 L1898.0 1531.3 L1899.5 1530.9 L1901.0 1538.7 L1902.5 1529.3 L1904.0 1535.5 L1905.5 1537.4 L1907.0 1532.9 L1908.5 1530.8 L1910.0 1533.0 L1911.5 1531.7 L1913.0 1530.9 L1914.5 1534.1 L1916.0 1533.2 L1917.5 1543.3 L1919.0 1537.4 L1920.5 1533.7 L1922.0 1535.0 L1923.5 1538.6 L1925.0 1537.6 L1926.5 1535.2 L1928.0 1533.8 L1929.5 1542.5 L1931.0 1536.9 L1932.5 1537.6 L1934.0 1541.1 L1935.5 1537.4 L1937.0 1540.9 L1938.5 1535.9 L1940.0 1537.3 L1941.5 1536.1 L1943.0 1543.3 L1944.5 1532.1 L1946.0 1536.0 L1947.5 1533.8 L1949.0 1534.3 L1950.5 1532.7 L1952.0 1534.3 L1953.5 1540.8 L1955.0 1541.7 L1956.5 1535.2 L1958.0 1533.7 L1959.5 1536.2 L1961.0 1543.0 L1962.5 1537.8 L1964.0 1531.6 L1965.5 1541.1 L1967.0 1538.2 L1968.5 1540.6 L1970.0 1540.1 L1971.5 1534.9 L1973.0 1542.2 L1974.5 1541.2 L1976.0 1537.1 L1977.5 1532.2 L1979.0 1535.7 L1980.5 1535.9 L1982.0 1541.5 L1983.5 1537.7 L1985.0 1538.2 L1986.5 1539.7 L1988.0 1538.3 L1989.5 1540.9 L1991.0 1540.8 L1992.5 1542.8 L1994.0 1536.3 L1995.5 1541.2 L1997.0 1539.5 L1998.5 1546.9 L2000.0 1545.2 L2001.5 1539.7 L2003.0 1544.0 L2004.5 1536.0 L2006.0 1538.3 L2007.5 1540.9 L2009.0 1542.7 L2010.5 1538.7 L2012.0 1542.3 L2013.5 1546.0 L2015.0 1537.5 L2016.5 1538.3 L2018.0 1536.6 L2019.5 1545.7 L2021.0 1539.0 L2022.5 1540.9 L2024.0 1539.3 L2025.5 1541.6 L2027.0 1540.8 L2028.5 1542.2 L2030.0 1542.1 L2031.5 1546.3 L2033.0 1538.5 L2034.5 1541.8 L2036.0 1540.9 L2037.5 1538.4 L2039.0 1543.6 L2040.5 1546.6 L2042.0 1537.8 L2043.5 1548.7 L2045.0 1541.1 L2046.5 1541.5 L2048.0 1534.2 L2049.5 1542.6 L2051.0 1542.3 L2052.5 1542.3 L2054.0 1545.4 L2055.5 1543.2 L2057.0 1545.0 L2058.5 1542.3 L2060.0 1541.0 L2061.5 1544.8 L2063.0 1546.3 L2064.5 1546.6 L2066.0 1544.8 L2067.5 1542.3 L2069.0 1544.5 L2070.5 1543.5 L2072.0 1540.5 L2073.5 1545.0 L2075.0 1543.4 L2076.5 1540.6 L2078.0 1542.8 L2079.5 1545.4 L2081.0 1548.0 L2082.5 1538.1 L2084.0 1542.3 L2085.5 1545.0 L2087.0 1546.8 L2088.5 1544.5 L2090.0 1540.4 L2091.5 1541.9 L2093.0 1543.3 L2094.5 1541.0 L2096.0 1540.2 L2097.5 1539.6 L2099.0 1551.0 L2100.5 1543.5 L2102.0 1542.7 L2103.5 1545.5 L2105.0 1543.6 L2106.5 1543.0 L2108.0 1544.1 L2109.5 1541.2 L2111.0 1542.3 L2112.5 1546.2 L2114.0 1545.4 L2115.5 1540.4 L2117.0 1548.2 L2118.5 1542.7 L2120.0 1539.3 L2121.5 1546.2 L2123.0 1546.1 L2124.5 1545.3 L2126.0 1541.5 L2127.5 1548.0 L2129.0 1546.1 L2130.5 1545.7 L2132.0 1545.4 L2133.5 1545.8 L2135.0 1551.2 L2136.5 1543.2 L2138.0 1545.6 L2139.5 1548.1 L2141.0 1547.1 L2142.5 1542.5 L2144.0 1544.5 L2145.5 1543.7 L2147.0 1540.5 L2148.5 1544.2 L2150.0 1547.6 L2151.5 1545.6 L2153.0 1548.1 L2154.5 1546.1 L2156.0 1542.7 L2157.5 1546.4 L2159.0 1539.7 L2160.5 1548.5 L2162.0 1543.7 L2163.5 1549.6 L2165.0 1540.7 L2166.5 1541.9 L2168.0 1543.4 L2169.5 1543.9 L2171.0 1540.0 L2172.5 1541.0 L2174.0 1546.1 L2175.5 1542.3 L2177.0 1547.2 L2178.5 1549.5 L2180.0 1540.3 L2181.5 1543.6 L2183.0 1550.0 L2184.5 1548.2 L2186.0 1541.3 L2187.5 1546.6 L2189.0 1550.6 L2190.5 1539.9 L2192.0 1547.5 L2193.5 1549.8 L2195.0 1545.6 L2196.5 1545.5 L2198.0 1549.8 L2199.5 1543.3 L2201.0 1549.6 L2202.5 1551.7 L2204.0 1548.6 L2205.5 1544.0 L2207.0 1553.0 L2208.5 1548.6 L2210.0 1550.3 L2211.5 1546.4 L2213.0 1548.7 L2214.5 1552.1 L2216.0 1544.8 L2217.5 1545.4 L2219.0 1543.4 L2220.5 1550.5 L2222.0 1550.5 L2223.5 1546.9 L2225.0 1550.3 L2226.5 1549.4 L2228.0 1554.8 L2229.5 1546.0 L2231.0 1550.0 L2232.5 1548.1 L2234.0 1554.5 L2235.5 1550.6 L2237.0 1546.0 L2238.5 1550.6 L2240.0 1548.9 L2241.5 1546.6 L2243.0 1550.4 L2244.5 1549.7 L2246.0 1546.0 L2247.5 1548.0 L2249.0 1552.5 L2250.5 1552.2 L2252.0 1549.3 L2253.5 1549.1 L2255.0 1551.4 L2256.5 1550.9 L2258.0 1548.3" fill="none" stroke="#808000" stroke-width="3.5" stroke-linejoin="round" stroke-linecap="round" shape-rendering="crispEdges"/>
<g shape-rendering="crispEdges">
<rect x="1193" y="51" width="1068" height="592" fill="#fff"/>
<rect x="1193" y="51" width="3" height="592" fill="#000"/>
<rect x="1193" y="639" width="1068" height="4" fill="#000"/>
<rect x="2257" y="51" width="4" height="592" fill="#000"/>
<rect x="1193" y="51" width="1068" height="6" fill="#000"/>
</g>
<rect x="1302" y="152" width="167" height="5" fill="#000000" shape-rendering="crispEdges"/>
<text x="1487.5" y="179.9" font-size="73.6" font-family="'Liberation Sans', Arial, Helvetica, sans-serif" fill="#000">CS</text>
<rect x="1302" y="241" width="167" height="5" fill="#ff0000" shape-rendering="crispEdges"/>
<text x="1487.5" y="269.0" font-size="73.6" font-family="'Liberation Sans', Arial, Helvetica, sans-serif" fill="#000">CS-TPP-PJ 2.5%w/v</text>
<rect x="1302" y="330" width="167" height="5" fill="#00ff00" shape-rendering="crispEdges"/>
<text x="1487.5" y="358.1" font-size="73.6" font-family="'Liberation Sans', Arial, Helvetica, sans-serif" fill="#000">CS-TPP-PJ 5.0%w/v</text>
<rect x="1302" y="420" width="167" height="4" fill="#00009b" shape-rendering="crispEdges"/>
<text x="1487.5" y="447.2" font-size="73.6" font-family="'Liberation Sans', Arial, Helvetica, sans-serif" fill="#000">CS-TPP-PJ 7.5%w/v</text>
<rect x="1302" y="509" width="167" height="5" fill="#ff00ff" shape-rendering="crispEdges"/>
<text x="1487.5" y="536.3" font-size="73.6" font-family="'Liberation Sans', Arial, Helvetica, sans-serif" fill="#000">CS-TPP-PJ 10.0%w/v</text>
<rect x="1302" y="597" width="167" height="5" fill="#808000" shape-rendering="crispEdges"/>
<text x="1487.5" y="625.4" font-size="73.6" font-family="'Liberation Sans', Arial, Helvetica, sans-serif" fill="#000">CS-TPP</text>
<text x="537.1" y="1682" font-size="63.5" text-anchor="middle" font-family="'Liberation Sans', Arial, Helvetica, sans-serif" fill="#000">10</text>
<text x="881.3" y="1682" font-size="63.5" text-anchor="middle" font-family="'Liberation Sans', Arial, Helvetica, sans-serif" fill="#000">20</text>
<text x="1225.5" y="1682" font-size="63.5" text-anchor="middle" font-family="'Liberation Sans', Arial, Helvetica, sans-serif" fill="#000">30</text>
<text x="1569.6" y="1682" font-size="63.5" text-anchor="middle" font-family="'Liberation Sans', Arial, Helvetica, sans-serif" fill="#000">40</text>
<text x="1913.8" y="1682" font-size="63.5" text-anchor="middle" font-family="'Liberation Sans', Arial, Helvetica, sans-serif" fill="#000">50</text>
<text x="2258.0" y="1682" font-size="63.5" text-anchor="middle" font-family="'Liberation Sans', Arial, Helvetica, sans-serif" fill="#000">60</text>
<text x="316" y="1603.5" font-size="63.5" text-anchor="end" font-family="'Liberation Sans', Arial, Helvetica, sans-serif" fill="#000">0</text>
<text x="316" y="1348.4" font-size="63.5" text-anchor="end" font-family="'Liberation Sans', Arial, Helvetica, sans-serif" fill="#000">200</text>
<text x="316" y="1093.3" font-size="63.5" text-anchor="end" font-family="'Liberation Sans', Arial, Helvetica, sans-serif" fill="#000">400</text>
<text x="316" y="838.2" font-size="63.5" text-anchor="end" font-family="'Liberation Sans', Arial, Helvetica, sans-serif" fill="#000">600</text>
<text x="316" y="583.2" font-size="63.5" text-anchor="end" font-family="'Liberation Sans', Arial, Helvetica, sans-serif" fill="#000">800</text>
<text x="316" y="328.1" font-size="63.5" text-anchor="end" font-family="'Liberation Sans', Arial, Helvetica, sans-serif" fill="#000">1000</text>
<text x="316" y="73.0" font-size="63.5" text-anchor="end" font-family="'Liberation Sans', Arial, Helvetica, sans-serif" fill="#000">1200</text>
<text x="1310.8" y="1800.6" font-size="77.5" text-anchor="middle" font-family="'Liberation Sans', Arial, Helvetica, sans-serif" fill="#000">2theta (deg)</text>
<text transform="translate(77.3 818.8) rotate(-90)" font-size="76.6" text-anchor="middle" font-family="'Liberation Sans', Arial, Helvetica, sans-serif" fill="#000">Intensity (counts)</text>
</svg>
</body></html>
